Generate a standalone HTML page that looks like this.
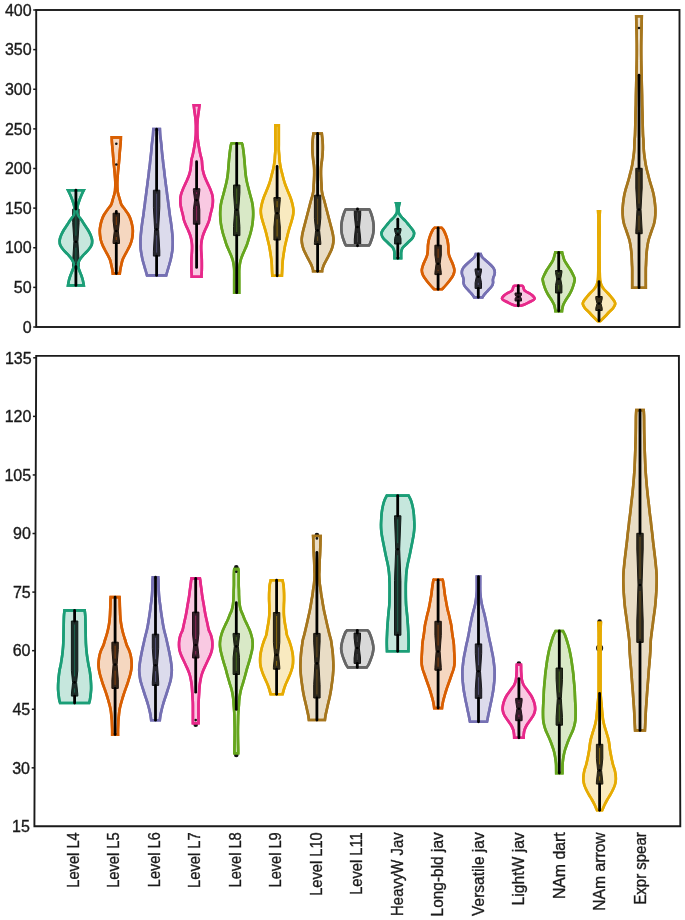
<!DOCTYPE html>
<html><head><meta charset="utf-8"><title>Violin plots</title>
<style>
html,body{margin:0;padding:0;background:#fff;}
body{width:685px;height:920px;overflow:hidden;}
svg{display:block;}
#w{width:685px;height:920px;will-change:transform;filter:blur(0.35px);}
text{font-family:"Liberation Sans",sans-serif;font-size:16px;fill:#1a1a1a;stroke:#1a1a1a;stroke-width:0.35px;}
text.xl{font-size:16.5px;}
</style></head><body><div id="w">
<svg width="685" height="920" viewBox="0 0 685 920">
<rect x="36.2" y="10" width="643.3" height="317" fill="none" stroke="#1a1a1a" stroke-width="1.9"/>
<path d="M36.2,355.9 L678.9,355.9 L680.3,826.3 L34.4,826.3 Z" fill="none" stroke="#1a1a1a" stroke-width="1.9" stroke-linejoin="miter"/>
<line x1="33.2" y1="10" x2="36.2" y2="10" stroke="#1a1a1a" stroke-width="1.5"/>
<text x="31.6" y="15.7" text-anchor="end">400</text>
<line x1="33.2" y1="49.62" x2="36.2" y2="49.62" stroke="#1a1a1a" stroke-width="1.5"/>
<text x="31.6" y="55.33" text-anchor="end">350</text>
<line x1="33.2" y1="89.25" x2="36.2" y2="89.25" stroke="#1a1a1a" stroke-width="1.5"/>
<text x="31.6" y="94.95" text-anchor="end">300</text>
<line x1="33.2" y1="128.88" x2="36.2" y2="128.88" stroke="#1a1a1a" stroke-width="1.5"/>
<text x="31.6" y="134.57" text-anchor="end">250</text>
<line x1="33.2" y1="168.5" x2="36.2" y2="168.5" stroke="#1a1a1a" stroke-width="1.5"/>
<text x="31.6" y="174.2" text-anchor="end">200</text>
<line x1="33.2" y1="208.12" x2="36.2" y2="208.12" stroke="#1a1a1a" stroke-width="1.5"/>
<text x="31.6" y="213.82" text-anchor="end">150</text>
<line x1="33.2" y1="247.75" x2="36.2" y2="247.75" stroke="#1a1a1a" stroke-width="1.5"/>
<text x="31.6" y="253.45" text-anchor="end">100</text>
<line x1="33.2" y1="287.38" x2="36.2" y2="287.38" stroke="#1a1a1a" stroke-width="1.5"/>
<text x="31.6" y="293.07" text-anchor="end">50</text>
<line x1="33.2" y1="327" x2="36.2" y2="327" stroke="#1a1a1a" stroke-width="1.5"/>
<text x="31.6" y="332.7" text-anchor="end">0</text>
<line x1="33.19" y1="357.8" x2="36.19" y2="357.8" stroke="#1a1a1a" stroke-width="1.5"/>
<text x="31.59" y="363.5" text-anchor="end">135</text>
<line x1="32.97" y1="416.38" x2="35.97" y2="416.38" stroke="#1a1a1a" stroke-width="1.5"/>
<text x="31.37" y="422.07" text-anchor="end">120</text>
<line x1="32.74" y1="474.95" x2="35.74" y2="474.95" stroke="#1a1a1a" stroke-width="1.5"/>
<text x="31.14" y="480.65" text-anchor="end">105</text>
<line x1="32.52" y1="533.52" x2="35.52" y2="533.52" stroke="#1a1a1a" stroke-width="1.5"/>
<text x="30.92" y="539.23" text-anchor="end">90</text>
<line x1="32.3" y1="592.1" x2="35.3" y2="592.1" stroke="#1a1a1a" stroke-width="1.5"/>
<text x="30.7" y="597.8" text-anchor="end">75</text>
<line x1="32.07" y1="650.67" x2="35.07" y2="650.67" stroke="#1a1a1a" stroke-width="1.5"/>
<text x="30.47" y="656.38" text-anchor="end">60</text>
<line x1="31.85" y1="709.25" x2="34.85" y2="709.25" stroke="#1a1a1a" stroke-width="1.5"/>
<text x="30.25" y="714.95" text-anchor="end">45</text>
<line x1="31.62" y1="767.83" x2="34.62" y2="767.83" stroke="#1a1a1a" stroke-width="1.5"/>
<text x="30.02" y="773.53" text-anchor="end">30</text>
<text x="29.8" y="832.1" text-anchor="end">15</text>
<path d="M68,190.2 L83.8,190.2 C83.42,191 82.22,193.37 81.5,195 C80.78,196.63 80.1,198.33 79.5,200 C78.9,201.67 78.28,203.33 77.9,205 C77.52,206.67 77.2,208.33 77.2,210 C77.2,211.67 77.18,213.33 77.9,215 C78.62,216.67 80.37,218.33 81.5,220 C82.63,221.67 83.62,223.33 84.7,225 C85.78,226.67 87.02,228.33 88,230 C88.98,231.67 89.92,233.33 90.6,235 C91.28,236.67 91.93,238.33 92.1,240 C92.27,241.67 92.23,243.33 91.6,245 C90.97,246.67 89.67,248.33 88.3,250 C86.93,251.67 84.87,253.33 83.4,255 C81.93,256.67 80.43,258.33 79.5,260 C78.57,261.67 77.85,263.33 77.8,265 C77.75,266.67 78.63,268.33 79.2,270 C79.77,271.67 80.6,273.33 81.2,275 C81.8,276.67 82.37,278.27 82.8,280 C83.23,281.73 83.63,284.5 83.8,285.4 L68,285.4 C68.17,284.5 68.57,281.73 69,280 C69.43,278.27 70,276.67 70.6,275 C71.2,273.33 72.03,271.67 72.6,270 C73.17,268.33 74.05,266.67 74,265 C73.95,263.33 73.23,261.67 72.3,260 C71.37,258.33 69.87,256.67 68.4,255 C66.93,253.33 64.87,251.67 63.5,250 C62.13,248.33 60.83,246.67 60.2,245 C59.57,243.33 59.53,241.67 59.7,240 C59.87,238.33 60.52,236.67 61.2,235 C61.88,233.33 62.82,231.67 63.8,230 C64.78,228.33 66.02,226.67 67.1,225 C68.18,223.33 69.17,221.67 70.3,220 C71.43,218.33 73.18,216.67 73.9,215 C74.62,213.33 74.6,211.67 74.6,210 C74.6,208.33 74.28,206.67 73.9,205 C73.52,203.33 72.9,201.67 72.3,200 C71.7,198.33 71.02,196.63 70.3,195 C69.58,193.37 68.38,191 68,190.2 Z" fill="#1b9e77" fill-opacity="0.25" stroke="#1b9e77" stroke-width="2.6" stroke-linejoin="miter" stroke-miterlimit="3"/>
<path d="M72.7,209.1 L79.1,209.1 L79.1,222.69 L77.9,241.7 L79.1,260.71 L79.1,266.7 L72.7,266.7 L72.7,260.71 L73.9,241.7 L72.7,222.69 Z" fill="#1d2c28" stroke="#101a17" stroke-width="1" stroke-linejoin="miter"/>
<line x1="75.9" y1="212.6" x2="75.9" y2="235.7" stroke="#1b9e77" stroke-opacity="0.85" stroke-width="0.6"/>
<line x1="75.9" y1="247.7" x2="75.9" y2="263.2" stroke="#1b9e77" stroke-opacity="0.85" stroke-width="0.6"/>
<path d="M68,190.2 L83.8,190.2 C83.42,191 82.22,193.37 81.5,195 C80.78,196.63 80.1,198.33 79.5,200 C78.9,201.67 78.28,203.33 77.9,205 C77.52,206.67 77.2,208.33 77.2,210 C77.2,211.67 77.18,213.33 77.9,215 C78.62,216.67 80.37,218.33 81.5,220 C82.63,221.67 83.62,223.33 84.7,225 C85.78,226.67 87.02,228.33 88,230 C88.98,231.67 89.92,233.33 90.6,235 C91.28,236.67 91.93,238.33 92.1,240 C92.27,241.67 92.23,243.33 91.6,245 C90.97,246.67 89.67,248.33 88.3,250 C86.93,251.67 84.87,253.33 83.4,255 C81.93,256.67 80.43,258.33 79.5,260 C78.57,261.67 77.85,263.33 77.8,265 C77.75,266.67 78.63,268.33 79.2,270 C79.77,271.67 80.6,273.33 81.2,275 C81.8,276.67 82.37,278.27 82.8,280 C83.23,281.73 83.63,284.5 83.8,285.4 L68,285.4 C68.17,284.5 68.57,281.73 69,280 C69.43,278.27 70,276.67 70.6,275 C71.2,273.33 72.03,271.67 72.6,270 C73.17,268.33 74.05,266.67 74,265 C73.95,263.33 73.23,261.67 72.3,260 C71.37,258.33 69.87,256.67 68.4,255 C66.93,253.33 64.87,251.67 63.5,250 C62.13,248.33 60.83,246.67 60.2,245 C59.57,243.33 59.53,241.67 59.7,240 C59.87,238.33 60.52,236.67 61.2,235 C61.88,233.33 62.82,231.67 63.8,230 C64.78,228.33 66.02,226.67 67.1,225 C68.18,223.33 69.17,221.67 70.3,220 C71.43,218.33 73.18,216.67 73.9,215 C74.62,213.33 74.6,211.67 74.6,210 C74.6,208.33 74.28,206.67 73.9,205 C73.52,203.33 72.9,201.67 72.3,200 C71.7,198.33 71.02,196.63 70.3,195 C69.58,193.37 68.38,191 68,190.2 Z" fill="none" stroke="#1b9e77" stroke-width="2.6" stroke-linejoin="miter" stroke-miterlimit="3"/>
<line x1="75.9" y1="190.2" x2="75.9" y2="209.1" stroke="#000" stroke-width="2.8" stroke-linecap="round"/>
<line x1="75.9" y1="266.7" x2="75.9" y2="285.4" stroke="#000" stroke-width="2.8" stroke-linecap="round"/>
<circle cx="75.9" cy="241.7" r="1.3" fill="#000"/>
<path d="M111.75,137.4 L120.85,137.4 C120.82,138.17 120.88,139.57 120.7,142 C120.53,144.43 120.08,148.67 119.8,152 C119.52,155.33 119.3,158.67 119,162 C118.7,165.33 118.28,168.67 118,172 C117.72,175.33 117.38,179 117.3,182 C117.22,185 117.35,188 117.5,190 C117.65,192 117.88,192.67 118.2,194 C118.52,195.33 119.02,196.67 119.4,198 C119.78,199.33 120.13,200.83 120.5,202 C120.87,203.17 120.8,203.67 121.6,205 C122.4,206.33 124.12,208.33 125.3,210 C126.48,211.67 127.78,213.33 128.7,215 C129.62,216.67 130.23,218.33 130.8,220 C131.37,221.67 131.77,223.33 132.1,225 C132.43,226.67 132.72,228.33 132.8,230 C132.88,231.67 132.77,233.33 132.6,235 C132.43,236.67 132.22,238.33 131.8,240 C131.38,241.67 130.8,243.33 130.1,245 C129.4,246.67 128.47,248.33 127.6,250 C126.73,251.67 125.75,253.33 124.9,255 C124.05,256.67 123.1,258.33 122.5,260 C121.9,261.67 121.65,263.5 121.3,265 C120.95,266.5 120.65,267.57 120.4,269 C120.15,270.43 119.9,272.83 119.8,273.6 L112.8,273.6 C112.7,272.83 112.45,270.43 112.2,269 C111.95,267.57 111.65,266.5 111.3,265 C110.95,263.5 110.7,261.67 110.1,260 C109.5,258.33 108.55,256.67 107.7,255 C106.85,253.33 105.87,251.67 105,250 C104.13,248.33 103.2,246.67 102.5,245 C101.8,243.33 101.22,241.67 100.8,240 C100.38,238.33 100.17,236.67 100,235 C99.83,233.33 99.72,231.67 99.8,230 C99.88,228.33 100.17,226.67 100.5,225 C100.83,223.33 101.23,221.67 101.8,220 C102.37,218.33 102.98,216.67 103.9,215 C104.82,213.33 106.12,211.67 107.3,210 C108.48,208.33 110.2,206.33 111,205 C111.8,203.67 111.73,203.17 112.1,202 C112.47,200.83 112.82,199.33 113.2,198 C113.58,196.67 114.08,195.33 114.4,194 C114.72,192.67 114.95,192 115.1,190 C115.25,188 115.38,185 115.3,182 C115.22,179 114.88,175.33 114.6,172 C114.32,168.67 113.9,165.33 113.6,162 C113.3,158.67 113.08,155.33 112.8,152 C112.52,148.67 112.07,144.43 111.9,142 C111.72,139.57 111.78,138.17 111.75,137.4 Z" fill="#d95f02" fill-opacity="0.25" stroke="#d95f02" stroke-width="2.6" stroke-linejoin="miter" stroke-miterlimit="3"/>
<path d="M113.1,213.2 L119.5,213.2 L119.5,221 L118.3,231 L119.5,241 L119.5,243.5 L113.1,243.5 L113.1,241 L114.3,231 L113.1,221 Z" fill="#34251a" stroke="#1f150e" stroke-width="1" stroke-linejoin="miter"/>
<line x1="116.3" y1="216.7" x2="116.3" y2="225" stroke="#d95f02" stroke-opacity="0.85" stroke-width="0.6"/>
<line x1="116.3" y1="237" x2="116.3" y2="240" stroke="#d95f02" stroke-opacity="0.85" stroke-width="0.6"/>
<path d="M111.75,137.4 L120.85,137.4 C120.82,138.17 120.88,139.57 120.7,142 C120.53,144.43 120.08,148.67 119.8,152 C119.52,155.33 119.3,158.67 119,162 C118.7,165.33 118.28,168.67 118,172 C117.72,175.33 117.38,179 117.3,182 C117.22,185 117.35,188 117.5,190 C117.65,192 117.88,192.67 118.2,194 C118.52,195.33 119.02,196.67 119.4,198 C119.78,199.33 120.13,200.83 120.5,202 C120.87,203.17 120.8,203.67 121.6,205 C122.4,206.33 124.12,208.33 125.3,210 C126.48,211.67 127.78,213.33 128.7,215 C129.62,216.67 130.23,218.33 130.8,220 C131.37,221.67 131.77,223.33 132.1,225 C132.43,226.67 132.72,228.33 132.8,230 C132.88,231.67 132.77,233.33 132.6,235 C132.43,236.67 132.22,238.33 131.8,240 C131.38,241.67 130.8,243.33 130.1,245 C129.4,246.67 128.47,248.33 127.6,250 C126.73,251.67 125.75,253.33 124.9,255 C124.05,256.67 123.1,258.33 122.5,260 C121.9,261.67 121.65,263.5 121.3,265 C120.95,266.5 120.65,267.57 120.4,269 C120.15,270.43 119.9,272.83 119.8,273.6 L112.8,273.6 C112.7,272.83 112.45,270.43 112.2,269 C111.95,267.57 111.65,266.5 111.3,265 C110.95,263.5 110.7,261.67 110.1,260 C109.5,258.33 108.55,256.67 107.7,255 C106.85,253.33 105.87,251.67 105,250 C104.13,248.33 103.2,246.67 102.5,245 C101.8,243.33 101.22,241.67 100.8,240 C100.38,238.33 100.17,236.67 100,235 C99.83,233.33 99.72,231.67 99.8,230 C99.88,228.33 100.17,226.67 100.5,225 C100.83,223.33 101.23,221.67 101.8,220 C102.37,218.33 102.98,216.67 103.9,215 C104.82,213.33 106.12,211.67 107.3,210 C108.48,208.33 110.2,206.33 111,205 C111.8,203.67 111.73,203.17 112.1,202 C112.47,200.83 112.82,199.33 113.2,198 C113.58,196.67 114.08,195.33 114.4,194 C114.72,192.67 114.95,192 115.1,190 C115.25,188 115.38,185 115.3,182 C115.22,179 114.88,175.33 114.6,172 C114.32,168.67 113.9,165.33 113.6,162 C113.3,158.67 113.08,155.33 112.8,152 C112.52,148.67 112.07,144.43 111.9,142 C111.72,139.57 111.78,138.17 111.75,137.4 Z" fill="none" stroke="#d95f02" stroke-width="2.6" stroke-linejoin="miter" stroke-miterlimit="3"/>
<line x1="116.3" y1="211.5" x2="116.3" y2="213.2" stroke="#000" stroke-width="2.8" stroke-linecap="round"/>
<line x1="116.3" y1="243.5" x2="116.3" y2="273.6" stroke="#000" stroke-width="2.8" stroke-linecap="round"/>
<circle cx="116.3" cy="231" r="1.3" fill="#000"/>
<circle cx="116.3" cy="143.8" r="1.3" fill="#111"/>
<circle cx="116.3" cy="164.5" r="1.3" fill="#111"/>
<path d="M153.3,129.1 L159.9,129.1 C159.95,130.08 160.05,133.18 160.2,135 C160.35,136.82 160.6,138.33 160.8,140 C161,141.67 161.23,143.33 161.4,145 C161.57,146.67 161.65,148.33 161.8,150 C161.95,151.67 162.12,153.33 162.3,155 C162.48,156.67 162.72,158.33 162.9,160 C163.08,161.67 163.2,163.33 163.4,165 C163.6,166.67 163.9,168.33 164.1,170 C164.3,171.67 164.4,173.33 164.6,175 C164.8,176.67 165.08,178.33 165.3,180 C165.52,181.67 165.68,183.33 165.9,185 C166.12,186.67 166.38,188.33 166.6,190 C166.82,191.67 166.98,193.33 167.2,195 C167.42,196.67 167.68,198.33 167.9,200 C168.12,201.67 168.28,203.33 168.5,205 C168.72,206.67 168.98,208.33 169.2,210 C169.42,211.67 169.57,213.33 169.8,215 C170.03,216.67 170.35,218.33 170.6,220 C170.85,221.67 171.08,223.33 171.3,225 C171.52,226.67 171.72,228.33 171.9,230 C172.08,231.67 172.27,233.33 172.4,235 C172.53,236.67 172.65,238.33 172.7,240 C172.75,241.67 172.75,243.33 172.7,245 C172.65,246.67 172.58,248.33 172.4,250 C172.22,251.67 171.9,253.33 171.6,255 C171.3,256.67 171,258.33 170.6,260 C170.2,261.67 169.68,263.33 169.2,265 C168.72,266.67 168.2,268.27 167.7,270 C167.2,271.73 166.45,274.5 166.2,275.4 L147,275.4 C146.75,274.5 146,271.73 145.5,270 C145,268.27 144.48,266.67 144,265 C143.52,263.33 143,261.67 142.6,260 C142.2,258.33 141.9,256.67 141.6,255 C141.3,253.33 140.98,251.67 140.8,250 C140.62,248.33 140.55,246.67 140.5,245 C140.45,243.33 140.45,241.67 140.5,240 C140.55,238.33 140.67,236.67 140.8,235 C140.93,233.33 141.12,231.67 141.3,230 C141.48,228.33 141.68,226.67 141.9,225 C142.12,223.33 142.35,221.67 142.6,220 C142.85,218.33 143.17,216.67 143.4,215 C143.63,213.33 143.78,211.67 144,210 C144.22,208.33 144.48,206.67 144.7,205 C144.92,203.33 145.08,201.67 145.3,200 C145.52,198.33 145.78,196.67 146,195 C146.22,193.33 146.38,191.67 146.6,190 C146.82,188.33 147.08,186.67 147.3,185 C147.52,183.33 147.68,181.67 147.9,180 C148.12,178.33 148.4,176.67 148.6,175 C148.8,173.33 148.9,171.67 149.1,170 C149.3,168.33 149.6,166.67 149.8,165 C150,163.33 150.12,161.67 150.3,160 C150.48,158.33 150.72,156.67 150.9,155 C151.08,153.33 151.25,151.67 151.4,150 C151.55,148.33 151.63,146.67 151.8,145 C151.97,143.33 152.2,141.67 152.4,140 C152.6,138.33 152.85,136.82 153,135 C153.15,133.18 153.25,130.08 153.3,129.1 Z" fill="#7570b3" fill-opacity="0.25" stroke="#7570b3" stroke-width="2.6" stroke-linejoin="miter" stroke-miterlimit="3"/>
<path d="M153.4,190.2 L159.8,190.2 L159.8,207.65 L158.6,229.4 L159.8,251.15 L159.8,256.1 L153.4,256.1 L153.4,251.15 L154.6,229.4 L153.4,207.65 Z" fill="#28272f" stroke="#17161c" stroke-width="1" stroke-linejoin="miter"/>
<line x1="156.6" y1="193.7" x2="156.6" y2="223.4" stroke="#7570b3" stroke-opacity="0.85" stroke-width="0.6"/>
<line x1="156.6" y1="235.4" x2="156.6" y2="252.6" stroke="#7570b3" stroke-opacity="0.85" stroke-width="0.6"/>
<path d="M153.3,129.1 L159.9,129.1 C159.95,130.08 160.05,133.18 160.2,135 C160.35,136.82 160.6,138.33 160.8,140 C161,141.67 161.23,143.33 161.4,145 C161.57,146.67 161.65,148.33 161.8,150 C161.95,151.67 162.12,153.33 162.3,155 C162.48,156.67 162.72,158.33 162.9,160 C163.08,161.67 163.2,163.33 163.4,165 C163.6,166.67 163.9,168.33 164.1,170 C164.3,171.67 164.4,173.33 164.6,175 C164.8,176.67 165.08,178.33 165.3,180 C165.52,181.67 165.68,183.33 165.9,185 C166.12,186.67 166.38,188.33 166.6,190 C166.82,191.67 166.98,193.33 167.2,195 C167.42,196.67 167.68,198.33 167.9,200 C168.12,201.67 168.28,203.33 168.5,205 C168.72,206.67 168.98,208.33 169.2,210 C169.42,211.67 169.57,213.33 169.8,215 C170.03,216.67 170.35,218.33 170.6,220 C170.85,221.67 171.08,223.33 171.3,225 C171.52,226.67 171.72,228.33 171.9,230 C172.08,231.67 172.27,233.33 172.4,235 C172.53,236.67 172.65,238.33 172.7,240 C172.75,241.67 172.75,243.33 172.7,245 C172.65,246.67 172.58,248.33 172.4,250 C172.22,251.67 171.9,253.33 171.6,255 C171.3,256.67 171,258.33 170.6,260 C170.2,261.67 169.68,263.33 169.2,265 C168.72,266.67 168.2,268.27 167.7,270 C167.2,271.73 166.45,274.5 166.2,275.4 L147,275.4 C146.75,274.5 146,271.73 145.5,270 C145,268.27 144.48,266.67 144,265 C143.52,263.33 143,261.67 142.6,260 C142.2,258.33 141.9,256.67 141.6,255 C141.3,253.33 140.98,251.67 140.8,250 C140.62,248.33 140.55,246.67 140.5,245 C140.45,243.33 140.45,241.67 140.5,240 C140.55,238.33 140.67,236.67 140.8,235 C140.93,233.33 141.12,231.67 141.3,230 C141.48,228.33 141.68,226.67 141.9,225 C142.12,223.33 142.35,221.67 142.6,220 C142.85,218.33 143.17,216.67 143.4,215 C143.63,213.33 143.78,211.67 144,210 C144.22,208.33 144.48,206.67 144.7,205 C144.92,203.33 145.08,201.67 145.3,200 C145.52,198.33 145.78,196.67 146,195 C146.22,193.33 146.38,191.67 146.6,190 C146.82,188.33 147.08,186.67 147.3,185 C147.52,183.33 147.68,181.67 147.9,180 C148.12,178.33 148.4,176.67 148.6,175 C148.8,173.33 148.9,171.67 149.1,170 C149.3,168.33 149.6,166.67 149.8,165 C150,163.33 150.12,161.67 150.3,160 C150.48,158.33 150.72,156.67 150.9,155 C151.08,153.33 151.25,151.67 151.4,150 C151.55,148.33 151.63,146.67 151.8,145 C151.97,143.33 152.2,141.67 152.4,140 C152.6,138.33 152.85,136.82 153,135 C153.15,133.18 153.25,130.08 153.3,129.1 Z" fill="none" stroke="#7570b3" stroke-width="2.6" stroke-linejoin="miter" stroke-miterlimit="3"/>
<line x1="156.6" y1="129.1" x2="156.6" y2="190.2" stroke="#000" stroke-width="2.8" stroke-linecap="round"/>
<line x1="156.6" y1="256.1" x2="156.6" y2="275.4" stroke="#000" stroke-width="2.8" stroke-linecap="round"/>
<circle cx="156.6" cy="229.4" r="1.3" fill="#000"/>
<path d="M193.7,105.2 L199.5,105.2 C199.4,106 199.12,108.37 198.9,110 C198.68,111.63 198.42,113.33 198.2,115 C197.98,116.67 197.75,118.33 197.6,120 C197.45,121.67 197.35,123.33 197.3,125 C197.25,126.67 197.28,128.33 197.3,130 C197.32,131.67 197.3,133.33 197.4,135 C197.5,136.67 197.7,138.33 197.9,140 C198.1,141.67 198.33,143.33 198.6,145 C198.87,146.67 199.18,148.33 199.5,150 C199.82,151.67 200.12,153.33 200.5,155 C200.88,156.67 201.52,158.33 201.8,160 C202.08,161.67 202.03,163.33 202.2,165 C202.37,166.67 202.48,168.33 202.8,170 C203.12,171.67 203.55,173.33 204.1,175 C204.65,176.67 205.38,178.33 206.1,180 C206.82,181.67 207.65,183.33 208.4,185 C209.15,186.67 209.95,188.33 210.6,190 C211.25,191.67 211.92,193.33 212.3,195 C212.68,196.67 212.85,198.33 212.9,200 C212.95,201.67 212.82,203.33 212.6,205 C212.38,206.67 211.98,208.33 211.6,210 C211.22,211.67 210.68,213.33 210.3,215 C209.92,216.67 209.78,218.33 209.3,220 C208.82,221.67 208.1,223.33 207.4,225 C206.7,226.67 205.82,228.33 205.1,230 C204.38,231.67 203.65,233.33 203.1,235 C202.55,236.67 202.12,238.33 201.8,240 C201.48,241.67 201.3,243.33 201.2,245 C201.1,246.67 201.15,248.33 201.2,250 C201.25,251.67 201.4,253.33 201.5,255 C201.6,256.67 201.75,257.5 201.8,260 C201.85,262.5 201.85,267.5 201.8,270 C201.75,272.5 201.55,273.87 201.5,275 C201.45,276.13 201.5,276.5 201.5,276.8 L191.7,276.8 C191.7,276.5 191.75,276.13 191.7,275 C191.65,273.87 191.45,272.5 191.4,270 C191.35,267.5 191.35,262.5 191.4,260 C191.45,257.5 191.6,256.67 191.7,255 C191.8,253.33 191.95,251.67 192,250 C192.05,248.33 192.1,246.67 192,245 C191.9,243.33 191.72,241.67 191.4,240 C191.08,238.33 190.65,236.67 190.1,235 C189.55,233.33 188.82,231.67 188.1,230 C187.38,228.33 186.5,226.67 185.8,225 C185.1,223.33 184.38,221.67 183.9,220 C183.42,218.33 183.28,216.67 182.9,215 C182.52,213.33 181.98,211.67 181.6,210 C181.22,208.33 180.82,206.67 180.6,205 C180.38,203.33 180.25,201.67 180.3,200 C180.35,198.33 180.52,196.67 180.9,195 C181.28,193.33 181.95,191.67 182.6,190 C183.25,188.33 184.05,186.67 184.8,185 C185.55,183.33 186.38,181.67 187.1,180 C187.82,178.33 188.55,176.67 189.1,175 C189.65,173.33 190.08,171.67 190.4,170 C190.72,168.33 190.83,166.67 191,165 C191.17,163.33 191.12,161.67 191.4,160 C191.68,158.33 192.32,156.67 192.7,155 C193.08,153.33 193.38,151.67 193.7,150 C194.02,148.33 194.33,146.67 194.6,145 C194.87,143.33 195.1,141.67 195.3,140 C195.5,138.33 195.7,136.67 195.8,135 C195.9,133.33 195.88,131.67 195.9,130 C195.92,128.33 195.95,126.67 195.9,125 C195.85,123.33 195.75,121.67 195.6,120 C195.45,118.33 195.22,116.67 195,115 C194.78,113.33 194.52,111.63 194.3,110 C194.08,108.37 193.8,106 193.7,105.2 Z" fill="#e7298a" fill-opacity="0.25" stroke="#e7298a" stroke-width="2.6" stroke-linejoin="miter" stroke-miterlimit="3"/>
<path d="M193.4,188.7 L199.8,188.7 L199.8,190.7 L198.6,200.1 L199.8,209.5 L199.8,224.2 L193.4,224.2 L193.4,209.5 L194.6,200.1 L193.4,190.7 Z" fill="#351e2a" stroke="#201119" stroke-width="1" stroke-linejoin="miter"/>
<line x1="196.6" y1="192.2" x2="196.6" y2="194.1" stroke="#e7298a" stroke-opacity="0.85" stroke-width="0.6"/>
<line x1="196.6" y1="206.1" x2="196.6" y2="220.7" stroke="#e7298a" stroke-opacity="0.85" stroke-width="0.6"/>
<path d="M193.7,105.2 L199.5,105.2 C199.4,106 199.12,108.37 198.9,110 C198.68,111.63 198.42,113.33 198.2,115 C197.98,116.67 197.75,118.33 197.6,120 C197.45,121.67 197.35,123.33 197.3,125 C197.25,126.67 197.28,128.33 197.3,130 C197.32,131.67 197.3,133.33 197.4,135 C197.5,136.67 197.7,138.33 197.9,140 C198.1,141.67 198.33,143.33 198.6,145 C198.87,146.67 199.18,148.33 199.5,150 C199.82,151.67 200.12,153.33 200.5,155 C200.88,156.67 201.52,158.33 201.8,160 C202.08,161.67 202.03,163.33 202.2,165 C202.37,166.67 202.48,168.33 202.8,170 C203.12,171.67 203.55,173.33 204.1,175 C204.65,176.67 205.38,178.33 206.1,180 C206.82,181.67 207.65,183.33 208.4,185 C209.15,186.67 209.95,188.33 210.6,190 C211.25,191.67 211.92,193.33 212.3,195 C212.68,196.67 212.85,198.33 212.9,200 C212.95,201.67 212.82,203.33 212.6,205 C212.38,206.67 211.98,208.33 211.6,210 C211.22,211.67 210.68,213.33 210.3,215 C209.92,216.67 209.78,218.33 209.3,220 C208.82,221.67 208.1,223.33 207.4,225 C206.7,226.67 205.82,228.33 205.1,230 C204.38,231.67 203.65,233.33 203.1,235 C202.55,236.67 202.12,238.33 201.8,240 C201.48,241.67 201.3,243.33 201.2,245 C201.1,246.67 201.15,248.33 201.2,250 C201.25,251.67 201.4,253.33 201.5,255 C201.6,256.67 201.75,257.5 201.8,260 C201.85,262.5 201.85,267.5 201.8,270 C201.75,272.5 201.55,273.87 201.5,275 C201.45,276.13 201.5,276.5 201.5,276.8 L191.7,276.8 C191.7,276.5 191.75,276.13 191.7,275 C191.65,273.87 191.45,272.5 191.4,270 C191.35,267.5 191.35,262.5 191.4,260 C191.45,257.5 191.6,256.67 191.7,255 C191.8,253.33 191.95,251.67 192,250 C192.05,248.33 192.1,246.67 192,245 C191.9,243.33 191.72,241.67 191.4,240 C191.08,238.33 190.65,236.67 190.1,235 C189.55,233.33 188.82,231.67 188.1,230 C187.38,228.33 186.5,226.67 185.8,225 C185.1,223.33 184.38,221.67 183.9,220 C183.42,218.33 183.28,216.67 182.9,215 C182.52,213.33 181.98,211.67 181.6,210 C181.22,208.33 180.82,206.67 180.6,205 C180.38,203.33 180.25,201.67 180.3,200 C180.35,198.33 180.52,196.67 180.9,195 C181.28,193.33 181.95,191.67 182.6,190 C183.25,188.33 184.05,186.67 184.8,185 C185.55,183.33 186.38,181.67 187.1,180 C187.82,178.33 188.55,176.67 189.1,175 C189.65,173.33 190.08,171.67 190.4,170 C190.72,168.33 190.83,166.67 191,165 C191.17,163.33 191.12,161.67 191.4,160 C191.68,158.33 192.32,156.67 192.7,155 C193.08,153.33 193.38,151.67 193.7,150 C194.02,148.33 194.33,146.67 194.6,145 C194.87,143.33 195.1,141.67 195.3,140 C195.5,138.33 195.7,136.67 195.8,135 C195.9,133.33 195.88,131.67 195.9,130 C195.92,128.33 195.95,126.67 195.9,125 C195.85,123.33 195.75,121.67 195.6,120 C195.45,118.33 195.22,116.67 195,115 C194.78,113.33 194.52,111.63 194.3,110 C194.08,108.37 193.8,106 193.7,105.2 Z" fill="none" stroke="#e7298a" stroke-width="2.6" stroke-linejoin="miter" stroke-miterlimit="3"/>
<line x1="196.6" y1="161.7" x2="196.6" y2="188.7" stroke="#000" stroke-width="2.8" stroke-linecap="round"/>
<line x1="196.6" y1="224.2" x2="196.6" y2="267.4" stroke="#000" stroke-width="2.8" stroke-linecap="round"/>
<circle cx="196.6" cy="200.1" r="1.3" fill="#000"/>
<path d="M231.6,143.3 L241.8,143.3 C241.92,143.58 242.25,143.88 242.5,145 C242.75,146.12 243.07,148.33 243.3,150 C243.53,151.67 243.72,153.33 243.9,155 C244.08,156.67 244.25,158.33 244.4,160 C244.55,161.67 244.67,163.33 244.8,165 C244.93,166.67 245.05,168.33 245.2,170 C245.35,171.67 245.48,173.33 245.7,175 C245.92,176.67 246.18,178.33 246.5,180 C246.82,181.67 247.2,183.33 247.6,185 C248,186.67 248.47,188.33 248.9,190 C249.33,191.67 249.75,193.33 250.2,195 C250.65,196.67 251.2,198.33 251.6,200 C252,201.67 252.35,203.33 252.6,205 C252.85,206.67 253,208.33 253.1,210 C253.2,211.67 253.23,213.33 253.2,215 C253.17,216.67 253.05,218.33 252.9,220 C252.75,221.67 252.57,223.33 252.3,225 C252.03,226.67 251.68,228.33 251.3,230 C250.92,231.67 250.48,233.33 250,235 C249.52,236.67 248.93,238.33 248.4,240 C247.87,241.67 247.42,243.33 246.8,245 C246.18,246.67 245.42,248.33 244.7,250 C243.98,251.67 243.17,253.33 242.5,255 C241.83,256.67 241.17,258.33 240.7,260 C240.23,261.67 239.95,263.33 239.7,265 C239.45,266.67 239.28,267.5 239.2,270 C239.12,272.5 239.2,276.22 239.2,280 C239.2,283.78 239.2,290.58 239.2,292.7 L234.2,292.7 C234.2,290.58 234.2,283.78 234.2,280 C234.2,276.22 234.28,272.5 234.2,270 C234.12,267.5 233.95,266.67 233.7,265 C233.45,263.33 233.17,261.67 232.7,260 C232.23,258.33 231.57,256.67 230.9,255 C230.23,253.33 229.42,251.67 228.7,250 C227.98,248.33 227.22,246.67 226.6,245 C225.98,243.33 225.53,241.67 225,240 C224.47,238.33 223.88,236.67 223.4,235 C222.92,233.33 222.48,231.67 222.1,230 C221.72,228.33 221.37,226.67 221.1,225 C220.83,223.33 220.65,221.67 220.5,220 C220.35,218.33 220.23,216.67 220.2,215 C220.17,213.33 220.2,211.67 220.3,210 C220.4,208.33 220.55,206.67 220.8,205 C221.05,203.33 221.4,201.67 221.8,200 C222.2,198.33 222.75,196.67 223.2,195 C223.65,193.33 224.07,191.67 224.5,190 C224.93,188.33 225.4,186.67 225.8,185 C226.2,183.33 226.58,181.67 226.9,180 C227.22,178.33 227.48,176.67 227.7,175 C227.92,173.33 228.05,171.67 228.2,170 C228.35,168.33 228.47,166.67 228.6,165 C228.73,163.33 228.85,161.67 229,160 C229.15,158.33 229.32,156.67 229.5,155 C229.68,153.33 229.87,151.67 230.1,150 C230.33,148.33 230.65,146.12 230.9,145 C231.15,143.88 231.48,143.58 231.6,143.3 Z" fill="#66a61e" fill-opacity="0.25" stroke="#66a61e" stroke-width="2.6" stroke-linejoin="miter" stroke-miterlimit="3"/>
<path d="M233.5,185 L239.9,185 L239.9,193.1 L238.7,209.8 L239.9,226.5 L239.9,235.6 L233.5,235.6 L233.5,226.5 L234.7,209.8 L233.5,193.1 Z" fill="#262d1d" stroke="#161b10" stroke-width="1" stroke-linejoin="miter"/>
<line x1="236.7" y1="188.5" x2="236.7" y2="203.8" stroke="#66a61e" stroke-opacity="0.85" stroke-width="0.6"/>
<line x1="236.7" y1="215.8" x2="236.7" y2="232.1" stroke="#66a61e" stroke-opacity="0.85" stroke-width="0.6"/>
<path d="M231.6,143.3 L241.8,143.3 C241.92,143.58 242.25,143.88 242.5,145 C242.75,146.12 243.07,148.33 243.3,150 C243.53,151.67 243.72,153.33 243.9,155 C244.08,156.67 244.25,158.33 244.4,160 C244.55,161.67 244.67,163.33 244.8,165 C244.93,166.67 245.05,168.33 245.2,170 C245.35,171.67 245.48,173.33 245.7,175 C245.92,176.67 246.18,178.33 246.5,180 C246.82,181.67 247.2,183.33 247.6,185 C248,186.67 248.47,188.33 248.9,190 C249.33,191.67 249.75,193.33 250.2,195 C250.65,196.67 251.2,198.33 251.6,200 C252,201.67 252.35,203.33 252.6,205 C252.85,206.67 253,208.33 253.1,210 C253.2,211.67 253.23,213.33 253.2,215 C253.17,216.67 253.05,218.33 252.9,220 C252.75,221.67 252.57,223.33 252.3,225 C252.03,226.67 251.68,228.33 251.3,230 C250.92,231.67 250.48,233.33 250,235 C249.52,236.67 248.93,238.33 248.4,240 C247.87,241.67 247.42,243.33 246.8,245 C246.18,246.67 245.42,248.33 244.7,250 C243.98,251.67 243.17,253.33 242.5,255 C241.83,256.67 241.17,258.33 240.7,260 C240.23,261.67 239.95,263.33 239.7,265 C239.45,266.67 239.28,267.5 239.2,270 C239.12,272.5 239.2,276.22 239.2,280 C239.2,283.78 239.2,290.58 239.2,292.7 L234.2,292.7 C234.2,290.58 234.2,283.78 234.2,280 C234.2,276.22 234.28,272.5 234.2,270 C234.12,267.5 233.95,266.67 233.7,265 C233.45,263.33 233.17,261.67 232.7,260 C232.23,258.33 231.57,256.67 230.9,255 C230.23,253.33 229.42,251.67 228.7,250 C227.98,248.33 227.22,246.67 226.6,245 C225.98,243.33 225.53,241.67 225,240 C224.47,238.33 223.88,236.67 223.4,235 C222.92,233.33 222.48,231.67 222.1,230 C221.72,228.33 221.37,226.67 221.1,225 C220.83,223.33 220.65,221.67 220.5,220 C220.35,218.33 220.23,216.67 220.2,215 C220.17,213.33 220.2,211.67 220.3,210 C220.4,208.33 220.55,206.67 220.8,205 C221.05,203.33 221.4,201.67 221.8,200 C222.2,198.33 222.75,196.67 223.2,195 C223.65,193.33 224.07,191.67 224.5,190 C224.93,188.33 225.4,186.67 225.8,185 C226.2,183.33 226.58,181.67 226.9,180 C227.22,178.33 227.48,176.67 227.7,175 C227.92,173.33 228.05,171.67 228.2,170 C228.35,168.33 228.47,166.67 228.6,165 C228.73,163.33 228.85,161.67 229,160 C229.15,158.33 229.32,156.67 229.5,155 C229.68,153.33 229.87,151.67 230.1,150 C230.33,148.33 230.65,146.12 230.9,145 C231.15,143.88 231.48,143.58 231.6,143.3 Z" fill="none" stroke="#66a61e" stroke-width="2.6" stroke-linejoin="miter" stroke-miterlimit="3"/>
<line x1="236.7" y1="143.3" x2="236.7" y2="185" stroke="#000" stroke-width="2.8" stroke-linecap="round"/>
<line x1="236.7" y1="235.6" x2="236.7" y2="292.7" stroke="#000" stroke-width="2.8" stroke-linecap="round"/>
<circle cx="236.7" cy="209.8" r="1.3" fill="#000"/>
<path d="M275.4,125.2 L278.8,125.2 C278.8,126.83 278.8,131.7 278.8,135 C278.8,138.3 278.8,142.5 278.8,145 C278.8,147.5 278.73,148.33 278.8,150 C278.87,151.67 279.08,153.33 279.2,155 C279.32,156.67 279.33,158.33 279.5,160 C279.67,161.67 279.92,163.33 280.2,165 C280.48,166.67 280.82,168.33 281.2,170 C281.58,171.67 282.07,173.33 282.5,175 C282.93,176.67 283.32,178.33 283.8,180 C284.28,181.67 284.8,183.33 285.4,185 C286,186.67 286.72,188.33 287.4,190 C288.08,191.67 288.85,193.33 289.5,195 C290.15,196.67 290.78,198.33 291.3,200 C291.82,201.67 292.25,203.33 292.6,205 C292.95,206.67 293.32,208.33 293.4,210 C293.48,211.67 293.35,213.33 293.1,215 C292.85,216.67 292.35,218.33 291.9,220 C291.45,221.67 290.9,223.33 290.4,225 C289.9,226.67 289.37,228.33 288.9,230 C288.43,231.67 288.02,233.33 287.6,235 C287.18,236.67 286.8,238.33 286.4,240 C286,241.67 285.55,243.33 285.2,245 C284.85,246.67 284.58,248.33 284.3,250 C284.02,251.67 283.75,253.33 283.5,255 C283.25,256.67 282.98,258.33 282.8,260 C282.62,261.67 282.5,263.33 282.4,265 C282.3,266.67 282.28,268.2 282.2,270 C282.12,271.8 281.95,274.83 281.9,275.8 L272.3,275.8 C272.25,274.83 272.08,271.8 272,270 C271.92,268.2 271.9,266.67 271.8,265 C271.7,263.33 271.58,261.67 271.4,260 C271.22,258.33 270.95,256.67 270.7,255 C270.45,253.33 270.18,251.67 269.9,250 C269.62,248.33 269.35,246.67 269,245 C268.65,243.33 268.2,241.67 267.8,240 C267.4,238.33 267.02,236.67 266.6,235 C266.18,233.33 265.77,231.67 265.3,230 C264.83,228.33 264.3,226.67 263.8,225 C263.3,223.33 262.75,221.67 262.3,220 C261.85,218.33 261.35,216.67 261.1,215 C260.85,213.33 260.72,211.67 260.8,210 C260.88,208.33 261.25,206.67 261.6,205 C261.95,203.33 262.38,201.67 262.9,200 C263.42,198.33 264.05,196.67 264.7,195 C265.35,193.33 266.12,191.67 266.8,190 C267.48,188.33 268.2,186.67 268.8,185 C269.4,183.33 269.92,181.67 270.4,180 C270.88,178.33 271.27,176.67 271.7,175 C272.13,173.33 272.62,171.67 273,170 C273.38,168.33 273.72,166.67 274,165 C274.28,163.33 274.53,161.67 274.7,160 C274.87,158.33 274.88,156.67 275,155 C275.12,153.33 275.33,151.67 275.4,150 C275.47,148.33 275.4,147.5 275.4,145 C275.4,142.5 275.4,138.3 275.4,135 C275.4,131.7 275.4,126.83 275.4,125.2 Z" fill="#e6ab02" fill-opacity="0.25" stroke="#e6ab02" stroke-width="2.6" stroke-linejoin="miter" stroke-miterlimit="3"/>
<path d="M273.9,197.6 L280.3,197.6 L280.3,199.6 L279.1,213.3 L280.3,227 L280.3,240 L273.9,240 L273.9,227 L275.1,213.3 L273.9,199.6 Z" fill="#352e1a" stroke="#201b0e" stroke-width="1" stroke-linejoin="miter"/>
<line x1="277.1" y1="201.1" x2="277.1" y2="207.3" stroke="#e6ab02" stroke-opacity="0.85" stroke-width="0.6"/>
<line x1="277.1" y1="219.3" x2="277.1" y2="236.5" stroke="#e6ab02" stroke-opacity="0.85" stroke-width="0.6"/>
<path d="M275.4,125.2 L278.8,125.2 C278.8,126.83 278.8,131.7 278.8,135 C278.8,138.3 278.8,142.5 278.8,145 C278.8,147.5 278.73,148.33 278.8,150 C278.87,151.67 279.08,153.33 279.2,155 C279.32,156.67 279.33,158.33 279.5,160 C279.67,161.67 279.92,163.33 280.2,165 C280.48,166.67 280.82,168.33 281.2,170 C281.58,171.67 282.07,173.33 282.5,175 C282.93,176.67 283.32,178.33 283.8,180 C284.28,181.67 284.8,183.33 285.4,185 C286,186.67 286.72,188.33 287.4,190 C288.08,191.67 288.85,193.33 289.5,195 C290.15,196.67 290.78,198.33 291.3,200 C291.82,201.67 292.25,203.33 292.6,205 C292.95,206.67 293.32,208.33 293.4,210 C293.48,211.67 293.35,213.33 293.1,215 C292.85,216.67 292.35,218.33 291.9,220 C291.45,221.67 290.9,223.33 290.4,225 C289.9,226.67 289.37,228.33 288.9,230 C288.43,231.67 288.02,233.33 287.6,235 C287.18,236.67 286.8,238.33 286.4,240 C286,241.67 285.55,243.33 285.2,245 C284.85,246.67 284.58,248.33 284.3,250 C284.02,251.67 283.75,253.33 283.5,255 C283.25,256.67 282.98,258.33 282.8,260 C282.62,261.67 282.5,263.33 282.4,265 C282.3,266.67 282.28,268.2 282.2,270 C282.12,271.8 281.95,274.83 281.9,275.8 L272.3,275.8 C272.25,274.83 272.08,271.8 272,270 C271.92,268.2 271.9,266.67 271.8,265 C271.7,263.33 271.58,261.67 271.4,260 C271.22,258.33 270.95,256.67 270.7,255 C270.45,253.33 270.18,251.67 269.9,250 C269.62,248.33 269.35,246.67 269,245 C268.65,243.33 268.2,241.67 267.8,240 C267.4,238.33 267.02,236.67 266.6,235 C266.18,233.33 265.77,231.67 265.3,230 C264.83,228.33 264.3,226.67 263.8,225 C263.3,223.33 262.75,221.67 262.3,220 C261.85,218.33 261.35,216.67 261.1,215 C260.85,213.33 260.72,211.67 260.8,210 C260.88,208.33 261.25,206.67 261.6,205 C261.95,203.33 262.38,201.67 262.9,200 C263.42,198.33 264.05,196.67 264.7,195 C265.35,193.33 266.12,191.67 266.8,190 C267.48,188.33 268.2,186.67 268.8,185 C269.4,183.33 269.92,181.67 270.4,180 C270.88,178.33 271.27,176.67 271.7,175 C272.13,173.33 272.62,171.67 273,170 C273.38,168.33 273.72,166.67 274,165 C274.28,163.33 274.53,161.67 274.7,160 C274.87,158.33 274.88,156.67 275,155 C275.12,153.33 275.33,151.67 275.4,150 C275.47,148.33 275.4,147.5 275.4,145 C275.4,142.5 275.4,138.3 275.4,135 C275.4,131.7 275.4,126.83 275.4,125.2 Z" fill="none" stroke="#e6ab02" stroke-width="2.6" stroke-linejoin="miter" stroke-miterlimit="3"/>
<line x1="277.1" y1="166.5" x2="277.1" y2="197.6" stroke="#000" stroke-width="2.8" stroke-linecap="round"/>
<line x1="277.1" y1="240" x2="277.1" y2="275.8" stroke="#000" stroke-width="2.8" stroke-linecap="round"/>
<circle cx="277.1" cy="213.3" r="1.3" fill="#000"/>
<path d="M313.4,133.5 L321.8,133.5 C321.92,134.58 322.33,138.08 322.5,140 C322.67,141.92 322.75,143.33 322.8,145 C322.85,146.67 322.85,148.33 322.8,150 C322.75,151.67 322.63,153.33 322.5,155 C322.37,156.67 322.2,158.33 322,160 C321.8,161.67 321.47,163.33 321.3,165 C321.13,166.67 321.05,168.33 321,170 C320.95,171.67 320.97,173.33 321,175 C321.03,176.67 321.12,178.33 321.2,180 C321.28,181.67 321.42,183.33 321.5,185 C321.58,186.67 321.52,188.33 321.7,190 C321.88,191.67 322.2,193.33 322.6,195 C323,196.67 323.63,198.33 324.1,200 C324.57,201.67 324.97,203.33 325.4,205 C325.83,206.67 326.27,208.33 326.7,210 C327.13,211.67 327.57,213.33 328,215 C328.43,216.67 328.87,218.33 329.3,220 C329.73,221.67 330.17,223.33 330.6,225 C331.03,226.67 331.5,228.33 331.9,230 C332.3,231.67 332.73,233.33 333,235 C333.27,236.67 333.52,238.33 333.5,240 C333.48,241.67 333.25,243.33 332.9,245 C332.55,246.67 332.05,248.33 331.4,250 C330.75,251.67 329.83,253.33 329,255 C328.17,256.67 327.27,258.33 326.4,260 C325.53,261.67 324.5,263.33 323.8,265 C323.1,266.67 322.48,268.95 322.2,270 C321.92,271.05 322.12,271.08 322.1,271.3 L313.1,271.3 C313.08,271.08 313.28,271.05 313,270 C312.72,268.95 312.1,266.67 311.4,265 C310.7,263.33 309.67,261.67 308.8,260 C307.93,258.33 307.03,256.67 306.2,255 C305.37,253.33 304.45,251.67 303.8,250 C303.15,248.33 302.65,246.67 302.3,245 C301.95,243.33 301.72,241.67 301.7,240 C301.68,238.33 301.93,236.67 302.2,235 C302.47,233.33 302.9,231.67 303.3,230 C303.7,228.33 304.17,226.67 304.6,225 C305.03,223.33 305.47,221.67 305.9,220 C306.33,218.33 306.77,216.67 307.2,215 C307.63,213.33 308.07,211.67 308.5,210 C308.93,208.33 309.37,206.67 309.8,205 C310.23,203.33 310.63,201.67 311.1,200 C311.57,198.33 312.2,196.67 312.6,195 C313,193.33 313.32,191.67 313.5,190 C313.68,188.33 313.62,186.67 313.7,185 C313.78,183.33 313.92,181.67 314,180 C314.08,178.33 314.17,176.67 314.2,175 C314.23,173.33 314.25,171.67 314.2,170 C314.15,168.33 314.07,166.67 313.9,165 C313.73,163.33 313.4,161.67 313.2,160 C313,158.33 312.83,156.67 312.7,155 C312.57,153.33 312.45,151.67 312.4,150 C312.35,148.33 312.35,146.67 312.4,145 C312.45,143.33 312.53,141.92 312.7,140 C312.87,138.08 313.28,134.58 313.4,133.5 Z" fill="#a6761d" fill-opacity="0.25" stroke="#a6761d" stroke-width="2.6" stroke-linejoin="miter" stroke-miterlimit="3"/>
<path d="M314.4,195.2 L320.8,195.2 L320.8,218.3 L319.6,230.4 L320.8,242.5 L320.8,244.5 L314.4,244.5 L314.4,242.5 L315.6,230.4 L314.4,218.3 Z" fill="#2d281d" stroke="#1b1710" stroke-width="1" stroke-linejoin="miter"/>
<line x1="317.6" y1="198.7" x2="317.6" y2="224.4" stroke="#a6761d" stroke-opacity="0.85" stroke-width="0.6"/>
<line x1="317.6" y1="236.4" x2="317.6" y2="241" stroke="#a6761d" stroke-opacity="0.85" stroke-width="0.6"/>
<path d="M313.4,133.5 L321.8,133.5 C321.92,134.58 322.33,138.08 322.5,140 C322.67,141.92 322.75,143.33 322.8,145 C322.85,146.67 322.85,148.33 322.8,150 C322.75,151.67 322.63,153.33 322.5,155 C322.37,156.67 322.2,158.33 322,160 C321.8,161.67 321.47,163.33 321.3,165 C321.13,166.67 321.05,168.33 321,170 C320.95,171.67 320.97,173.33 321,175 C321.03,176.67 321.12,178.33 321.2,180 C321.28,181.67 321.42,183.33 321.5,185 C321.58,186.67 321.52,188.33 321.7,190 C321.88,191.67 322.2,193.33 322.6,195 C323,196.67 323.63,198.33 324.1,200 C324.57,201.67 324.97,203.33 325.4,205 C325.83,206.67 326.27,208.33 326.7,210 C327.13,211.67 327.57,213.33 328,215 C328.43,216.67 328.87,218.33 329.3,220 C329.73,221.67 330.17,223.33 330.6,225 C331.03,226.67 331.5,228.33 331.9,230 C332.3,231.67 332.73,233.33 333,235 C333.27,236.67 333.52,238.33 333.5,240 C333.48,241.67 333.25,243.33 332.9,245 C332.55,246.67 332.05,248.33 331.4,250 C330.75,251.67 329.83,253.33 329,255 C328.17,256.67 327.27,258.33 326.4,260 C325.53,261.67 324.5,263.33 323.8,265 C323.1,266.67 322.48,268.95 322.2,270 C321.92,271.05 322.12,271.08 322.1,271.3 L313.1,271.3 C313.08,271.08 313.28,271.05 313,270 C312.72,268.95 312.1,266.67 311.4,265 C310.7,263.33 309.67,261.67 308.8,260 C307.93,258.33 307.03,256.67 306.2,255 C305.37,253.33 304.45,251.67 303.8,250 C303.15,248.33 302.65,246.67 302.3,245 C301.95,243.33 301.72,241.67 301.7,240 C301.68,238.33 301.93,236.67 302.2,235 C302.47,233.33 302.9,231.67 303.3,230 C303.7,228.33 304.17,226.67 304.6,225 C305.03,223.33 305.47,221.67 305.9,220 C306.33,218.33 306.77,216.67 307.2,215 C307.63,213.33 308.07,211.67 308.5,210 C308.93,208.33 309.37,206.67 309.8,205 C310.23,203.33 310.63,201.67 311.1,200 C311.57,198.33 312.2,196.67 312.6,195 C313,193.33 313.32,191.67 313.5,190 C313.68,188.33 313.62,186.67 313.7,185 C313.78,183.33 313.92,181.67 314,180 C314.08,178.33 314.17,176.67 314.2,175 C314.23,173.33 314.25,171.67 314.2,170 C314.15,168.33 314.07,166.67 313.9,165 C313.73,163.33 313.4,161.67 313.2,160 C313,158.33 312.83,156.67 312.7,155 C312.57,153.33 312.45,151.67 312.4,150 C312.35,148.33 312.35,146.67 312.4,145 C312.45,143.33 312.53,141.92 312.7,140 C312.87,138.08 313.28,134.58 313.4,133.5 Z" fill="none" stroke="#a6761d" stroke-width="2.6" stroke-linejoin="miter" stroke-miterlimit="3"/>
<line x1="317.6" y1="133.5" x2="317.6" y2="195.2" stroke="#000" stroke-width="2.8" stroke-linecap="round"/>
<line x1="317.6" y1="244.5" x2="317.6" y2="271.3" stroke="#000" stroke-width="2.8" stroke-linecap="round"/>
<circle cx="317.6" cy="230.4" r="1.3" fill="#000"/>
<path d="M346.3,209.4 L368.7,209.4 C368.87,209.5 369.22,209.07 369.7,210 C370.18,210.93 371.07,213.33 371.6,215 C372.13,216.67 372.57,218.33 372.9,220 C373.23,221.67 373.48,223.33 373.6,225 C373.72,226.67 373.72,228.33 373.6,230 C373.48,231.67 373.27,233.33 372.9,235 C372.53,236.67 371.98,238.33 371.4,240 C370.82,241.67 369.87,244.1 369.4,245 C368.93,245.9 368.73,245.33 368.6,245.4 L346.4,245.4 C346.27,245.33 346.07,245.9 345.6,245 C345.13,244.1 344.18,241.67 343.6,240 C343.02,238.33 342.47,236.67 342.1,235 C341.73,233.33 341.52,231.67 341.4,230 C341.28,228.33 341.28,226.67 341.4,225 C341.52,223.33 341.77,221.67 342.1,220 C342.43,218.33 342.87,216.67 343.4,215 C343.93,213.33 344.82,210.93 345.3,210 C345.78,209.07 346.13,209.5 346.3,209.4 Z" fill="#666666" fill-opacity="0.25" stroke="#666666" stroke-width="2.6" stroke-linejoin="miter" stroke-miterlimit="3"/>
<path d="M354.3,209 L360.7,209 L360.7,214.86 L359.5,227 L360.7,239.14 L360.7,245.8 L354.3,245.8 L354.3,239.14 L355.5,227 L354.3,214.86 Z" fill="#262626" stroke="#161616" stroke-width="1" stroke-linejoin="miter"/>
<line x1="357.5" y1="212.5" x2="357.5" y2="221" stroke="#666666" stroke-opacity="0.85" stroke-width="0.6"/>
<line x1="357.5" y1="233" x2="357.5" y2="242.3" stroke="#666666" stroke-opacity="0.85" stroke-width="0.6"/>
<path d="M346.3,209.4 L368.7,209.4 C368.87,209.5 369.22,209.07 369.7,210 C370.18,210.93 371.07,213.33 371.6,215 C372.13,216.67 372.57,218.33 372.9,220 C373.23,221.67 373.48,223.33 373.6,225 C373.72,226.67 373.72,228.33 373.6,230 C373.48,231.67 373.27,233.33 372.9,235 C372.53,236.67 371.98,238.33 371.4,240 C370.82,241.67 369.87,244.1 369.4,245 C368.93,245.9 368.73,245.33 368.6,245.4 L346.4,245.4 C346.27,245.33 346.07,245.9 345.6,245 C345.13,244.1 344.18,241.67 343.6,240 C343.02,238.33 342.47,236.67 342.1,235 C341.73,233.33 341.52,231.67 341.4,230 C341.28,228.33 341.28,226.67 341.4,225 C341.52,223.33 341.77,221.67 342.1,220 C342.43,218.33 342.87,216.67 343.4,215 C343.93,213.33 344.82,210.93 345.3,210 C345.78,209.07 346.13,209.5 346.3,209.4 Z" fill="none" stroke="#666666" stroke-width="2.6" stroke-linejoin="miter" stroke-miterlimit="3"/>
<line x1="357.5" y1="209.4" x2="357.5" y2="209" stroke="#000" stroke-width="2.8" stroke-linecap="round"/>
<line x1="357.5" y1="245.8" x2="357.5" y2="245.4" stroke="#000" stroke-width="2.8" stroke-linecap="round"/>
<circle cx="357.5" cy="227" r="1.3" fill="#000"/>
<path d="M396.1,203.4 L399.5,203.4 C399.43,203.67 399.25,204.23 399.1,205 C398.95,205.77 398.64,206.67 398.6,208 C398.56,209.33 398.37,211.5 398.85,213 C399.33,214.5 400.39,215.67 401.5,217 C402.61,218.33 404.29,219.67 405.5,221 C406.71,222.33 407.54,223.5 408.75,225 C409.96,226.5 411.85,228.58 412.75,230 C413.65,231.42 414.19,232.17 414.15,233.5 C414.11,234.83 413.61,236.42 412.5,238 C411.39,239.58 409.17,241.33 407.5,243 C405.83,244.67 403.54,246.5 402.5,248 C401.46,249.5 401.48,250.67 401.25,252 C401.02,253.33 401.17,254.95 401.15,256 C401.13,257.05 401.15,257.92 401.15,258.3 L394.45,258.3 C394.45,257.92 394.47,257.05 394.45,256 C394.43,254.95 394.58,253.33 394.35,252 C394.12,250.67 394.14,249.5 393.1,248 C392.06,246.5 389.77,244.67 388.1,243 C386.43,241.33 384.21,239.58 383.1,238 C381.99,236.42 381.49,234.83 381.45,233.5 C381.41,232.17 381.95,231.42 382.85,230 C383.75,228.58 385.64,226.5 386.85,225 C388.06,223.5 388.89,222.33 390.1,221 C391.31,219.67 392.99,218.33 394.1,217 C395.21,215.67 396.27,214.5 396.75,213 C397.23,211.5 397.04,209.33 397,208 C396.96,206.67 396.65,205.77 396.5,205 C396.35,204.23 396.17,203.67 396.1,203.4 Z" fill="#1b9e77" fill-opacity="0.25" stroke="#1b9e77" stroke-width="2.6" stroke-linejoin="miter" stroke-miterlimit="3"/>
<path d="M394.6,228.5 L401,228.5 L401,230.5 L399.8,234.5 L401,238.5 L401,244 L394.6,244 L394.6,238.5 L395.8,234.5 L394.6,230.5 Z" fill="#1d2c28" stroke="#101a17" stroke-width="1" stroke-linejoin="miter"/>
<line x1="397.8" y1="232" x2="397.8" y2="228.5" stroke="#1b9e77" stroke-opacity="0.85" stroke-width="0.6"/>
<line x1="397.8" y1="240.5" x2="397.8" y2="240.5" stroke="#1b9e77" stroke-opacity="0.85" stroke-width="0.6"/>
<path d="M396.1,203.4 L399.5,203.4 C399.43,203.67 399.25,204.23 399.1,205 C398.95,205.77 398.64,206.67 398.6,208 C398.56,209.33 398.37,211.5 398.85,213 C399.33,214.5 400.39,215.67 401.5,217 C402.61,218.33 404.29,219.67 405.5,221 C406.71,222.33 407.54,223.5 408.75,225 C409.96,226.5 411.85,228.58 412.75,230 C413.65,231.42 414.19,232.17 414.15,233.5 C414.11,234.83 413.61,236.42 412.5,238 C411.39,239.58 409.17,241.33 407.5,243 C405.83,244.67 403.54,246.5 402.5,248 C401.46,249.5 401.48,250.67 401.25,252 C401.02,253.33 401.17,254.95 401.15,256 C401.13,257.05 401.15,257.92 401.15,258.3 L394.45,258.3 C394.45,257.92 394.47,257.05 394.45,256 C394.43,254.95 394.58,253.33 394.35,252 C394.12,250.67 394.14,249.5 393.1,248 C392.06,246.5 389.77,244.67 388.1,243 C386.43,241.33 384.21,239.58 383.1,238 C381.99,236.42 381.49,234.83 381.45,233.5 C381.41,232.17 381.95,231.42 382.85,230 C383.75,228.58 385.64,226.5 386.85,225 C388.06,223.5 388.89,222.33 390.1,221 C391.31,219.67 392.99,218.33 394.1,217 C395.21,215.67 396.27,214.5 396.75,213 C397.23,211.5 397.04,209.33 397,208 C396.96,206.67 396.65,205.77 396.5,205 C396.35,204.23 396.17,203.67 396.1,203.4 Z" fill="none" stroke="#1b9e77" stroke-width="2.6" stroke-linejoin="miter" stroke-miterlimit="3"/>
<line x1="397.8" y1="219.2" x2="397.8" y2="228.5" stroke="#000" stroke-width="2.8" stroke-linecap="round"/>
<line x1="397.8" y1="244" x2="397.8" y2="258.3" stroke="#000" stroke-width="2.8" stroke-linecap="round"/>
<circle cx="397.8" cy="234.5" r="1.3" fill="#000"/>
<path d="M434.6,227.8 L441.6,227.8 C441.92,228.17 442.8,228.8 443.5,230 C444.2,231.2 445.15,233.33 445.8,235 C446.45,236.67 447,238.33 447.4,240 C447.8,241.67 448.03,243.33 448.2,245 C448.37,246.67 448.27,248.33 448.4,250 C448.53,251.67 448.57,253.33 449,255 C449.43,256.67 450.32,258.33 451,260 C451.68,261.67 452.53,263.33 453.1,265 C453.67,266.67 454.37,268.33 454.4,270 C454.43,271.67 454.02,273.33 453.3,275 C452.58,276.67 451.32,278.33 450.1,280 C448.88,281.67 447.35,283.45 446,285 C444.65,286.55 442.67,288.58 442,289.3 L434.2,289.3 C433.53,288.58 431.55,286.55 430.2,285 C428.85,283.45 427.32,281.67 426.1,280 C424.88,278.33 423.62,276.67 422.9,275 C422.18,273.33 421.77,271.67 421.8,270 C421.83,268.33 422.53,266.67 423.1,265 C423.67,263.33 424.52,261.67 425.2,260 C425.88,258.33 426.77,256.67 427.2,255 C427.63,253.33 427.67,251.67 427.8,250 C427.93,248.33 427.83,246.67 428,245 C428.17,243.33 428.4,241.67 428.8,240 C429.2,238.33 429.75,236.67 430.4,235 C431.05,233.33 432,231.2 432.7,230 C433.4,228.8 434.28,228.17 434.6,227.8 Z" fill="#d95f02" fill-opacity="0.25" stroke="#d95f02" stroke-width="2.6" stroke-linejoin="miter" stroke-miterlimit="3"/>
<path d="M434.9,245.2 L441.3,245.2 L441.3,255 L440.1,263.8 L441.3,272.6 L441.3,274.6 L434.9,274.6 L434.9,272.6 L436.1,263.8 L434.9,255 Z" fill="#34251a" stroke="#1f150e" stroke-width="1" stroke-linejoin="miter"/>
<line x1="438.1" y1="248.7" x2="438.1" y2="257.8" stroke="#d95f02" stroke-opacity="0.85" stroke-width="0.6"/>
<line x1="438.1" y1="269.8" x2="438.1" y2="271.1" stroke="#d95f02" stroke-opacity="0.85" stroke-width="0.6"/>
<path d="M434.6,227.8 L441.6,227.8 C441.92,228.17 442.8,228.8 443.5,230 C444.2,231.2 445.15,233.33 445.8,235 C446.45,236.67 447,238.33 447.4,240 C447.8,241.67 448.03,243.33 448.2,245 C448.37,246.67 448.27,248.33 448.4,250 C448.53,251.67 448.57,253.33 449,255 C449.43,256.67 450.32,258.33 451,260 C451.68,261.67 452.53,263.33 453.1,265 C453.67,266.67 454.37,268.33 454.4,270 C454.43,271.67 454.02,273.33 453.3,275 C452.58,276.67 451.32,278.33 450.1,280 C448.88,281.67 447.35,283.45 446,285 C444.65,286.55 442.67,288.58 442,289.3 L434.2,289.3 C433.53,288.58 431.55,286.55 430.2,285 C428.85,283.45 427.32,281.67 426.1,280 C424.88,278.33 423.62,276.67 422.9,275 C422.18,273.33 421.77,271.67 421.8,270 C421.83,268.33 422.53,266.67 423.1,265 C423.67,263.33 424.52,261.67 425.2,260 C425.88,258.33 426.77,256.67 427.2,255 C427.63,253.33 427.67,251.67 427.8,250 C427.93,248.33 427.83,246.67 428,245 C428.17,243.33 428.4,241.67 428.8,240 C429.2,238.33 429.75,236.67 430.4,235 C431.05,233.33 432,231.2 432.7,230 C433.4,228.8 434.28,228.17 434.6,227.8 Z" fill="none" stroke="#d95f02" stroke-width="2.6" stroke-linejoin="miter" stroke-miterlimit="3"/>
<line x1="438.1" y1="227.8" x2="438.1" y2="245.2" stroke="#000" stroke-width="2.8" stroke-linecap="round"/>
<line x1="438.1" y1="274.6" x2="438.1" y2="289.3" stroke="#000" stroke-width="2.8" stroke-linecap="round"/>
<circle cx="438.1" cy="263.8" r="1.3" fill="#000"/>
<path d="M475.8,254 L480.8,254 C480.85,254.17 480.82,254.42 481.1,255 C481.38,255.58 481.82,256.67 482.5,257.5 C483.18,258.33 484.27,259.17 485.2,260 C486.13,260.83 487.17,261.67 488.1,262.5 C489.03,263.33 489.97,264.17 490.8,265 C491.63,265.83 492.5,266.67 493.1,267.5 C493.7,268.33 494.12,269.17 494.4,270 C494.68,270.83 494.8,271.67 494.8,272.5 C494.8,273.33 494.63,274.17 494.4,275 C494.17,275.83 493.65,276.67 493.4,277.5 C493.15,278.33 492.95,279.17 492.9,280 C492.85,280.83 493.17,281.67 493.1,282.5 C493.03,283.33 492.88,284.17 492.5,285 C492.12,285.83 491.48,286.67 490.8,287.5 C490.12,288.33 489.18,289.17 488.4,290 C487.62,290.83 486.83,291.67 486.1,292.5 C485.37,293.33 484.6,294.18 484,295 C483.4,295.82 482.75,297 482.5,297.4 L474.1,297.4 C473.85,297 473.2,295.82 472.6,295 C472,294.18 471.23,293.33 470.5,292.5 C469.77,291.67 468.98,290.83 468.2,290 C467.42,289.17 466.48,288.33 465.8,287.5 C465.12,286.67 464.48,285.83 464.1,285 C463.72,284.17 463.57,283.33 463.5,282.5 C463.43,281.67 463.75,280.83 463.7,280 C463.65,279.17 463.45,278.33 463.2,277.5 C462.95,276.67 462.43,275.83 462.2,275 C461.97,274.17 461.8,273.33 461.8,272.5 C461.8,271.67 461.92,270.83 462.2,270 C462.48,269.17 462.9,268.33 463.5,267.5 C464.1,266.67 464.97,265.83 465.8,265 C466.63,264.17 467.57,263.33 468.5,262.5 C469.43,261.67 470.47,260.83 471.4,260 C472.33,259.17 473.42,258.33 474.1,257.5 C474.78,256.67 475.22,255.58 475.5,255 C475.78,254.42 475.75,254.17 475.8,254 Z" fill="#7570b3" fill-opacity="0.25" stroke="#7570b3" stroke-width="2.6" stroke-linejoin="miter" stroke-miterlimit="3"/>
<path d="M475.1,268.9 L481.5,268.9 L481.5,270.9 L480.3,276.8 L481.5,282.7 L481.5,288.4 L475.1,288.4 L475.1,282.7 L476.3,276.8 L475.1,270.9 Z" fill="#28272f" stroke="#17161c" stroke-width="1" stroke-linejoin="miter"/>
<line x1="478.3" y1="272.4" x2="478.3" y2="270.8" stroke="#7570b3" stroke-opacity="0.85" stroke-width="0.6"/>
<line x1="478.3" y1="282.8" x2="478.3" y2="284.9" stroke="#7570b3" stroke-opacity="0.85" stroke-width="0.6"/>
<path d="M475.8,254 L480.8,254 C480.85,254.17 480.82,254.42 481.1,255 C481.38,255.58 481.82,256.67 482.5,257.5 C483.18,258.33 484.27,259.17 485.2,260 C486.13,260.83 487.17,261.67 488.1,262.5 C489.03,263.33 489.97,264.17 490.8,265 C491.63,265.83 492.5,266.67 493.1,267.5 C493.7,268.33 494.12,269.17 494.4,270 C494.68,270.83 494.8,271.67 494.8,272.5 C494.8,273.33 494.63,274.17 494.4,275 C494.17,275.83 493.65,276.67 493.4,277.5 C493.15,278.33 492.95,279.17 492.9,280 C492.85,280.83 493.17,281.67 493.1,282.5 C493.03,283.33 492.88,284.17 492.5,285 C492.12,285.83 491.48,286.67 490.8,287.5 C490.12,288.33 489.18,289.17 488.4,290 C487.62,290.83 486.83,291.67 486.1,292.5 C485.37,293.33 484.6,294.18 484,295 C483.4,295.82 482.75,297 482.5,297.4 L474.1,297.4 C473.85,297 473.2,295.82 472.6,295 C472,294.18 471.23,293.33 470.5,292.5 C469.77,291.67 468.98,290.83 468.2,290 C467.42,289.17 466.48,288.33 465.8,287.5 C465.12,286.67 464.48,285.83 464.1,285 C463.72,284.17 463.57,283.33 463.5,282.5 C463.43,281.67 463.75,280.83 463.7,280 C463.65,279.17 463.45,278.33 463.2,277.5 C462.95,276.67 462.43,275.83 462.2,275 C461.97,274.17 461.8,273.33 461.8,272.5 C461.8,271.67 461.92,270.83 462.2,270 C462.48,269.17 462.9,268.33 463.5,267.5 C464.1,266.67 464.97,265.83 465.8,265 C466.63,264.17 467.57,263.33 468.5,262.5 C469.43,261.67 470.47,260.83 471.4,260 C472.33,259.17 473.42,258.33 474.1,257.5 C474.78,256.67 475.22,255.58 475.5,255 C475.78,254.42 475.75,254.17 475.8,254 Z" fill="none" stroke="#7570b3" stroke-width="2.6" stroke-linejoin="miter" stroke-miterlimit="3"/>
<line x1="478.3" y1="254" x2="478.3" y2="268.9" stroke="#000" stroke-width="2.8" stroke-linecap="round"/>
<line x1="478.3" y1="288.4" x2="478.3" y2="297.4" stroke="#000" stroke-width="2.8" stroke-linecap="round"/>
<circle cx="478.3" cy="276.8" r="1.3" fill="#000"/>
<path d="M515,285.8 L521.6,285.8 C521.8,285.83 522.47,285.63 522.8,286 C523.13,286.37 523.37,287.33 523.6,288 C523.83,288.67 523.8,289.42 524.2,290 C524.6,290.58 524.95,290.83 526,291.5 C527.05,292.17 529.33,293.25 530.5,294 C531.67,294.75 532.32,295.27 533,296 C533.68,296.73 534.52,297.73 534.6,298.4 C534.68,299.07 534.35,299.4 533.5,300 C532.65,300.6 531,301.25 529.5,302 C528,302.75 525.98,303.87 524.5,304.5 C523.02,305.13 521.25,305.58 520.6,305.8 L516,305.8 C515.35,305.58 513.58,305.13 512.1,304.5 C510.62,303.87 508.6,302.75 507.1,302 C505.6,301.25 503.95,300.6 503.1,300 C502.25,299.4 501.92,299.07 502,298.4 C502.08,297.73 502.92,296.73 503.6,296 C504.28,295.27 504.93,294.75 506.1,294 C507.27,293.25 509.55,292.17 510.6,291.5 C511.65,290.83 512,290.58 512.4,290 C512.8,289.42 512.77,288.67 513,288 C513.23,287.33 513.47,286.37 513.8,286 C514.13,285.63 514.8,285.83 515,285.8 Z" fill="#e7298a" fill-opacity="0.25" stroke="#e7298a" stroke-width="2.6" stroke-linejoin="miter" stroke-miterlimit="3"/>
<path d="M515.1,293 L521.5,293 L521.5,295 L520.3,296.8 L521.5,298.6 L521.5,301 L515.1,301 L515.1,298.6 L516.3,296.8 L515.1,295 Z" fill="#351e2a" stroke="#201119" stroke-width="1" stroke-linejoin="miter"/>
<path d="M515,285.8 L521.6,285.8 C521.8,285.83 522.47,285.63 522.8,286 C523.13,286.37 523.37,287.33 523.6,288 C523.83,288.67 523.8,289.42 524.2,290 C524.6,290.58 524.95,290.83 526,291.5 C527.05,292.17 529.33,293.25 530.5,294 C531.67,294.75 532.32,295.27 533,296 C533.68,296.73 534.52,297.73 534.6,298.4 C534.68,299.07 534.35,299.4 533.5,300 C532.65,300.6 531,301.25 529.5,302 C528,302.75 525.98,303.87 524.5,304.5 C523.02,305.13 521.25,305.58 520.6,305.8 L516,305.8 C515.35,305.58 513.58,305.13 512.1,304.5 C510.62,303.87 508.6,302.75 507.1,302 C505.6,301.25 503.95,300.6 503.1,300 C502.25,299.4 501.92,299.07 502,298.4 C502.08,297.73 502.92,296.73 503.6,296 C504.28,295.27 504.93,294.75 506.1,294 C507.27,293.25 509.55,292.17 510.6,291.5 C511.65,290.83 512,290.58 512.4,290 C512.8,289.42 512.77,288.67 513,288 C513.23,287.33 513.47,286.37 513.8,286 C514.13,285.63 514.8,285.83 515,285.8 Z" fill="none" stroke="#e7298a" stroke-width="2.6" stroke-linejoin="miter" stroke-miterlimit="3"/>
<line x1="518.3" y1="285.7" x2="518.3" y2="293" stroke="#000" stroke-width="2.8" stroke-linecap="round"/>
<line x1="518.3" y1="301" x2="518.3" y2="305.8" stroke="#000" stroke-width="2.8" stroke-linecap="round"/>
<circle cx="518.3" cy="296.8" r="1.3" fill="#000"/>
<path d="M555.3,252.4 L562.1,252.4 C562.22,252.83 562.43,253.73 562.8,255 C563.17,256.27 563.55,258.33 564.3,260 C565.05,261.67 566.25,263.33 567.3,265 C568.35,266.67 569.62,268.33 570.6,270 C571.58,271.67 572.55,273.67 573.2,275 C573.85,276.33 574.25,277.17 574.5,278 C574.75,278.83 574.87,278.83 574.7,280 C574.53,281.17 574,283.33 573.5,285 C573,286.67 572.43,288.33 571.7,290 C570.97,291.67 570.08,293.33 569.1,295 C568.12,296.67 566.78,298.33 565.8,300 C564.82,301.67 563.82,303.33 563.2,305 C562.58,306.67 562.3,308.98 562.1,310 C561.9,311.02 562.02,310.92 562,311.1 L555.4,311.1 C555.38,310.92 555.5,311.02 555.3,310 C555.1,308.98 554.82,306.67 554.2,305 C553.58,303.33 552.58,301.67 551.6,300 C550.62,298.33 549.28,296.67 548.3,295 C547.32,293.33 546.43,291.67 545.7,290 C544.97,288.33 544.4,286.67 543.9,285 C543.4,283.33 542.87,281.17 542.7,280 C542.53,278.83 542.65,278.83 542.9,278 C543.15,277.17 543.55,276.33 544.2,275 C544.85,273.67 545.82,271.67 546.8,270 C547.78,268.33 549.05,266.67 550.1,265 C551.15,263.33 552.35,261.67 553.1,260 C553.85,258.33 554.23,256.27 554.6,255 C554.97,253.73 555.18,252.83 555.3,252.4 Z" fill="#66a61e" fill-opacity="0.25" stroke="#66a61e" stroke-width="2.6" stroke-linejoin="miter" stroke-miterlimit="3"/>
<path d="M555.5,270.5 L561.9,270.5 L561.9,272.5 L560.7,279 L561.9,285.5 L561.9,293 L555.5,293 L555.5,285.5 L556.7,279 L555.5,272.5 Z" fill="#262d1d" stroke="#161b10" stroke-width="1" stroke-linejoin="miter"/>
<line x1="558.7" y1="274" x2="558.7" y2="273" stroke="#66a61e" stroke-opacity="0.85" stroke-width="0.6"/>
<line x1="558.7" y1="285" x2="558.7" y2="289.5" stroke="#66a61e" stroke-opacity="0.85" stroke-width="0.6"/>
<path d="M555.3,252.4 L562.1,252.4 C562.22,252.83 562.43,253.73 562.8,255 C563.17,256.27 563.55,258.33 564.3,260 C565.05,261.67 566.25,263.33 567.3,265 C568.35,266.67 569.62,268.33 570.6,270 C571.58,271.67 572.55,273.67 573.2,275 C573.85,276.33 574.25,277.17 574.5,278 C574.75,278.83 574.87,278.83 574.7,280 C574.53,281.17 574,283.33 573.5,285 C573,286.67 572.43,288.33 571.7,290 C570.97,291.67 570.08,293.33 569.1,295 C568.12,296.67 566.78,298.33 565.8,300 C564.82,301.67 563.82,303.33 563.2,305 C562.58,306.67 562.3,308.98 562.1,310 C561.9,311.02 562.02,310.92 562,311.1 L555.4,311.1 C555.38,310.92 555.5,311.02 555.3,310 C555.1,308.98 554.82,306.67 554.2,305 C553.58,303.33 552.58,301.67 551.6,300 C550.62,298.33 549.28,296.67 548.3,295 C547.32,293.33 546.43,291.67 545.7,290 C544.97,288.33 544.4,286.67 543.9,285 C543.4,283.33 542.87,281.17 542.7,280 C542.53,278.83 542.65,278.83 542.9,278 C543.15,277.17 543.55,276.33 544.2,275 C544.85,273.67 545.82,271.67 546.8,270 C547.78,268.33 549.05,266.67 550.1,265 C551.15,263.33 552.35,261.67 553.1,260 C553.85,258.33 554.23,256.27 554.6,255 C554.97,253.73 555.18,252.83 555.3,252.4 Z" fill="none" stroke="#66a61e" stroke-width="2.6" stroke-linejoin="miter" stroke-miterlimit="3"/>
<line x1="558.7" y1="252.4" x2="558.7" y2="270.5" stroke="#000" stroke-width="2.8" stroke-linecap="round"/>
<line x1="558.7" y1="293" x2="558.7" y2="311.1" stroke="#000" stroke-width="2.8" stroke-linecap="round"/>
<circle cx="558.7" cy="279" r="1.3" fill="#000"/>
<path d="M598.1,211.2 L599.9,211.2 C599.83,212.67 599.53,216.87 599.5,220 C599.47,223.13 599.7,226.67 599.7,230 C599.7,233.33 599.53,235.83 599.5,240 C599.47,244.17 599.47,250 599.5,255 C599.53,260 599.61,265.83 599.7,270 C599.79,274.17 599.77,277.5 600.05,280 C600.32,282.5 600.73,283.5 601.35,285 C601.98,286.5 602.74,287.67 603.8,289 C604.86,290.33 606.47,291.67 607.7,293 C608.93,294.33 610.12,295.67 611.2,297 C612.28,298.33 613.53,299.83 614.2,301 C614.87,302.17 615.37,302.83 615.2,304 C615.03,305.17 614.2,306.67 613.2,308 C612.2,309.33 610.49,310.67 609.2,312 C607.91,313.33 606.74,314.67 605.45,316 C604.16,317.33 602.37,319.12 601.45,320 C600.53,320.88 600.2,321.08 599.95,321.3 L598.05,321.3 C597.8,321.08 597.47,320.88 596.55,320 C595.63,319.12 593.84,317.33 592.55,316 C591.26,314.67 590.09,313.33 588.8,312 C587.51,310.67 585.8,309.33 584.8,308 C583.8,306.67 582.97,305.17 582.8,304 C582.63,302.83 583.13,302.17 583.8,301 C584.47,299.83 585.72,298.33 586.8,297 C587.88,295.67 589.07,294.33 590.3,293 C591.53,291.67 593.14,290.33 594.2,289 C595.26,287.67 596.02,286.5 596.65,285 C597.27,283.5 597.68,282.5 597.95,280 C598.23,277.5 598.21,274.17 598.3,270 C598.39,265.83 598.47,260 598.5,255 C598.53,250 598.53,244.17 598.5,240 C598.47,235.83 598.3,233.33 598.3,230 C598.3,226.67 598.53,223.13 598.5,220 C598.47,216.87 598.17,212.67 598.1,211.2 Z" fill="#e6ab02" fill-opacity="0.25" stroke="#e6ab02" stroke-width="2.6" stroke-linejoin="miter" stroke-miterlimit="3"/>
<path d="M595.8,296.5 L602.2,296.5 L602.2,298.88 L601,303.5 L602.2,308.12 L602.2,310.5 L595.8,310.5 L595.8,308.12 L597,303.5 L595.8,298.88 Z" fill="#352e1a" stroke="#201b0e" stroke-width="1" stroke-linejoin="miter"/>
<path d="M598.1,211.2 L599.9,211.2 C599.83,212.67 599.53,216.87 599.5,220 C599.47,223.13 599.7,226.67 599.7,230 C599.7,233.33 599.53,235.83 599.5,240 C599.47,244.17 599.47,250 599.5,255 C599.53,260 599.61,265.83 599.7,270 C599.79,274.17 599.77,277.5 600.05,280 C600.32,282.5 600.73,283.5 601.35,285 C601.98,286.5 602.74,287.67 603.8,289 C604.86,290.33 606.47,291.67 607.7,293 C608.93,294.33 610.12,295.67 611.2,297 C612.28,298.33 613.53,299.83 614.2,301 C614.87,302.17 615.37,302.83 615.2,304 C615.03,305.17 614.2,306.67 613.2,308 C612.2,309.33 610.49,310.67 609.2,312 C607.91,313.33 606.74,314.67 605.45,316 C604.16,317.33 602.37,319.12 601.45,320 C600.53,320.88 600.2,321.08 599.95,321.3 L598.05,321.3 C597.8,321.08 597.47,320.88 596.55,320 C595.63,319.12 593.84,317.33 592.55,316 C591.26,314.67 590.09,313.33 588.8,312 C587.51,310.67 585.8,309.33 584.8,308 C583.8,306.67 582.97,305.17 582.8,304 C582.63,302.83 583.13,302.17 583.8,301 C584.47,299.83 585.72,298.33 586.8,297 C587.88,295.67 589.07,294.33 590.3,293 C591.53,291.67 593.14,290.33 594.2,289 C595.26,287.67 596.02,286.5 596.65,285 C597.27,283.5 597.68,282.5 597.95,280 C598.23,277.5 598.21,274.17 598.3,270 C598.39,265.83 598.47,260 598.5,255 C598.53,250 598.53,244.17 598.5,240 C598.47,235.83 598.3,233.33 598.3,230 C598.3,226.67 598.53,223.13 598.5,220 C598.47,216.87 598.17,212.67 598.1,211.2 Z" fill="none" stroke="#e6ab02" stroke-width="2.6" stroke-linejoin="miter" stroke-miterlimit="3"/>
<line x1="599" y1="281.7" x2="599" y2="296.5" stroke="#000" stroke-width="2.8" stroke-linecap="round"/>
<line x1="599" y1="310.5" x2="599" y2="320.8" stroke="#000" stroke-width="2.8" stroke-linecap="round"/>
<circle cx="599" cy="303.5" r="1.3" fill="#000"/>
<path d="M636.2,16.2 L641.8,16.2 C641.77,17.67 641.67,21.87 641.6,25 C641.53,28.13 641.42,31.67 641.35,35 C641.28,38.33 641.23,41.67 641.2,45 C641.18,48.33 641.18,51.67 641.2,55 C641.23,58.33 641.28,61.67 641.35,65 C641.42,68.33 641.53,71.67 641.6,75 C641.67,78.33 641.72,81.67 641.8,85 C641.88,88.33 641.98,91.67 642.05,95 C642.12,98.33 642.12,101.67 642.2,105 C642.28,108.33 642.42,111.67 642.5,115 C642.58,118.33 642.62,121.67 642.7,125 C642.78,128.33 642.88,132.5 643,135 C643.12,137.5 643.3,138.33 643.4,140 C643.5,141.67 643.53,143.33 643.6,145 C643.67,146.67 643.68,148.33 643.8,150 C643.92,151.67 644.1,153.33 644.3,155 C644.5,156.67 644.75,158.33 645,160 C645.25,161.67 645.48,163.33 645.8,165 C646.12,166.67 646.5,168.33 646.9,170 C647.3,171.67 647.77,173.33 648.2,175 C648.63,176.67 649.03,178.33 649.5,180 C649.97,181.67 650.5,183.33 651,185 C651.5,186.67 652.05,188.33 652.5,190 C652.95,191.67 653.37,193.33 653.7,195 C654.03,196.67 654.27,198.33 654.5,200 C654.73,201.67 654.95,203.33 655.1,205 C655.25,206.67 655.37,208.33 655.4,210 C655.43,211.67 655.4,213.33 655.3,215 C655.2,216.67 655.07,218.33 654.8,220 C654.53,221.67 654.18,223.33 653.7,225 C653.22,226.67 652.48,228.33 651.9,230 C651.32,231.67 650.75,233.33 650.2,235 C649.65,236.67 649.03,238.33 648.6,240 C648.17,241.67 647.88,243.33 647.6,245 C647.32,246.67 647.1,248.33 646.9,250 C646.7,251.67 646.52,253.33 646.4,255 C646.28,256.67 646.27,258.33 646.2,260 C646.13,261.67 646.07,263.33 646,265 C645.93,266.67 645.83,266.22 645.8,270 C645.77,273.78 645.8,284.75 645.8,287.7 L632.2,287.7 C632.2,284.75 632.23,273.78 632.2,270 C632.17,266.22 632.07,266.67 632,265 C631.93,263.33 631.87,261.67 631.8,260 C631.73,258.33 631.72,256.67 631.6,255 C631.48,253.33 631.3,251.67 631.1,250 C630.9,248.33 630.68,246.67 630.4,245 C630.12,243.33 629.83,241.67 629.4,240 C628.97,238.33 628.35,236.67 627.8,235 C627.25,233.33 626.68,231.67 626.1,230 C625.52,228.33 624.78,226.67 624.3,225 C623.82,223.33 623.47,221.67 623.2,220 C622.93,218.33 622.8,216.67 622.7,215 C622.6,213.33 622.57,211.67 622.6,210 C622.63,208.33 622.75,206.67 622.9,205 C623.05,203.33 623.27,201.67 623.5,200 C623.73,198.33 623.97,196.67 624.3,195 C624.63,193.33 625.05,191.67 625.5,190 C625.95,188.33 626.5,186.67 627,185 C627.5,183.33 628.03,181.67 628.5,180 C628.97,178.33 629.37,176.67 629.8,175 C630.23,173.33 630.7,171.67 631.1,170 C631.5,168.33 631.88,166.67 632.2,165 C632.52,163.33 632.75,161.67 633,160 C633.25,158.33 633.5,156.67 633.7,155 C633.9,153.33 634.08,151.67 634.2,150 C634.32,148.33 634.33,146.67 634.4,145 C634.47,143.33 634.5,141.67 634.6,140 C634.7,138.33 634.88,137.5 635,135 C635.12,132.5 635.22,128.33 635.3,125 C635.38,121.67 635.42,118.33 635.5,115 C635.58,111.67 635.72,108.33 635.8,105 C635.88,101.67 635.88,98.33 635.95,95 C636.02,91.67 636.12,88.33 636.2,85 C636.28,81.67 636.33,78.33 636.4,75 C636.47,71.67 636.58,68.33 636.65,65 C636.72,61.67 636.77,58.33 636.8,55 C636.82,51.67 636.82,48.33 636.8,45 C636.77,41.67 636.72,38.33 636.65,35 C636.58,31.67 636.47,28.13 636.4,25 C636.33,21.87 636.23,17.67 636.2,16.2 Z" fill="#a6761d" fill-opacity="0.25" stroke="#a6761d" stroke-width="2.6" stroke-linejoin="miter" stroke-miterlimit="3"/>
<path d="M635.8,168.3 L642.2,168.3 L642.2,188.02 L641,209.6 L642.2,231.18 L642.2,233.7 L635.8,233.7 L635.8,231.18 L637,209.6 L635.8,188.02 Z" fill="#2d281d" stroke="#1b1710" stroke-width="1" stroke-linejoin="miter"/>
<line x1="639" y1="171.8" x2="639" y2="203.6" stroke="#a6761d" stroke-opacity="0.85" stroke-width="0.6"/>
<line x1="639" y1="215.6" x2="639" y2="230.2" stroke="#a6761d" stroke-opacity="0.85" stroke-width="0.6"/>
<path d="M636.2,16.2 L641.8,16.2 C641.77,17.67 641.67,21.87 641.6,25 C641.53,28.13 641.42,31.67 641.35,35 C641.28,38.33 641.23,41.67 641.2,45 C641.18,48.33 641.18,51.67 641.2,55 C641.23,58.33 641.28,61.67 641.35,65 C641.42,68.33 641.53,71.67 641.6,75 C641.67,78.33 641.72,81.67 641.8,85 C641.88,88.33 641.98,91.67 642.05,95 C642.12,98.33 642.12,101.67 642.2,105 C642.28,108.33 642.42,111.67 642.5,115 C642.58,118.33 642.62,121.67 642.7,125 C642.78,128.33 642.88,132.5 643,135 C643.12,137.5 643.3,138.33 643.4,140 C643.5,141.67 643.53,143.33 643.6,145 C643.67,146.67 643.68,148.33 643.8,150 C643.92,151.67 644.1,153.33 644.3,155 C644.5,156.67 644.75,158.33 645,160 C645.25,161.67 645.48,163.33 645.8,165 C646.12,166.67 646.5,168.33 646.9,170 C647.3,171.67 647.77,173.33 648.2,175 C648.63,176.67 649.03,178.33 649.5,180 C649.97,181.67 650.5,183.33 651,185 C651.5,186.67 652.05,188.33 652.5,190 C652.95,191.67 653.37,193.33 653.7,195 C654.03,196.67 654.27,198.33 654.5,200 C654.73,201.67 654.95,203.33 655.1,205 C655.25,206.67 655.37,208.33 655.4,210 C655.43,211.67 655.4,213.33 655.3,215 C655.2,216.67 655.07,218.33 654.8,220 C654.53,221.67 654.18,223.33 653.7,225 C653.22,226.67 652.48,228.33 651.9,230 C651.32,231.67 650.75,233.33 650.2,235 C649.65,236.67 649.03,238.33 648.6,240 C648.17,241.67 647.88,243.33 647.6,245 C647.32,246.67 647.1,248.33 646.9,250 C646.7,251.67 646.52,253.33 646.4,255 C646.28,256.67 646.27,258.33 646.2,260 C646.13,261.67 646.07,263.33 646,265 C645.93,266.67 645.83,266.22 645.8,270 C645.77,273.78 645.8,284.75 645.8,287.7 L632.2,287.7 C632.2,284.75 632.23,273.78 632.2,270 C632.17,266.22 632.07,266.67 632,265 C631.93,263.33 631.87,261.67 631.8,260 C631.73,258.33 631.72,256.67 631.6,255 C631.48,253.33 631.3,251.67 631.1,250 C630.9,248.33 630.68,246.67 630.4,245 C630.12,243.33 629.83,241.67 629.4,240 C628.97,238.33 628.35,236.67 627.8,235 C627.25,233.33 626.68,231.67 626.1,230 C625.52,228.33 624.78,226.67 624.3,225 C623.82,223.33 623.47,221.67 623.2,220 C622.93,218.33 622.8,216.67 622.7,215 C622.6,213.33 622.57,211.67 622.6,210 C622.63,208.33 622.75,206.67 622.9,205 C623.05,203.33 623.27,201.67 623.5,200 C623.73,198.33 623.97,196.67 624.3,195 C624.63,193.33 625.05,191.67 625.5,190 C625.95,188.33 626.5,186.67 627,185 C627.5,183.33 628.03,181.67 628.5,180 C628.97,178.33 629.37,176.67 629.8,175 C630.23,173.33 630.7,171.67 631.1,170 C631.5,168.33 631.88,166.67 632.2,165 C632.52,163.33 632.75,161.67 633,160 C633.25,158.33 633.5,156.67 633.7,155 C633.9,153.33 634.08,151.67 634.2,150 C634.32,148.33 634.33,146.67 634.4,145 C634.47,143.33 634.5,141.67 634.6,140 C634.7,138.33 634.88,137.5 635,135 C635.12,132.5 635.22,128.33 635.3,125 C635.38,121.67 635.42,118.33 635.5,115 C635.58,111.67 635.72,108.33 635.8,105 C635.88,101.67 635.88,98.33 635.95,95 C636.02,91.67 636.12,88.33 636.2,85 C636.28,81.67 636.33,78.33 636.4,75 C636.47,71.67 636.58,68.33 636.65,65 C636.72,61.67 636.77,58.33 636.8,55 C636.82,51.67 636.82,48.33 636.8,45 C636.77,41.67 636.72,38.33 636.65,35 C636.58,31.67 636.47,28.13 636.4,25 C636.33,21.87 636.23,17.67 636.2,16.2 Z" fill="none" stroke="#a6761d" stroke-width="2.6" stroke-linejoin="miter" stroke-miterlimit="3"/>
<line x1="639" y1="75.2" x2="639" y2="168.3" stroke="#000" stroke-width="2.8" stroke-linecap="round"/>
<line x1="639" y1="233.7" x2="639" y2="287.7" stroke="#000" stroke-width="2.8" stroke-linecap="round"/>
<circle cx="639" cy="209.6" r="1.3" fill="#000"/>
<circle cx="639" cy="28" r="1.3" fill="#111"/>
<path d="M64.5,610.4 L84.7,610.4 C84.78,611.17 85.08,613.4 85.2,615 C85.32,616.6 85.33,617.5 85.4,620 C85.47,622.5 85.53,626.67 85.6,630 C85.67,633.33 85.73,637.5 85.8,640 C85.87,642.5 85.9,643.33 86,645 C86.1,646.67 86.24,648.33 86.4,650 C86.56,651.67 86.73,653.33 86.95,655 C87.17,656.67 87.44,658.33 87.7,660 C87.96,661.67 88.18,663.33 88.5,665 C88.82,666.67 89.3,668.33 89.6,670 C89.9,671.67 90.1,673.33 90.3,675 C90.5,676.67 90.67,678.33 90.8,680 C90.93,681.67 91.05,683.33 91.1,685 C91.15,686.67 91.18,688.33 91.1,690 C91.02,691.67 90.8,693.33 90.6,695 C90.4,696.67 90.15,698.67 89.9,700 C89.65,701.33 89.23,702.5 89.1,703 L60.1,703 C59.97,702.5 59.55,701.33 59.3,700 C59.05,698.67 58.8,696.67 58.6,695 C58.4,693.33 58.18,691.67 58.1,690 C58.02,688.33 58.05,686.67 58.1,685 C58.15,683.33 58.27,681.67 58.4,680 C58.53,678.33 58.7,676.67 58.9,675 C59.1,673.33 59.3,671.67 59.6,670 C59.9,668.33 60.38,666.67 60.7,665 C61.02,663.33 61.24,661.67 61.5,660 C61.76,658.33 62.03,656.67 62.25,655 C62.47,653.33 62.64,651.67 62.8,650 C62.96,648.33 63.1,646.67 63.2,645 C63.3,643.33 63.33,642.5 63.4,640 C63.47,637.5 63.53,633.33 63.6,630 C63.67,626.67 63.73,622.5 63.8,620 C63.87,617.5 63.88,616.6 64,615 C64.12,613.4 64.42,611.17 64.5,610.4 Z" fill="#1b9e77" fill-opacity="0.25" stroke="#1b9e77" stroke-width="2.6" stroke-linejoin="miter" stroke-miterlimit="3"/>
<path d="M71.4,621 L77.8,621 L77.8,670.7 L76.6,682.4 L77.8,694.1 L77.8,696.1 L71.4,696.1 L71.4,694.1 L72.6,682.4 L71.4,670.7 Z" fill="#1d2c28" stroke="#101a17" stroke-width="1" stroke-linejoin="miter"/>
<line x1="74.6" y1="624.5" x2="74.6" y2="676.4" stroke="#1b9e77" stroke-opacity="0.85" stroke-width="0.6"/>
<line x1="74.6" y1="688.4" x2="74.6" y2="692.6" stroke="#1b9e77" stroke-opacity="0.85" stroke-width="0.6"/>
<path d="M64.5,610.4 L84.7,610.4 C84.78,611.17 85.08,613.4 85.2,615 C85.32,616.6 85.33,617.5 85.4,620 C85.47,622.5 85.53,626.67 85.6,630 C85.67,633.33 85.73,637.5 85.8,640 C85.87,642.5 85.9,643.33 86,645 C86.1,646.67 86.24,648.33 86.4,650 C86.56,651.67 86.73,653.33 86.95,655 C87.17,656.67 87.44,658.33 87.7,660 C87.96,661.67 88.18,663.33 88.5,665 C88.82,666.67 89.3,668.33 89.6,670 C89.9,671.67 90.1,673.33 90.3,675 C90.5,676.67 90.67,678.33 90.8,680 C90.93,681.67 91.05,683.33 91.1,685 C91.15,686.67 91.18,688.33 91.1,690 C91.02,691.67 90.8,693.33 90.6,695 C90.4,696.67 90.15,698.67 89.9,700 C89.65,701.33 89.23,702.5 89.1,703 L60.1,703 C59.97,702.5 59.55,701.33 59.3,700 C59.05,698.67 58.8,696.67 58.6,695 C58.4,693.33 58.18,691.67 58.1,690 C58.02,688.33 58.05,686.67 58.1,685 C58.15,683.33 58.27,681.67 58.4,680 C58.53,678.33 58.7,676.67 58.9,675 C59.1,673.33 59.3,671.67 59.6,670 C59.9,668.33 60.38,666.67 60.7,665 C61.02,663.33 61.24,661.67 61.5,660 C61.76,658.33 62.03,656.67 62.25,655 C62.47,653.33 62.64,651.67 62.8,650 C62.96,648.33 63.1,646.67 63.2,645 C63.3,643.33 63.33,642.5 63.4,640 C63.47,637.5 63.53,633.33 63.6,630 C63.67,626.67 63.73,622.5 63.8,620 C63.87,617.5 63.88,616.6 64,615 C64.12,613.4 64.42,611.17 64.5,610.4 Z" fill="none" stroke="#1b9e77" stroke-width="2.6" stroke-linejoin="miter" stroke-miterlimit="3"/>
<line x1="74.6" y1="610.4" x2="74.6" y2="621" stroke="#000" stroke-width="2.8" stroke-linecap="round"/>
<line x1="74.6" y1="696.1" x2="74.6" y2="703" stroke="#000" stroke-width="2.8" stroke-linecap="round"/>
<circle cx="74.6" cy="682.4" r="1.3" fill="#000"/>
<path d="M110.7,597.1 L119.5,597.1 C119.53,597.58 119.65,598.68 119.7,600 C119.75,601.32 119.75,603.33 119.8,605 C119.85,606.67 119.93,608.33 120,610 C120.07,611.67 120.1,613.33 120.2,615 C120.3,616.67 120.42,618.33 120.6,620 C120.78,621.67 121.02,623.33 121.3,625 C121.58,626.67 121.92,628.33 122.3,630 C122.68,631.67 123.12,633.33 123.6,635 C124.08,636.67 124.68,638.33 125.2,640 C125.72,641.67 126.07,643.33 126.7,645 C127.33,646.67 128.35,648.33 129,650 C129.65,651.67 130.2,653.33 130.6,655 C131,656.67 131.22,658.33 131.4,660 C131.58,661.67 131.73,663.33 131.7,665 C131.67,666.67 131.47,668.33 131.2,670 C130.93,671.67 130.53,673.33 130.1,675 C129.67,676.67 129.12,678.33 128.6,680 C128.08,681.67 127.57,683.33 127,685 C126.43,686.67 125.78,688.33 125.2,690 C124.62,691.67 124.03,693.33 123.5,695 C122.97,696.67 122.48,698.33 122,700 C121.52,701.67 121.02,703.33 120.6,705 C120.18,706.67 119.78,708.33 119.5,710 C119.22,711.67 119.08,713.33 118.9,715 C118.72,716.67 118.52,718.33 118.4,720 C118.28,721.67 118.27,723.33 118.2,725 C118.13,726.67 118.03,728.4 118,730 C117.97,731.6 118,733.83 118,734.6 L112.2,734.6 C112.2,733.83 112.23,731.6 112.2,730 C112.17,728.4 112.07,726.67 112,725 C111.93,723.33 111.92,721.67 111.8,720 C111.68,718.33 111.48,716.67 111.3,715 C111.12,713.33 110.98,711.67 110.7,710 C110.42,708.33 110.02,706.67 109.6,705 C109.18,703.33 108.68,701.67 108.2,700 C107.72,698.33 107.23,696.67 106.7,695 C106.17,693.33 105.58,691.67 105,690 C104.42,688.33 103.77,686.67 103.2,685 C102.63,683.33 102.12,681.67 101.6,680 C101.08,678.33 100.53,676.67 100.1,675 C99.67,673.33 99.27,671.67 99,670 C98.73,668.33 98.53,666.67 98.5,665 C98.47,663.33 98.62,661.67 98.8,660 C98.98,658.33 99.2,656.67 99.6,655 C100,653.33 100.55,651.67 101.2,650 C101.85,648.33 102.87,646.67 103.5,645 C104.13,643.33 104.48,641.67 105,640 C105.52,638.33 106.12,636.67 106.6,635 C107.08,633.33 107.52,631.67 107.9,630 C108.28,628.33 108.62,626.67 108.9,625 C109.18,623.33 109.42,621.67 109.6,620 C109.78,618.33 109.9,616.67 110,615 C110.1,613.33 110.13,611.67 110.2,610 C110.27,608.33 110.35,606.67 110.4,605 C110.45,603.33 110.45,601.32 110.5,600 C110.55,598.68 110.67,597.58 110.7,597.1 Z" fill="#d95f02" fill-opacity="0.25" stroke="#d95f02" stroke-width="2.6" stroke-linejoin="miter" stroke-miterlimit="3"/>
<path d="M111.9,642.2 L118.3,642.2 L118.3,649.35 L117.1,664.6 L118.3,679.85 L118.3,688.4 L111.9,688.4 L111.9,679.85 L113.1,664.6 L111.9,649.35 Z" fill="#34251a" stroke="#1f150e" stroke-width="1" stroke-linejoin="miter"/>
<line x1="115.1" y1="645.7" x2="115.1" y2="658.6" stroke="#d95f02" stroke-opacity="0.85" stroke-width="0.6"/>
<line x1="115.1" y1="670.6" x2="115.1" y2="684.9" stroke="#d95f02" stroke-opacity="0.85" stroke-width="0.6"/>
<path d="M110.7,597.1 L119.5,597.1 C119.53,597.58 119.65,598.68 119.7,600 C119.75,601.32 119.75,603.33 119.8,605 C119.85,606.67 119.93,608.33 120,610 C120.07,611.67 120.1,613.33 120.2,615 C120.3,616.67 120.42,618.33 120.6,620 C120.78,621.67 121.02,623.33 121.3,625 C121.58,626.67 121.92,628.33 122.3,630 C122.68,631.67 123.12,633.33 123.6,635 C124.08,636.67 124.68,638.33 125.2,640 C125.72,641.67 126.07,643.33 126.7,645 C127.33,646.67 128.35,648.33 129,650 C129.65,651.67 130.2,653.33 130.6,655 C131,656.67 131.22,658.33 131.4,660 C131.58,661.67 131.73,663.33 131.7,665 C131.67,666.67 131.47,668.33 131.2,670 C130.93,671.67 130.53,673.33 130.1,675 C129.67,676.67 129.12,678.33 128.6,680 C128.08,681.67 127.57,683.33 127,685 C126.43,686.67 125.78,688.33 125.2,690 C124.62,691.67 124.03,693.33 123.5,695 C122.97,696.67 122.48,698.33 122,700 C121.52,701.67 121.02,703.33 120.6,705 C120.18,706.67 119.78,708.33 119.5,710 C119.22,711.67 119.08,713.33 118.9,715 C118.72,716.67 118.52,718.33 118.4,720 C118.28,721.67 118.27,723.33 118.2,725 C118.13,726.67 118.03,728.4 118,730 C117.97,731.6 118,733.83 118,734.6 L112.2,734.6 C112.2,733.83 112.23,731.6 112.2,730 C112.17,728.4 112.07,726.67 112,725 C111.93,723.33 111.92,721.67 111.8,720 C111.68,718.33 111.48,716.67 111.3,715 C111.12,713.33 110.98,711.67 110.7,710 C110.42,708.33 110.02,706.67 109.6,705 C109.18,703.33 108.68,701.67 108.2,700 C107.72,698.33 107.23,696.67 106.7,695 C106.17,693.33 105.58,691.67 105,690 C104.42,688.33 103.77,686.67 103.2,685 C102.63,683.33 102.12,681.67 101.6,680 C101.08,678.33 100.53,676.67 100.1,675 C99.67,673.33 99.27,671.67 99,670 C98.73,668.33 98.53,666.67 98.5,665 C98.47,663.33 98.62,661.67 98.8,660 C98.98,658.33 99.2,656.67 99.6,655 C100,653.33 100.55,651.67 101.2,650 C101.85,648.33 102.87,646.67 103.5,645 C104.13,643.33 104.48,641.67 105,640 C105.52,638.33 106.12,636.67 106.6,635 C107.08,633.33 107.52,631.67 107.9,630 C108.28,628.33 108.62,626.67 108.9,625 C109.18,623.33 109.42,621.67 109.6,620 C109.78,618.33 109.9,616.67 110,615 C110.1,613.33 110.13,611.67 110.2,610 C110.27,608.33 110.35,606.67 110.4,605 C110.45,603.33 110.45,601.32 110.5,600 C110.55,598.68 110.67,597.58 110.7,597.1 Z" fill="none" stroke="#d95f02" stroke-width="2.6" stroke-linejoin="miter" stroke-miterlimit="3"/>
<line x1="115.1" y1="597.1" x2="115.1" y2="642.2" stroke="#000" stroke-width="2.8" stroke-linecap="round"/>
<line x1="115.1" y1="688.4" x2="115.1" y2="734.6" stroke="#000" stroke-width="2.8" stroke-linecap="round"/>
<circle cx="115.1" cy="664.6" r="1.3" fill="#000"/>
<path d="M152.8,577.2 L158.2,577.2 C158.23,577.67 158.35,578.7 158.4,580 C158.45,581.3 158.45,583.33 158.5,585 C158.55,586.67 158.62,588.33 158.7,590 C158.78,591.67 158.87,593.33 159,595 C159.13,596.67 159.3,598.33 159.5,600 C159.7,601.67 159.98,603.33 160.2,605 C160.42,606.67 160.58,608.33 160.8,610 C161.02,611.67 161.25,613.33 161.5,615 C161.75,616.67 162.03,618.33 162.3,620 C162.57,621.67 162.8,623.33 163.1,625 C163.4,626.67 163.72,628.33 164.1,630 C164.48,631.67 164.98,633.33 165.4,635 C165.82,636.67 166.22,638.33 166.6,640 C166.98,641.67 167.33,643.33 167.7,645 C168.07,646.67 168.45,648.33 168.8,650 C169.15,651.67 169.48,653.33 169.8,655 C170.12,656.67 170.43,658.33 170.7,660 C170.97,661.67 171.22,663.33 171.4,665 C171.58,666.67 171.8,668.33 171.8,670 C171.8,671.67 171.58,673.33 171.4,675 C171.22,676.67 171.05,678.33 170.7,680 C170.35,681.67 169.8,683.33 169.3,685 C168.8,686.67 168.23,688.33 167.7,690 C167.17,691.67 166.65,693.33 166.1,695 C165.55,696.67 164.93,698.33 164.4,700 C163.87,701.67 163.37,703.33 162.9,705 C162.43,706.67 162,708.33 161.6,710 C161.2,711.67 160.8,713.3 160.5,715 C160.2,716.7 159.92,719.33 159.8,720.2 L151.2,720.2 C151.08,719.33 150.8,716.7 150.5,715 C150.2,713.3 149.8,711.67 149.4,710 C149,708.33 148.57,706.67 148.1,705 C147.63,703.33 147.13,701.67 146.6,700 C146.07,698.33 145.45,696.67 144.9,695 C144.35,693.33 143.83,691.67 143.3,690 C142.77,688.33 142.2,686.67 141.7,685 C141.2,683.33 140.65,681.67 140.3,680 C139.95,678.33 139.78,676.67 139.6,675 C139.42,673.33 139.2,671.67 139.2,670 C139.2,668.33 139.42,666.67 139.6,665 C139.78,663.33 140.03,661.67 140.3,660 C140.57,658.33 140.88,656.67 141.2,655 C141.52,653.33 141.85,651.67 142.2,650 C142.55,648.33 142.93,646.67 143.3,645 C143.67,643.33 144.02,641.67 144.4,640 C144.78,638.33 145.18,636.67 145.6,635 C146.02,633.33 146.52,631.67 146.9,630 C147.28,628.33 147.6,626.67 147.9,625 C148.2,623.33 148.43,621.67 148.7,620 C148.97,618.33 149.25,616.67 149.5,615 C149.75,613.33 149.98,611.67 150.2,610 C150.42,608.33 150.58,606.67 150.8,605 C151.02,603.33 151.3,601.67 151.5,600 C151.7,598.33 151.87,596.67 152,595 C152.13,593.33 152.22,591.67 152.3,590 C152.38,588.33 152.45,586.67 152.5,585 C152.55,583.33 152.55,581.3 152.6,580 C152.65,578.7 152.77,577.67 152.8,577.2 Z" fill="#7570b3" fill-opacity="0.25" stroke="#7570b3" stroke-width="2.6" stroke-linejoin="miter" stroke-miterlimit="3"/>
<path d="M152.3,634.2 L158.7,634.2 L158.7,648.3 L157.5,665.2 L158.7,682.1 L158.7,685.4 L152.3,685.4 L152.3,682.1 L153.5,665.2 L152.3,648.3 Z" fill="#28272f" stroke="#17161c" stroke-width="1" stroke-linejoin="miter"/>
<line x1="155.5" y1="637.7" x2="155.5" y2="659.2" stroke="#7570b3" stroke-opacity="0.85" stroke-width="0.6"/>
<line x1="155.5" y1="671.2" x2="155.5" y2="681.9" stroke="#7570b3" stroke-opacity="0.85" stroke-width="0.6"/>
<path d="M152.8,577.2 L158.2,577.2 C158.23,577.67 158.35,578.7 158.4,580 C158.45,581.3 158.45,583.33 158.5,585 C158.55,586.67 158.62,588.33 158.7,590 C158.78,591.67 158.87,593.33 159,595 C159.13,596.67 159.3,598.33 159.5,600 C159.7,601.67 159.98,603.33 160.2,605 C160.42,606.67 160.58,608.33 160.8,610 C161.02,611.67 161.25,613.33 161.5,615 C161.75,616.67 162.03,618.33 162.3,620 C162.57,621.67 162.8,623.33 163.1,625 C163.4,626.67 163.72,628.33 164.1,630 C164.48,631.67 164.98,633.33 165.4,635 C165.82,636.67 166.22,638.33 166.6,640 C166.98,641.67 167.33,643.33 167.7,645 C168.07,646.67 168.45,648.33 168.8,650 C169.15,651.67 169.48,653.33 169.8,655 C170.12,656.67 170.43,658.33 170.7,660 C170.97,661.67 171.22,663.33 171.4,665 C171.58,666.67 171.8,668.33 171.8,670 C171.8,671.67 171.58,673.33 171.4,675 C171.22,676.67 171.05,678.33 170.7,680 C170.35,681.67 169.8,683.33 169.3,685 C168.8,686.67 168.23,688.33 167.7,690 C167.17,691.67 166.65,693.33 166.1,695 C165.55,696.67 164.93,698.33 164.4,700 C163.87,701.67 163.37,703.33 162.9,705 C162.43,706.67 162,708.33 161.6,710 C161.2,711.67 160.8,713.3 160.5,715 C160.2,716.7 159.92,719.33 159.8,720.2 L151.2,720.2 C151.08,719.33 150.8,716.7 150.5,715 C150.2,713.3 149.8,711.67 149.4,710 C149,708.33 148.57,706.67 148.1,705 C147.63,703.33 147.13,701.67 146.6,700 C146.07,698.33 145.45,696.67 144.9,695 C144.35,693.33 143.83,691.67 143.3,690 C142.77,688.33 142.2,686.67 141.7,685 C141.2,683.33 140.65,681.67 140.3,680 C139.95,678.33 139.78,676.67 139.6,675 C139.42,673.33 139.2,671.67 139.2,670 C139.2,668.33 139.42,666.67 139.6,665 C139.78,663.33 140.03,661.67 140.3,660 C140.57,658.33 140.88,656.67 141.2,655 C141.52,653.33 141.85,651.67 142.2,650 C142.55,648.33 142.93,646.67 143.3,645 C143.67,643.33 144.02,641.67 144.4,640 C144.78,638.33 145.18,636.67 145.6,635 C146.02,633.33 146.52,631.67 146.9,630 C147.28,628.33 147.6,626.67 147.9,625 C148.2,623.33 148.43,621.67 148.7,620 C148.97,618.33 149.25,616.67 149.5,615 C149.75,613.33 149.98,611.67 150.2,610 C150.42,608.33 150.58,606.67 150.8,605 C151.02,603.33 151.3,601.67 151.5,600 C151.7,598.33 151.87,596.67 152,595 C152.13,593.33 152.22,591.67 152.3,590 C152.38,588.33 152.45,586.67 152.5,585 C152.55,583.33 152.55,581.3 152.6,580 C152.65,578.7 152.77,577.67 152.8,577.2 Z" fill="none" stroke="#7570b3" stroke-width="2.6" stroke-linejoin="miter" stroke-miterlimit="3"/>
<line x1="155.5" y1="577.2" x2="155.5" y2="634.2" stroke="#000" stroke-width="2.8" stroke-linecap="round"/>
<line x1="155.5" y1="685.4" x2="155.5" y2="720.2" stroke="#000" stroke-width="2.8" stroke-linecap="round"/>
<circle cx="155.5" cy="665.2" r="1.3" fill="#000"/>
<circle cx="195.7" cy="724.8" r="2.3" fill="#111"/>
<path d="M191.5,578.4 L199.9,578.4 C199.95,578.67 200.05,578.9 200.2,580 C200.35,581.1 200.58,583.33 200.8,585 C201.02,586.67 201.28,588.33 201.5,590 C201.72,591.67 201.87,593.33 202.1,595 C202.33,596.67 202.62,598.33 202.9,600 C203.18,601.67 203.52,603.33 203.8,605 C204.08,606.67 204.32,608.33 204.6,610 C204.88,611.67 205.17,613.33 205.5,615 C205.83,616.67 206.23,618.33 206.6,620 C206.97,621.67 207.33,623.33 207.7,625 C208.07,626.67 208.27,628.33 208.8,630 C209.33,631.67 210.35,633.33 210.9,635 C211.45,636.67 211.85,638.33 212.1,640 C212.35,641.67 212.43,643.33 212.4,645 C212.37,646.67 212.25,648.33 211.9,650 C211.55,651.67 210.95,653.33 210.3,655 C209.65,656.67 208.77,658.33 208,660 C207.23,661.67 206.47,663.33 205.7,665 C204.93,666.67 204.08,668.33 203.4,670 C202.72,671.67 202.08,673.33 201.6,675 C201.12,676.67 200.82,678.33 200.5,680 C200.18,681.67 199.9,683.33 199.7,685 C199.5,686.67 199.42,688.33 199.3,690 C199.18,691.67 199.1,693.33 199,695 C198.9,696.67 198.78,698.33 198.7,700 C198.62,701.67 198.53,701.67 198.5,705 C198.47,708.33 198.5,716.97 198.5,720 C198.5,723.03 198.5,722.67 198.5,723.2 L192.9,723.2 C192.9,722.67 192.9,723.03 192.9,720 C192.9,716.97 192.93,708.33 192.9,705 C192.87,701.67 192.78,701.67 192.7,700 C192.62,698.33 192.5,696.67 192.4,695 C192.3,693.33 192.22,691.67 192.1,690 C191.98,688.33 191.9,686.67 191.7,685 C191.5,683.33 191.22,681.67 190.9,680 C190.58,678.33 190.28,676.67 189.8,675 C189.32,673.33 188.68,671.67 188,670 C187.32,668.33 186.47,666.67 185.7,665 C184.93,663.33 184.17,661.67 183.4,660 C182.63,658.33 181.75,656.67 181.1,655 C180.45,653.33 179.85,651.67 179.5,650 C179.15,648.33 179.03,646.67 179,645 C178.97,643.33 179.05,641.67 179.3,640 C179.55,638.33 179.95,636.67 180.5,635 C181.05,633.33 182.07,631.67 182.6,630 C183.13,628.33 183.33,626.67 183.7,625 C184.07,623.33 184.43,621.67 184.8,620 C185.17,618.33 185.57,616.67 185.9,615 C186.23,613.33 186.52,611.67 186.8,610 C187.08,608.33 187.32,606.67 187.6,605 C187.88,603.33 188.22,601.67 188.5,600 C188.78,598.33 189.07,596.67 189.3,595 C189.53,593.33 189.68,591.67 189.9,590 C190.12,588.33 190.38,586.67 190.6,585 C190.82,583.33 191.05,581.1 191.2,580 C191.35,578.9 191.45,578.67 191.5,578.4 Z" fill="#e7298a" fill-opacity="0.25" stroke="#e7298a" stroke-width="2.6" stroke-linejoin="miter" stroke-miterlimit="3"/>
<path d="M192.5,612.1 L198.9,612.1 L198.9,634 L197.7,645 L198.9,656 L198.9,658 L192.5,658 L192.5,656 L193.7,645 L192.5,634 Z" fill="#351e2a" stroke="#201119" stroke-width="1" stroke-linejoin="miter"/>
<line x1="195.7" y1="615.6" x2="195.7" y2="639" stroke="#e7298a" stroke-opacity="0.85" stroke-width="0.6"/>
<line x1="195.7" y1="651" x2="195.7" y2="654.5" stroke="#e7298a" stroke-opacity="0.85" stroke-width="0.6"/>
<path d="M191.5,578.4 L199.9,578.4 C199.95,578.67 200.05,578.9 200.2,580 C200.35,581.1 200.58,583.33 200.8,585 C201.02,586.67 201.28,588.33 201.5,590 C201.72,591.67 201.87,593.33 202.1,595 C202.33,596.67 202.62,598.33 202.9,600 C203.18,601.67 203.52,603.33 203.8,605 C204.08,606.67 204.32,608.33 204.6,610 C204.88,611.67 205.17,613.33 205.5,615 C205.83,616.67 206.23,618.33 206.6,620 C206.97,621.67 207.33,623.33 207.7,625 C208.07,626.67 208.27,628.33 208.8,630 C209.33,631.67 210.35,633.33 210.9,635 C211.45,636.67 211.85,638.33 212.1,640 C212.35,641.67 212.43,643.33 212.4,645 C212.37,646.67 212.25,648.33 211.9,650 C211.55,651.67 210.95,653.33 210.3,655 C209.65,656.67 208.77,658.33 208,660 C207.23,661.67 206.47,663.33 205.7,665 C204.93,666.67 204.08,668.33 203.4,670 C202.72,671.67 202.08,673.33 201.6,675 C201.12,676.67 200.82,678.33 200.5,680 C200.18,681.67 199.9,683.33 199.7,685 C199.5,686.67 199.42,688.33 199.3,690 C199.18,691.67 199.1,693.33 199,695 C198.9,696.67 198.78,698.33 198.7,700 C198.62,701.67 198.53,701.67 198.5,705 C198.47,708.33 198.5,716.97 198.5,720 C198.5,723.03 198.5,722.67 198.5,723.2 L192.9,723.2 C192.9,722.67 192.9,723.03 192.9,720 C192.9,716.97 192.93,708.33 192.9,705 C192.87,701.67 192.78,701.67 192.7,700 C192.62,698.33 192.5,696.67 192.4,695 C192.3,693.33 192.22,691.67 192.1,690 C191.98,688.33 191.9,686.67 191.7,685 C191.5,683.33 191.22,681.67 190.9,680 C190.58,678.33 190.28,676.67 189.8,675 C189.32,673.33 188.68,671.67 188,670 C187.32,668.33 186.47,666.67 185.7,665 C184.93,663.33 184.17,661.67 183.4,660 C182.63,658.33 181.75,656.67 181.1,655 C180.45,653.33 179.85,651.67 179.5,650 C179.15,648.33 179.03,646.67 179,645 C178.97,643.33 179.05,641.67 179.3,640 C179.55,638.33 179.95,636.67 180.5,635 C181.05,633.33 182.07,631.67 182.6,630 C183.13,628.33 183.33,626.67 183.7,625 C184.07,623.33 184.43,621.67 184.8,620 C185.17,618.33 185.57,616.67 185.9,615 C186.23,613.33 186.52,611.67 186.8,610 C187.08,608.33 187.32,606.67 187.6,605 C187.88,603.33 188.22,601.67 188.5,600 C188.78,598.33 189.07,596.67 189.3,595 C189.53,593.33 189.68,591.67 189.9,590 C190.12,588.33 190.38,586.67 190.6,585 C190.82,583.33 191.05,581.1 191.2,580 C191.35,578.9 191.45,578.67 191.5,578.4 Z" fill="none" stroke="#e7298a" stroke-width="2.6" stroke-linejoin="miter" stroke-miterlimit="3"/>
<line x1="195.7" y1="578.4" x2="195.7" y2="612.1" stroke="#000" stroke-width="2.8" stroke-linecap="round"/>
<line x1="195.7" y1="658" x2="195.7" y2="692.2" stroke="#000" stroke-width="2.8" stroke-linecap="round"/>
<circle cx="195.7" cy="645" r="1.3" fill="#000"/>
<circle cx="195.7" cy="720.1" r="1.3" fill="#111"/>
<circle cx="236.3" cy="567.3" r="2.3" fill="#111"/>
<circle cx="236.3" cy="755" r="2.3" fill="#111"/>
<path d="M234.3,569.1 L238.3,569.1 C238.33,569.25 238.43,569.02 238.5,570 C238.57,570.98 238.67,572.5 238.7,575 C238.73,577.5 238.67,582.5 238.7,585 C238.73,587.5 238.85,588.33 238.9,590 C238.95,591.67 238.95,593.33 239,595 C239.05,596.67 239.08,598.33 239.2,600 C239.32,601.67 239.43,603.33 239.7,605 C239.97,606.67 240.27,608.33 240.8,610 C241.33,611.67 242.22,613.33 242.9,615 C243.58,616.67 244.17,618.33 244.9,620 C245.63,621.67 246.52,623.33 247.3,625 C248.08,626.67 248.93,628.33 249.6,630 C250.27,631.67 250.83,633.33 251.3,635 C251.77,636.67 252.17,638.33 252.4,640 C252.63,641.67 252.75,643.33 252.7,645 C252.65,646.67 252.4,648.33 252.1,650 C251.8,651.67 251.32,653.33 250.9,655 C250.48,656.67 250.07,658.33 249.6,660 C249.13,661.67 248.6,663.33 248.1,665 C247.6,666.67 247.07,668.33 246.6,670 C246.13,671.67 245.75,673.33 245.3,675 C244.85,676.67 244.38,678.33 243.9,680 C243.42,681.67 242.9,683.33 242.4,685 C241.9,686.67 241.32,688.33 240.9,690 C240.48,691.67 240.18,693.33 239.9,695 C239.62,696.67 239.37,698.33 239.2,700 C239.03,701.67 239.02,703.33 238.9,705 C238.78,706.67 238.62,708.33 238.5,710 C238.38,711.67 238.27,713.33 238.2,715 C238.13,716.67 238.15,717.5 238.1,720 C238.05,722.5 237.92,726.67 237.9,730 C237.88,733.33 237.95,736.67 238,740 C238.05,743.33 238.17,747.78 238.2,750 C238.23,752.22 238.2,752.75 238.2,753.3 L234.4,753.3 C234.4,752.75 234.37,752.22 234.4,750 C234.43,747.78 234.55,743.33 234.6,740 C234.65,736.67 234.72,733.33 234.7,730 C234.68,726.67 234.55,722.5 234.5,720 C234.45,717.5 234.47,716.67 234.4,715 C234.33,713.33 234.22,711.67 234.1,710 C233.98,708.33 233.82,706.67 233.7,705 C233.58,703.33 233.57,701.67 233.4,700 C233.23,698.33 232.98,696.67 232.7,695 C232.42,693.33 232.12,691.67 231.7,690 C231.28,688.33 230.7,686.67 230.2,685 C229.7,683.33 229.18,681.67 228.7,680 C228.22,678.33 227.75,676.67 227.3,675 C226.85,673.33 226.47,671.67 226,670 C225.53,668.33 225,666.67 224.5,665 C224,663.33 223.47,661.67 223,660 C222.53,658.33 222.12,656.67 221.7,655 C221.28,653.33 220.8,651.67 220.5,650 C220.2,648.33 219.95,646.67 219.9,645 C219.85,643.33 219.97,641.67 220.2,640 C220.43,638.33 220.83,636.67 221.3,635 C221.77,633.33 222.33,631.67 223,630 C223.67,628.33 224.52,626.67 225.3,625 C226.08,623.33 226.97,621.67 227.7,620 C228.43,618.33 229.02,616.67 229.7,615 C230.38,613.33 231.27,611.67 231.8,610 C232.33,608.33 232.63,606.67 232.9,605 C233.17,603.33 233.28,601.67 233.4,600 C233.52,598.33 233.55,596.67 233.6,595 C233.65,593.33 233.65,591.67 233.7,590 C233.75,588.33 233.87,587.5 233.9,585 C233.93,582.5 233.87,577.5 233.9,575 C233.93,572.5 234.03,570.98 234.1,570 C234.17,569.02 234.27,569.25 234.3,569.1 Z" fill="#66a61e" fill-opacity="0.25" stroke="#66a61e" stroke-width="2.6" stroke-linejoin="miter" stroke-miterlimit="3"/>
<path d="M233.1,633.4 L239.5,633.4 L239.5,635.4 L238.3,646.4 L239.5,657.4 L239.5,674.5 L233.1,674.5 L233.1,657.4 L234.3,646.4 L233.1,635.4 Z" fill="#262d1d" stroke="#161b10" stroke-width="1" stroke-linejoin="miter"/>
<line x1="236.3" y1="636.9" x2="236.3" y2="640.4" stroke="#66a61e" stroke-opacity="0.85" stroke-width="0.6"/>
<line x1="236.3" y1="652.4" x2="236.3" y2="671" stroke="#66a61e" stroke-opacity="0.85" stroke-width="0.6"/>
<path d="M234.3,569.1 L238.3,569.1 C238.33,569.25 238.43,569.02 238.5,570 C238.57,570.98 238.67,572.5 238.7,575 C238.73,577.5 238.67,582.5 238.7,585 C238.73,587.5 238.85,588.33 238.9,590 C238.95,591.67 238.95,593.33 239,595 C239.05,596.67 239.08,598.33 239.2,600 C239.32,601.67 239.43,603.33 239.7,605 C239.97,606.67 240.27,608.33 240.8,610 C241.33,611.67 242.22,613.33 242.9,615 C243.58,616.67 244.17,618.33 244.9,620 C245.63,621.67 246.52,623.33 247.3,625 C248.08,626.67 248.93,628.33 249.6,630 C250.27,631.67 250.83,633.33 251.3,635 C251.77,636.67 252.17,638.33 252.4,640 C252.63,641.67 252.75,643.33 252.7,645 C252.65,646.67 252.4,648.33 252.1,650 C251.8,651.67 251.32,653.33 250.9,655 C250.48,656.67 250.07,658.33 249.6,660 C249.13,661.67 248.6,663.33 248.1,665 C247.6,666.67 247.07,668.33 246.6,670 C246.13,671.67 245.75,673.33 245.3,675 C244.85,676.67 244.38,678.33 243.9,680 C243.42,681.67 242.9,683.33 242.4,685 C241.9,686.67 241.32,688.33 240.9,690 C240.48,691.67 240.18,693.33 239.9,695 C239.62,696.67 239.37,698.33 239.2,700 C239.03,701.67 239.02,703.33 238.9,705 C238.78,706.67 238.62,708.33 238.5,710 C238.38,711.67 238.27,713.33 238.2,715 C238.13,716.67 238.15,717.5 238.1,720 C238.05,722.5 237.92,726.67 237.9,730 C237.88,733.33 237.95,736.67 238,740 C238.05,743.33 238.17,747.78 238.2,750 C238.23,752.22 238.2,752.75 238.2,753.3 L234.4,753.3 C234.4,752.75 234.37,752.22 234.4,750 C234.43,747.78 234.55,743.33 234.6,740 C234.65,736.67 234.72,733.33 234.7,730 C234.68,726.67 234.55,722.5 234.5,720 C234.45,717.5 234.47,716.67 234.4,715 C234.33,713.33 234.22,711.67 234.1,710 C233.98,708.33 233.82,706.67 233.7,705 C233.58,703.33 233.57,701.67 233.4,700 C233.23,698.33 232.98,696.67 232.7,695 C232.42,693.33 232.12,691.67 231.7,690 C231.28,688.33 230.7,686.67 230.2,685 C229.7,683.33 229.18,681.67 228.7,680 C228.22,678.33 227.75,676.67 227.3,675 C226.85,673.33 226.47,671.67 226,670 C225.53,668.33 225,666.67 224.5,665 C224,663.33 223.47,661.67 223,660 C222.53,658.33 222.12,656.67 221.7,655 C221.28,653.33 220.8,651.67 220.5,650 C220.2,648.33 219.95,646.67 219.9,645 C219.85,643.33 219.97,641.67 220.2,640 C220.43,638.33 220.83,636.67 221.3,635 C221.77,633.33 222.33,631.67 223,630 C223.67,628.33 224.52,626.67 225.3,625 C226.08,623.33 226.97,621.67 227.7,620 C228.43,618.33 229.02,616.67 229.7,615 C230.38,613.33 231.27,611.67 231.8,610 C232.33,608.33 232.63,606.67 232.9,605 C233.17,603.33 233.28,601.67 233.4,600 C233.52,598.33 233.55,596.67 233.6,595 C233.65,593.33 233.65,591.67 233.7,590 C233.75,588.33 233.87,587.5 233.9,585 C233.93,582.5 233.87,577.5 233.9,575 C233.93,572.5 234.03,570.98 234.1,570 C234.17,569.02 234.27,569.25 234.3,569.1 Z" fill="none" stroke="#66a61e" stroke-width="2.6" stroke-linejoin="miter" stroke-miterlimit="3"/>
<line x1="236.3" y1="602.7" x2="236.3" y2="633.4" stroke="#000" stroke-width="2.8" stroke-linecap="round"/>
<line x1="236.3" y1="674.5" x2="236.3" y2="709.4" stroke="#000" stroke-width="2.8" stroke-linecap="round"/>
<circle cx="236.3" cy="646.4" r="1.3" fill="#000"/>
<circle cx="236.3" cy="571.8" r="1.3" fill="#111"/>
<path d="M270.7,580.2 L282.5,580.2 C282.67,581 283.27,583.37 283.5,585 C283.73,586.63 283.8,588.33 283.9,590 C284,591.67 284.07,593.33 284.1,595 C284.13,596.67 284.13,598.33 284.1,600 C284.07,601.67 283.95,603.33 283.9,605 C283.85,606.67 283.8,608.33 283.8,610 C283.8,611.67 283.8,613.33 283.9,615 C284,616.67 284.18,618.33 284.4,620 C284.62,621.67 284.92,623.33 285.2,625 C285.48,626.67 285.82,628.33 286.1,630 C286.38,631.67 286.43,633.33 286.9,635 C287.37,636.67 288.28,638.33 288.9,640 C289.52,641.67 290.1,643.33 290.6,645 C291.1,646.67 291.53,648.33 291.9,650 C292.27,651.67 292.6,653.33 292.8,655 C293,656.67 293.1,658.33 293.1,660 C293.1,661.67 293.05,663.33 292.8,665 C292.55,666.67 292.1,668.33 291.6,670 C291.1,671.67 290.47,673.33 289.8,675 C289.13,676.67 288.33,678.33 287.6,680 C286.87,681.67 286.05,683.33 285.4,685 C284.75,686.67 284.17,688.45 283.7,690 C283.23,691.55 282.78,693.58 282.6,694.3 L270.6,694.3 C270.42,693.58 269.97,691.55 269.5,690 C269.03,688.45 268.45,686.67 267.8,685 C267.15,683.33 266.33,681.67 265.6,680 C264.87,678.33 264.07,676.67 263.4,675 C262.73,673.33 262.1,671.67 261.6,670 C261.1,668.33 260.65,666.67 260.4,665 C260.15,663.33 260.1,661.67 260.1,660 C260.1,658.33 260.2,656.67 260.4,655 C260.6,653.33 260.93,651.67 261.3,650 C261.67,648.33 262.1,646.67 262.6,645 C263.1,643.33 263.68,641.67 264.3,640 C264.92,638.33 265.83,636.67 266.3,635 C266.77,633.33 266.82,631.67 267.1,630 C267.38,628.33 267.72,626.67 268,625 C268.28,623.33 268.58,621.67 268.8,620 C269.02,618.33 269.2,616.67 269.3,615 C269.4,613.33 269.4,611.67 269.4,610 C269.4,608.33 269.35,606.67 269.3,605 C269.25,603.33 269.13,601.67 269.1,600 C269.07,598.33 269.07,596.67 269.1,595 C269.13,593.33 269.2,591.67 269.3,590 C269.4,588.33 269.47,586.63 269.7,585 C269.93,583.37 270.53,581 270.7,580.2 Z" fill="#e6ab02" fill-opacity="0.25" stroke="#e6ab02" stroke-width="2.6" stroke-linejoin="miter" stroke-miterlimit="3"/>
<path d="M273.4,612.5 L279.8,612.5 L279.8,642.6 L278.6,654.9 L279.8,667.2 L279.8,669.2 L273.4,669.2 L273.4,667.2 L274.6,654.9 L273.4,642.6 Z" fill="#352e1a" stroke="#201b0e" stroke-width="1" stroke-linejoin="miter"/>
<line x1="276.6" y1="616" x2="276.6" y2="648.9" stroke="#e6ab02" stroke-opacity="0.85" stroke-width="0.6"/>
<line x1="276.6" y1="660.9" x2="276.6" y2="665.7" stroke="#e6ab02" stroke-opacity="0.85" stroke-width="0.6"/>
<path d="M270.7,580.2 L282.5,580.2 C282.67,581 283.27,583.37 283.5,585 C283.73,586.63 283.8,588.33 283.9,590 C284,591.67 284.07,593.33 284.1,595 C284.13,596.67 284.13,598.33 284.1,600 C284.07,601.67 283.95,603.33 283.9,605 C283.85,606.67 283.8,608.33 283.8,610 C283.8,611.67 283.8,613.33 283.9,615 C284,616.67 284.18,618.33 284.4,620 C284.62,621.67 284.92,623.33 285.2,625 C285.48,626.67 285.82,628.33 286.1,630 C286.38,631.67 286.43,633.33 286.9,635 C287.37,636.67 288.28,638.33 288.9,640 C289.52,641.67 290.1,643.33 290.6,645 C291.1,646.67 291.53,648.33 291.9,650 C292.27,651.67 292.6,653.33 292.8,655 C293,656.67 293.1,658.33 293.1,660 C293.1,661.67 293.05,663.33 292.8,665 C292.55,666.67 292.1,668.33 291.6,670 C291.1,671.67 290.47,673.33 289.8,675 C289.13,676.67 288.33,678.33 287.6,680 C286.87,681.67 286.05,683.33 285.4,685 C284.75,686.67 284.17,688.45 283.7,690 C283.23,691.55 282.78,693.58 282.6,694.3 L270.6,694.3 C270.42,693.58 269.97,691.55 269.5,690 C269.03,688.45 268.45,686.67 267.8,685 C267.15,683.33 266.33,681.67 265.6,680 C264.87,678.33 264.07,676.67 263.4,675 C262.73,673.33 262.1,671.67 261.6,670 C261.1,668.33 260.65,666.67 260.4,665 C260.15,663.33 260.1,661.67 260.1,660 C260.1,658.33 260.2,656.67 260.4,655 C260.6,653.33 260.93,651.67 261.3,650 C261.67,648.33 262.1,646.67 262.6,645 C263.1,643.33 263.68,641.67 264.3,640 C264.92,638.33 265.83,636.67 266.3,635 C266.77,633.33 266.82,631.67 267.1,630 C267.38,628.33 267.72,626.67 268,625 C268.28,623.33 268.58,621.67 268.8,620 C269.02,618.33 269.2,616.67 269.3,615 C269.4,613.33 269.4,611.67 269.4,610 C269.4,608.33 269.35,606.67 269.3,605 C269.25,603.33 269.13,601.67 269.1,600 C269.07,598.33 269.07,596.67 269.1,595 C269.13,593.33 269.2,591.67 269.3,590 C269.4,588.33 269.47,586.63 269.7,585 C269.93,583.37 270.53,581 270.7,580.2 Z" fill="none" stroke="#e6ab02" stroke-width="2.6" stroke-linejoin="miter" stroke-miterlimit="3"/>
<line x1="276.6" y1="580.2" x2="276.6" y2="612.5" stroke="#000" stroke-width="2.8" stroke-linecap="round"/>
<line x1="276.6" y1="669.2" x2="276.6" y2="694.3" stroke="#000" stroke-width="2.8" stroke-linecap="round"/>
<circle cx="276.6" cy="654.9" r="1.3" fill="#000"/>
<circle cx="316.9" cy="535" r="2.3" fill="#111"/>
<path d="M313.1,536 L320.7,536 C320.67,536.67 320.55,538.5 320.5,540 C320.45,541.5 320.45,543.33 320.4,545 C320.35,546.67 320.27,548.33 320.2,550 C320.13,551.67 320.08,553.33 320,555 C319.92,556.67 319.78,558.33 319.7,560 C319.62,561.67 319.55,563.33 319.5,565 C319.45,566.67 319.45,568.33 319.4,570 C319.35,571.67 319.19,573.33 319.2,575 C319.21,576.67 319.33,578.33 319.45,580 C319.57,581.67 319.69,583.33 319.9,585 C320.11,586.67 320.47,588.33 320.7,590 C320.93,591.67 321.05,593.33 321.3,595 C321.55,596.67 321.92,598.33 322.2,600 C322.48,601.67 322.72,603.33 323,605 C323.28,606.67 323.57,608.33 323.9,610 C324.23,611.67 324.63,613.33 325,615 C325.37,616.67 325.73,618.33 326.1,620 C326.47,621.67 326.82,623.33 327.2,625 C327.58,626.67 328,628.33 328.4,630 C328.8,631.67 329.17,633.33 329.6,635 C330.03,636.67 330.65,638.33 331,640 C331.35,641.67 331.47,643.33 331.7,645 C331.93,646.67 332.2,648.33 332.4,650 C332.6,651.67 332.77,653.33 332.9,655 C333.03,656.67 333.12,658.33 333.2,660 C333.28,661.67 333.38,663.33 333.4,665 C333.42,666.67 333.37,668.33 333.3,670 C333.22,671.67 333.1,673.33 332.95,675 C332.8,676.67 332.61,678.33 332.4,680 C332.19,681.67 331.93,683.33 331.7,685 C331.47,686.67 331.27,688.33 331,690 C330.73,691.67 330.43,693.33 330.1,695 C329.77,696.67 329.38,698.33 329,700 C328.62,701.67 328.18,703.33 327.8,705 C327.42,706.67 327.07,708.33 326.7,710 C326.33,711.67 325.9,713.33 325.6,715 C325.3,716.67 325.02,719.17 324.9,720 L308.9,720 C308.78,719.17 308.5,716.67 308.2,715 C307.9,713.33 307.47,711.67 307.1,710 C306.73,708.33 306.38,706.67 306,705 C305.62,703.33 305.18,701.67 304.8,700 C304.42,698.33 304.03,696.67 303.7,695 C303.37,693.33 303.07,691.67 302.8,690 C302.53,688.33 302.33,686.67 302.1,685 C301.87,683.33 301.61,681.67 301.4,680 C301.19,678.33 301,676.67 300.85,675 C300.7,673.33 300.57,671.67 300.5,670 C300.43,668.33 300.38,666.67 300.4,665 C300.42,663.33 300.52,661.67 300.6,660 C300.68,658.33 300.77,656.67 300.9,655 C301.03,653.33 301.2,651.67 301.4,650 C301.6,648.33 301.87,646.67 302.1,645 C302.33,643.33 302.45,641.67 302.8,640 C303.15,638.33 303.77,636.67 304.2,635 C304.63,633.33 305,631.67 305.4,630 C305.8,628.33 306.22,626.67 306.6,625 C306.98,623.33 307.33,621.67 307.7,620 C308.07,618.33 308.43,616.67 308.8,615 C309.17,613.33 309.57,611.67 309.9,610 C310.23,608.33 310.52,606.67 310.8,605 C311.08,603.33 311.32,601.67 311.6,600 C311.88,598.33 312.25,596.67 312.5,595 C312.75,593.33 312.87,591.67 313.1,590 C313.33,588.33 313.69,586.67 313.9,585 C314.11,583.33 314.23,581.67 314.35,580 C314.47,578.33 314.59,576.67 314.6,575 C314.61,573.33 314.45,571.67 314.4,570 C314.35,568.33 314.35,566.67 314.3,565 C314.25,563.33 314.18,561.67 314.1,560 C314.02,558.33 313.88,556.67 313.8,555 C313.72,553.33 313.67,551.67 313.6,550 C313.53,548.33 313.45,546.67 313.4,545 C313.35,543.33 313.35,541.5 313.3,540 C313.25,538.5 313.13,536.67 313.1,536 Z" fill="#a6761d" fill-opacity="0.25" stroke="#a6761d" stroke-width="2.6" stroke-linejoin="miter" stroke-miterlimit="3"/>
<path d="M313.7,633.4 L320.1,633.4 L320.1,642.08 L318.9,663.4 L320.1,684.72 L320.1,698 L313.7,698 L313.7,684.72 L314.9,663.4 L313.7,642.08 Z" fill="#2d281d" stroke="#1b1710" stroke-width="1" stroke-linejoin="miter"/>
<line x1="316.9" y1="636.9" x2="316.9" y2="657.4" stroke="#a6761d" stroke-opacity="0.85" stroke-width="0.6"/>
<line x1="316.9" y1="669.4" x2="316.9" y2="694.5" stroke="#a6761d" stroke-opacity="0.85" stroke-width="0.6"/>
<path d="M313.1,536 L320.7,536 C320.67,536.67 320.55,538.5 320.5,540 C320.45,541.5 320.45,543.33 320.4,545 C320.35,546.67 320.27,548.33 320.2,550 C320.13,551.67 320.08,553.33 320,555 C319.92,556.67 319.78,558.33 319.7,560 C319.62,561.67 319.55,563.33 319.5,565 C319.45,566.67 319.45,568.33 319.4,570 C319.35,571.67 319.19,573.33 319.2,575 C319.21,576.67 319.33,578.33 319.45,580 C319.57,581.67 319.69,583.33 319.9,585 C320.11,586.67 320.47,588.33 320.7,590 C320.93,591.67 321.05,593.33 321.3,595 C321.55,596.67 321.92,598.33 322.2,600 C322.48,601.67 322.72,603.33 323,605 C323.28,606.67 323.57,608.33 323.9,610 C324.23,611.67 324.63,613.33 325,615 C325.37,616.67 325.73,618.33 326.1,620 C326.47,621.67 326.82,623.33 327.2,625 C327.58,626.67 328,628.33 328.4,630 C328.8,631.67 329.17,633.33 329.6,635 C330.03,636.67 330.65,638.33 331,640 C331.35,641.67 331.47,643.33 331.7,645 C331.93,646.67 332.2,648.33 332.4,650 C332.6,651.67 332.77,653.33 332.9,655 C333.03,656.67 333.12,658.33 333.2,660 C333.28,661.67 333.38,663.33 333.4,665 C333.42,666.67 333.37,668.33 333.3,670 C333.22,671.67 333.1,673.33 332.95,675 C332.8,676.67 332.61,678.33 332.4,680 C332.19,681.67 331.93,683.33 331.7,685 C331.47,686.67 331.27,688.33 331,690 C330.73,691.67 330.43,693.33 330.1,695 C329.77,696.67 329.38,698.33 329,700 C328.62,701.67 328.18,703.33 327.8,705 C327.42,706.67 327.07,708.33 326.7,710 C326.33,711.67 325.9,713.33 325.6,715 C325.3,716.67 325.02,719.17 324.9,720 L308.9,720 C308.78,719.17 308.5,716.67 308.2,715 C307.9,713.33 307.47,711.67 307.1,710 C306.73,708.33 306.38,706.67 306,705 C305.62,703.33 305.18,701.67 304.8,700 C304.42,698.33 304.03,696.67 303.7,695 C303.37,693.33 303.07,691.67 302.8,690 C302.53,688.33 302.33,686.67 302.1,685 C301.87,683.33 301.61,681.67 301.4,680 C301.19,678.33 301,676.67 300.85,675 C300.7,673.33 300.57,671.67 300.5,670 C300.43,668.33 300.38,666.67 300.4,665 C300.42,663.33 300.52,661.67 300.6,660 C300.68,658.33 300.77,656.67 300.9,655 C301.03,653.33 301.2,651.67 301.4,650 C301.6,648.33 301.87,646.67 302.1,645 C302.33,643.33 302.45,641.67 302.8,640 C303.15,638.33 303.77,636.67 304.2,635 C304.63,633.33 305,631.67 305.4,630 C305.8,628.33 306.22,626.67 306.6,625 C306.98,623.33 307.33,621.67 307.7,620 C308.07,618.33 308.43,616.67 308.8,615 C309.17,613.33 309.57,611.67 309.9,610 C310.23,608.33 310.52,606.67 310.8,605 C311.08,603.33 311.32,601.67 311.6,600 C311.88,598.33 312.25,596.67 312.5,595 C312.75,593.33 312.87,591.67 313.1,590 C313.33,588.33 313.69,586.67 313.9,585 C314.11,583.33 314.23,581.67 314.35,580 C314.47,578.33 314.59,576.67 314.6,575 C314.61,573.33 314.45,571.67 314.4,570 C314.35,568.33 314.35,566.67 314.3,565 C314.25,563.33 314.18,561.67 314.1,560 C314.02,558.33 313.88,556.67 313.8,555 C313.72,553.33 313.67,551.67 313.6,550 C313.53,548.33 313.45,546.67 313.4,545 C313.35,543.33 313.35,541.5 313.3,540 C313.25,538.5 313.13,536.67 313.1,536 Z" fill="none" stroke="#a6761d" stroke-width="2.6" stroke-linejoin="miter" stroke-miterlimit="3"/>
<line x1="316.9" y1="552.4" x2="316.9" y2="633.4" stroke="#000" stroke-width="2.8" stroke-linecap="round"/>
<line x1="316.9" y1="698" x2="316.9" y2="720" stroke="#000" stroke-width="2.8" stroke-linecap="round"/>
<circle cx="316.9" cy="663.4" r="1.3" fill="#000"/>
<circle cx="316.9" cy="538.4" r="1.3" fill="#111"/>
<path d="M347.2,630.3 L367.4,630.3 C367.67,630.58 368.52,631.22 369,632 C369.48,632.78 369.8,633.67 370.3,635 C370.8,636.33 371.53,638.33 372,640 C372.47,641.67 372.87,643.67 373.1,645 C373.33,646.33 373.37,647.17 373.4,648 C373.43,648.83 373.48,648.83 373.3,650 C373.12,651.17 372.77,653.33 372.3,655 C371.83,656.67 371.15,658.33 370.5,660 C369.85,661.67 369.03,663.77 368.4,665 C367.77,666.23 366.98,667 366.7,667.4 L347.9,667.4 C347.62,667 346.83,666.23 346.2,665 C345.57,663.77 344.75,661.67 344.1,660 C343.45,658.33 342.77,656.67 342.3,655 C341.83,653.33 341.48,651.17 341.3,650 C341.12,648.83 341.17,648.83 341.2,648 C341.23,647.17 341.27,646.33 341.5,645 C341.73,643.67 342.13,641.67 342.6,640 C343.07,638.33 343.8,636.33 344.3,635 C344.8,633.67 345.12,632.78 345.6,632 C346.08,631.22 346.93,630.58 347.2,630.3 Z" fill="#666666" fill-opacity="0.25" stroke="#666666" stroke-width="2.6" stroke-linejoin="miter" stroke-miterlimit="3"/>
<path d="M354.1,633 L360.5,633 L360.5,637.97 L359.3,648 L360.5,658.03 L360.5,663.4 L354.1,663.4 L354.1,658.03 L355.3,648 L354.1,637.97 Z" fill="#262626" stroke="#161616" stroke-width="1" stroke-linejoin="miter"/>
<line x1="357.3" y1="636.5" x2="357.3" y2="642" stroke="#666666" stroke-opacity="0.85" stroke-width="0.6"/>
<line x1="357.3" y1="654" x2="357.3" y2="659.9" stroke="#666666" stroke-opacity="0.85" stroke-width="0.6"/>
<path d="M347.2,630.3 L367.4,630.3 C367.67,630.58 368.52,631.22 369,632 C369.48,632.78 369.8,633.67 370.3,635 C370.8,636.33 371.53,638.33 372,640 C372.47,641.67 372.87,643.67 373.1,645 C373.33,646.33 373.37,647.17 373.4,648 C373.43,648.83 373.48,648.83 373.3,650 C373.12,651.17 372.77,653.33 372.3,655 C371.83,656.67 371.15,658.33 370.5,660 C369.85,661.67 369.03,663.77 368.4,665 C367.77,666.23 366.98,667 366.7,667.4 L347.9,667.4 C347.62,667 346.83,666.23 346.2,665 C345.57,663.77 344.75,661.67 344.1,660 C343.45,658.33 342.77,656.67 342.3,655 C341.83,653.33 341.48,651.17 341.3,650 C341.12,648.83 341.17,648.83 341.2,648 C341.23,647.17 341.27,646.33 341.5,645 C341.73,643.67 342.13,641.67 342.6,640 C343.07,638.33 343.8,636.33 344.3,635 C344.8,633.67 345.12,632.78 345.6,632 C346.08,631.22 346.93,630.58 347.2,630.3 Z" fill="none" stroke="#666666" stroke-width="2.6" stroke-linejoin="miter" stroke-miterlimit="3"/>
<line x1="357.3" y1="630.3" x2="357.3" y2="633" stroke="#000" stroke-width="2.8" stroke-linecap="round"/>
<line x1="357.3" y1="663.4" x2="357.3" y2="667.4" stroke="#000" stroke-width="2.8" stroke-linecap="round"/>
<circle cx="357.3" cy="648" r="1.3" fill="#000"/>
<path d="M386.8,495.6 L408.6,495.6 C408.97,496.33 410.18,498.43 410.8,500 C411.42,501.57 411.88,503.33 412.3,505 C412.72,506.67 413.03,508.33 413.3,510 C413.57,511.67 413.75,513.33 413.9,515 C414.05,516.67 414.12,518.33 414.2,520 C414.28,521.67 414.4,523.33 414.4,525 C414.4,526.67 414.33,528.33 414.2,530 C414.07,531.67 413.85,533.33 413.6,535 C413.35,536.67 413.02,538.33 412.7,540 C412.38,541.67 412.03,543.33 411.7,545 C411.37,546.67 411.03,548.33 410.7,550 C410.37,551.67 410.05,553.33 409.7,555 C409.35,556.67 408.97,558.33 408.6,560 C408.23,561.67 407.82,563.33 407.5,565 C407.18,566.67 406.92,568.33 406.7,570 C406.48,571.67 406.32,573.33 406.2,575 C406.08,576.67 406.07,578.33 406,580 C405.93,581.67 405.83,582.5 405.8,585 C405.77,587.5 405.78,592.5 405.8,595 C405.82,597.5 405.85,598.33 405.9,600 C405.95,601.67 405.98,603.33 406.1,605 C406.22,606.67 406.43,608.33 406.6,610 C406.77,611.67 406.95,613.33 407.1,615 C407.25,616.67 407.37,618.33 407.5,620 C407.63,621.67 407.78,623.33 407.9,625 C408.02,626.67 408.12,628.33 408.2,630 C408.28,631.67 408.33,633.33 408.4,635 C408.47,636.67 408.57,638.33 408.6,640 C408.63,641.67 408.63,643.12 408.6,645 C408.57,646.88 408.43,650.25 408.4,651.3 L387,651.3 C386.97,650.25 386.83,646.88 386.8,645 C386.77,643.12 386.77,641.67 386.8,640 C386.83,638.33 386.93,636.67 387,635 C387.07,633.33 387.12,631.67 387.2,630 C387.28,628.33 387.38,626.67 387.5,625 C387.62,623.33 387.77,621.67 387.9,620 C388.03,618.33 388.15,616.67 388.3,615 C388.45,613.33 388.63,611.67 388.8,610 C388.97,608.33 389.18,606.67 389.3,605 C389.42,603.33 389.45,601.67 389.5,600 C389.55,598.33 389.58,597.5 389.6,595 C389.62,592.5 389.63,587.5 389.6,585 C389.57,582.5 389.47,581.67 389.4,580 C389.33,578.33 389.32,576.67 389.2,575 C389.08,573.33 388.92,571.67 388.7,570 C388.48,568.33 388.22,566.67 387.9,565 C387.58,563.33 387.17,561.67 386.8,560 C386.43,558.33 386.05,556.67 385.7,555 C385.35,553.33 385.03,551.67 384.7,550 C384.37,548.33 384.03,546.67 383.7,545 C383.37,543.33 383.02,541.67 382.7,540 C382.38,538.33 382.05,536.67 381.8,535 C381.55,533.33 381.33,531.67 381.2,530 C381.07,528.33 381,526.67 381,525 C381,523.33 381.12,521.67 381.2,520 C381.28,518.33 381.35,516.67 381.5,515 C381.65,513.33 381.83,511.67 382.1,510 C382.37,508.33 382.68,506.67 383.1,505 C383.52,503.33 383.98,501.57 384.6,500 C385.22,498.43 386.43,496.33 386.8,495.6 Z" fill="#1b9e77" fill-opacity="0.25" stroke="#1b9e77" stroke-width="2.6" stroke-linejoin="miter" stroke-miterlimit="3"/>
<path d="M394.5,515.8 L400.9,515.8 L400.9,517.8 L399.7,549.2 L400.9,580.6 L400.9,635.2 L394.5,635.2 L394.5,580.6 L395.7,549.2 L394.5,517.8 Z" fill="#1d2c28" stroke="#101a17" stroke-width="1" stroke-linejoin="miter"/>
<line x1="397.7" y1="519.3" x2="397.7" y2="543.2" stroke="#1b9e77" stroke-opacity="0.85" stroke-width="0.6"/>
<line x1="397.7" y1="555.2" x2="397.7" y2="631.7" stroke="#1b9e77" stroke-opacity="0.85" stroke-width="0.6"/>
<path d="M386.8,495.6 L408.6,495.6 C408.97,496.33 410.18,498.43 410.8,500 C411.42,501.57 411.88,503.33 412.3,505 C412.72,506.67 413.03,508.33 413.3,510 C413.57,511.67 413.75,513.33 413.9,515 C414.05,516.67 414.12,518.33 414.2,520 C414.28,521.67 414.4,523.33 414.4,525 C414.4,526.67 414.33,528.33 414.2,530 C414.07,531.67 413.85,533.33 413.6,535 C413.35,536.67 413.02,538.33 412.7,540 C412.38,541.67 412.03,543.33 411.7,545 C411.37,546.67 411.03,548.33 410.7,550 C410.37,551.67 410.05,553.33 409.7,555 C409.35,556.67 408.97,558.33 408.6,560 C408.23,561.67 407.82,563.33 407.5,565 C407.18,566.67 406.92,568.33 406.7,570 C406.48,571.67 406.32,573.33 406.2,575 C406.08,576.67 406.07,578.33 406,580 C405.93,581.67 405.83,582.5 405.8,585 C405.77,587.5 405.78,592.5 405.8,595 C405.82,597.5 405.85,598.33 405.9,600 C405.95,601.67 405.98,603.33 406.1,605 C406.22,606.67 406.43,608.33 406.6,610 C406.77,611.67 406.95,613.33 407.1,615 C407.25,616.67 407.37,618.33 407.5,620 C407.63,621.67 407.78,623.33 407.9,625 C408.02,626.67 408.12,628.33 408.2,630 C408.28,631.67 408.33,633.33 408.4,635 C408.47,636.67 408.57,638.33 408.6,640 C408.63,641.67 408.63,643.12 408.6,645 C408.57,646.88 408.43,650.25 408.4,651.3 L387,651.3 C386.97,650.25 386.83,646.88 386.8,645 C386.77,643.12 386.77,641.67 386.8,640 C386.83,638.33 386.93,636.67 387,635 C387.07,633.33 387.12,631.67 387.2,630 C387.28,628.33 387.38,626.67 387.5,625 C387.62,623.33 387.77,621.67 387.9,620 C388.03,618.33 388.15,616.67 388.3,615 C388.45,613.33 388.63,611.67 388.8,610 C388.97,608.33 389.18,606.67 389.3,605 C389.42,603.33 389.45,601.67 389.5,600 C389.55,598.33 389.58,597.5 389.6,595 C389.62,592.5 389.63,587.5 389.6,585 C389.57,582.5 389.47,581.67 389.4,580 C389.33,578.33 389.32,576.67 389.2,575 C389.08,573.33 388.92,571.67 388.7,570 C388.48,568.33 388.22,566.67 387.9,565 C387.58,563.33 387.17,561.67 386.8,560 C386.43,558.33 386.05,556.67 385.7,555 C385.35,553.33 385.03,551.67 384.7,550 C384.37,548.33 384.03,546.67 383.7,545 C383.37,543.33 383.02,541.67 382.7,540 C382.38,538.33 382.05,536.67 381.8,535 C381.55,533.33 381.33,531.67 381.2,530 C381.07,528.33 381,526.67 381,525 C381,523.33 381.12,521.67 381.2,520 C381.28,518.33 381.35,516.67 381.5,515 C381.65,513.33 381.83,511.67 382.1,510 C382.37,508.33 382.68,506.67 383.1,505 C383.52,503.33 383.98,501.57 384.6,500 C385.22,498.43 386.43,496.33 386.8,495.6 Z" fill="none" stroke="#1b9e77" stroke-width="2.6" stroke-linejoin="miter" stroke-miterlimit="3"/>
<line x1="397.7" y1="495.6" x2="397.7" y2="515.8" stroke="#000" stroke-width="2.8" stroke-linecap="round"/>
<line x1="397.7" y1="635.2" x2="397.7" y2="651.3" stroke="#000" stroke-width="2.8" stroke-linecap="round"/>
<circle cx="397.7" cy="549.2" r="1.3" fill="#000"/>
<path d="M433.7,579.8 L442.5,579.8 C442.55,579.83 442.62,579.13 442.8,580 C442.98,580.87 443.35,583.33 443.6,585 C443.85,586.67 444.08,588.33 444.3,590 C444.52,591.67 444.65,593.33 444.9,595 C445.15,596.67 445.5,598.33 445.8,600 C446.1,601.67 446.38,603.33 446.7,605 C447.02,606.67 447.32,608.33 447.7,610 C448.08,611.67 448.6,613.33 449,615 C449.4,616.67 449.73,618.33 450.1,620 C450.47,621.67 450.92,623.33 451.2,625 C451.48,626.67 451.59,628.33 451.8,630 C452.01,631.67 452.2,633.33 452.45,635 C452.7,636.67 453.06,638.33 453.3,640 C453.54,641.67 453.77,643.33 453.9,645 C454.03,646.67 454.02,648.33 454.1,650 C454.18,651.67 454.32,653.33 454.4,655 C454.48,656.67 454.6,658.33 454.6,660 C454.6,661.67 454.62,663.33 454.4,665 C454.18,666.67 453.78,668.33 453.3,670 C452.82,671.67 452.08,673.33 451.5,675 C450.92,676.67 450.38,678.33 449.8,680 C449.22,681.67 448.58,683.33 448,685 C447.42,686.67 446.83,688.33 446.3,690 C445.77,691.67 445.28,693.33 444.8,695 C444.32,696.67 443.8,698.33 443.4,700 C443,701.67 442.63,703.65 442.4,705 C442.17,706.35 442.07,707.58 442,708.1 L434.2,708.1 C434.13,707.58 434.03,706.35 433.8,705 C433.57,703.65 433.2,701.67 432.8,700 C432.4,698.33 431.88,696.67 431.4,695 C430.92,693.33 430.43,691.67 429.9,690 C429.37,688.33 428.78,686.67 428.2,685 C427.62,683.33 426.98,681.67 426.4,680 C425.82,678.33 425.28,676.67 424.7,675 C424.12,673.33 423.38,671.67 422.9,670 C422.42,668.33 422.02,666.67 421.8,665 C421.58,663.33 421.6,661.67 421.6,660 C421.6,658.33 421.72,656.67 421.8,655 C421.88,653.33 422.02,651.67 422.1,650 C422.18,648.33 422.17,646.67 422.3,645 C422.43,643.33 422.66,641.67 422.9,640 C423.14,638.33 423.5,636.67 423.75,635 C424,633.33 424.19,631.67 424.4,630 C424.61,628.33 424.72,626.67 425,625 C425.28,623.33 425.73,621.67 426.1,620 C426.47,618.33 426.8,616.67 427.2,615 C427.6,613.33 428.12,611.67 428.5,610 C428.88,608.33 429.18,606.67 429.5,605 C429.82,603.33 430.1,601.67 430.4,600 C430.7,598.33 431.05,596.67 431.3,595 C431.55,593.33 431.68,591.67 431.9,590 C432.12,588.33 432.35,586.67 432.6,585 C432.85,583.33 433.22,580.87 433.4,580 C433.58,579.13 433.65,579.83 433.7,579.8 Z" fill="#d95f02" fill-opacity="0.25" stroke="#d95f02" stroke-width="2.6" stroke-linejoin="miter" stroke-miterlimit="3"/>
<path d="M434.9,621.3 L441.3,621.3 L441.3,635.36 L440.1,651.5 L441.3,667.64 L441.3,670.2 L434.9,670.2 L434.9,667.64 L436.1,651.5 L434.9,635.36 Z" fill="#34251a" stroke="#1f150e" stroke-width="1" stroke-linejoin="miter"/>
<line x1="438.1" y1="624.8" x2="438.1" y2="645.5" stroke="#d95f02" stroke-opacity="0.85" stroke-width="0.6"/>
<line x1="438.1" y1="657.5" x2="438.1" y2="666.7" stroke="#d95f02" stroke-opacity="0.85" stroke-width="0.6"/>
<path d="M433.7,579.8 L442.5,579.8 C442.55,579.83 442.62,579.13 442.8,580 C442.98,580.87 443.35,583.33 443.6,585 C443.85,586.67 444.08,588.33 444.3,590 C444.52,591.67 444.65,593.33 444.9,595 C445.15,596.67 445.5,598.33 445.8,600 C446.1,601.67 446.38,603.33 446.7,605 C447.02,606.67 447.32,608.33 447.7,610 C448.08,611.67 448.6,613.33 449,615 C449.4,616.67 449.73,618.33 450.1,620 C450.47,621.67 450.92,623.33 451.2,625 C451.48,626.67 451.59,628.33 451.8,630 C452.01,631.67 452.2,633.33 452.45,635 C452.7,636.67 453.06,638.33 453.3,640 C453.54,641.67 453.77,643.33 453.9,645 C454.03,646.67 454.02,648.33 454.1,650 C454.18,651.67 454.32,653.33 454.4,655 C454.48,656.67 454.6,658.33 454.6,660 C454.6,661.67 454.62,663.33 454.4,665 C454.18,666.67 453.78,668.33 453.3,670 C452.82,671.67 452.08,673.33 451.5,675 C450.92,676.67 450.38,678.33 449.8,680 C449.22,681.67 448.58,683.33 448,685 C447.42,686.67 446.83,688.33 446.3,690 C445.77,691.67 445.28,693.33 444.8,695 C444.32,696.67 443.8,698.33 443.4,700 C443,701.67 442.63,703.65 442.4,705 C442.17,706.35 442.07,707.58 442,708.1 L434.2,708.1 C434.13,707.58 434.03,706.35 433.8,705 C433.57,703.65 433.2,701.67 432.8,700 C432.4,698.33 431.88,696.67 431.4,695 C430.92,693.33 430.43,691.67 429.9,690 C429.37,688.33 428.78,686.67 428.2,685 C427.62,683.33 426.98,681.67 426.4,680 C425.82,678.33 425.28,676.67 424.7,675 C424.12,673.33 423.38,671.67 422.9,670 C422.42,668.33 422.02,666.67 421.8,665 C421.58,663.33 421.6,661.67 421.6,660 C421.6,658.33 421.72,656.67 421.8,655 C421.88,653.33 422.02,651.67 422.1,650 C422.18,648.33 422.17,646.67 422.3,645 C422.43,643.33 422.66,641.67 422.9,640 C423.14,638.33 423.5,636.67 423.75,635 C424,633.33 424.19,631.67 424.4,630 C424.61,628.33 424.72,626.67 425,625 C425.28,623.33 425.73,621.67 426.1,620 C426.47,618.33 426.8,616.67 427.2,615 C427.6,613.33 428.12,611.67 428.5,610 C428.88,608.33 429.18,606.67 429.5,605 C429.82,603.33 430.1,601.67 430.4,600 C430.7,598.33 431.05,596.67 431.3,595 C431.55,593.33 431.68,591.67 431.9,590 C432.12,588.33 432.35,586.67 432.6,585 C432.85,583.33 433.22,580.87 433.4,580 C433.58,579.13 433.65,579.83 433.7,579.8 Z" fill="none" stroke="#d95f02" stroke-width="2.6" stroke-linejoin="miter" stroke-miterlimit="3"/>
<line x1="438.1" y1="579.8" x2="438.1" y2="621.3" stroke="#000" stroke-width="2.8" stroke-linecap="round"/>
<line x1="438.1" y1="670.2" x2="438.1" y2="708.1" stroke="#000" stroke-width="2.8" stroke-linecap="round"/>
<circle cx="438.1" cy="651.5" r="1.3" fill="#000"/>
<path d="M476.8,576.6 L480.2,576.6 C480.2,578.83 480.15,586.93 480.2,590 C480.25,593.07 480.35,593.33 480.5,595 C480.65,596.67 480.85,598.33 481.1,600 C481.35,601.67 481.63,603.33 482,605 C482.37,606.67 482.87,608.33 483.3,610 C483.73,611.67 484.2,613.33 484.6,615 C485,616.67 485.35,618.33 485.7,620 C486.05,621.67 486.38,623.33 486.7,625 C487.02,626.67 487.3,628.33 487.6,630 C487.9,631.67 488.18,633.33 488.5,635 C488.82,636.67 489.13,638.33 489.5,640 C489.87,641.67 490.34,643.33 490.7,645 C491.06,646.67 491.32,648.33 491.65,650 C491.98,651.67 492.39,653.33 492.7,655 C493.01,656.67 493.27,658.33 493.5,660 C493.73,661.67 493.92,663.33 494.1,665 C494.28,666.67 494.52,668.33 494.6,670 C494.68,671.67 494.63,673.33 494.6,675 C494.57,676.67 494.52,678.33 494.4,680 C494.28,681.67 494.08,683.33 493.9,685 C493.72,686.67 493.55,688.33 493.3,690 C493.05,691.67 492.7,693.33 492.4,695 C492.1,696.67 491.83,698.33 491.5,700 C491.17,701.67 490.75,703.33 490.4,705 C490.05,706.67 489.75,708.33 489.4,710 C489.05,711.67 488.63,713.33 488.3,715 C487.97,716.67 487.62,718.87 487.4,720 C487.18,721.13 487.07,721.5 487,721.8 L470,721.8 C469.93,721.5 469.82,721.13 469.6,720 C469.38,718.87 469.03,716.67 468.7,715 C468.37,713.33 467.95,711.67 467.6,710 C467.25,708.33 466.95,706.67 466.6,705 C466.25,703.33 465.83,701.67 465.5,700 C465.17,698.33 464.9,696.67 464.6,695 C464.3,693.33 463.95,691.67 463.7,690 C463.45,688.33 463.28,686.67 463.1,685 C462.92,683.33 462.72,681.67 462.6,680 C462.48,678.33 462.43,676.67 462.4,675 C462.37,673.33 462.32,671.67 462.4,670 C462.48,668.33 462.72,666.67 462.9,665 C463.08,663.33 463.27,661.67 463.5,660 C463.73,658.33 463.99,656.67 464.3,655 C464.61,653.33 465.02,651.67 465.35,650 C465.68,648.33 465.94,646.67 466.3,645 C466.66,643.33 467.13,641.67 467.5,640 C467.87,638.33 468.18,636.67 468.5,635 C468.82,633.33 469.1,631.67 469.4,630 C469.7,628.33 469.98,626.67 470.3,625 C470.62,623.33 470.95,621.67 471.3,620 C471.65,618.33 472,616.67 472.4,615 C472.8,613.33 473.27,611.67 473.7,610 C474.13,608.33 474.63,606.67 475,605 C475.37,603.33 475.65,601.67 475.9,600 C476.15,598.33 476.35,596.67 476.5,595 C476.65,593.33 476.75,593.07 476.8,590 C476.85,586.93 476.8,578.83 476.8,576.6 Z" fill="#7570b3" fill-opacity="0.25" stroke="#7570b3" stroke-width="2.6" stroke-linejoin="miter" stroke-miterlimit="3"/>
<path d="M475.3,643.9 L481.7,643.9 L481.7,653.35 L480.5,671.3 L481.7,689.25 L481.7,698.3 L475.3,698.3 L475.3,689.25 L476.5,671.3 L475.3,653.35 Z" fill="#28272f" stroke="#17161c" stroke-width="1" stroke-linejoin="miter"/>
<line x1="478.5" y1="647.4" x2="478.5" y2="665.3" stroke="#7570b3" stroke-opacity="0.85" stroke-width="0.6"/>
<line x1="478.5" y1="677.3" x2="478.5" y2="694.8" stroke="#7570b3" stroke-opacity="0.85" stroke-width="0.6"/>
<path d="M476.8,576.6 L480.2,576.6 C480.2,578.83 480.15,586.93 480.2,590 C480.25,593.07 480.35,593.33 480.5,595 C480.65,596.67 480.85,598.33 481.1,600 C481.35,601.67 481.63,603.33 482,605 C482.37,606.67 482.87,608.33 483.3,610 C483.73,611.67 484.2,613.33 484.6,615 C485,616.67 485.35,618.33 485.7,620 C486.05,621.67 486.38,623.33 486.7,625 C487.02,626.67 487.3,628.33 487.6,630 C487.9,631.67 488.18,633.33 488.5,635 C488.82,636.67 489.13,638.33 489.5,640 C489.87,641.67 490.34,643.33 490.7,645 C491.06,646.67 491.32,648.33 491.65,650 C491.98,651.67 492.39,653.33 492.7,655 C493.01,656.67 493.27,658.33 493.5,660 C493.73,661.67 493.92,663.33 494.1,665 C494.28,666.67 494.52,668.33 494.6,670 C494.68,671.67 494.63,673.33 494.6,675 C494.57,676.67 494.52,678.33 494.4,680 C494.28,681.67 494.08,683.33 493.9,685 C493.72,686.67 493.55,688.33 493.3,690 C493.05,691.67 492.7,693.33 492.4,695 C492.1,696.67 491.83,698.33 491.5,700 C491.17,701.67 490.75,703.33 490.4,705 C490.05,706.67 489.75,708.33 489.4,710 C489.05,711.67 488.63,713.33 488.3,715 C487.97,716.67 487.62,718.87 487.4,720 C487.18,721.13 487.07,721.5 487,721.8 L470,721.8 C469.93,721.5 469.82,721.13 469.6,720 C469.38,718.87 469.03,716.67 468.7,715 C468.37,713.33 467.95,711.67 467.6,710 C467.25,708.33 466.95,706.67 466.6,705 C466.25,703.33 465.83,701.67 465.5,700 C465.17,698.33 464.9,696.67 464.6,695 C464.3,693.33 463.95,691.67 463.7,690 C463.45,688.33 463.28,686.67 463.1,685 C462.92,683.33 462.72,681.67 462.6,680 C462.48,678.33 462.43,676.67 462.4,675 C462.37,673.33 462.32,671.67 462.4,670 C462.48,668.33 462.72,666.67 462.9,665 C463.08,663.33 463.27,661.67 463.5,660 C463.73,658.33 463.99,656.67 464.3,655 C464.61,653.33 465.02,651.67 465.35,650 C465.68,648.33 465.94,646.67 466.3,645 C466.66,643.33 467.13,641.67 467.5,640 C467.87,638.33 468.18,636.67 468.5,635 C468.82,633.33 469.1,631.67 469.4,630 C469.7,628.33 469.98,626.67 470.3,625 C470.62,623.33 470.95,621.67 471.3,620 C471.65,618.33 472,616.67 472.4,615 C472.8,613.33 473.27,611.67 473.7,610 C474.13,608.33 474.63,606.67 475,605 C475.37,603.33 475.65,601.67 475.9,600 C476.15,598.33 476.35,596.67 476.5,595 C476.65,593.33 476.75,593.07 476.8,590 C476.85,586.93 476.8,578.83 476.8,576.6 Z" fill="none" stroke="#7570b3" stroke-width="2.6" stroke-linejoin="miter" stroke-miterlimit="3"/>
<line x1="478.5" y1="576.6" x2="478.5" y2="643.9" stroke="#000" stroke-width="2.8" stroke-linecap="round"/>
<line x1="478.5" y1="698.3" x2="478.5" y2="721.8" stroke="#000" stroke-width="2.8" stroke-linecap="round"/>
<circle cx="478.5" cy="671.3" r="1.3" fill="#000"/>
<circle cx="518.9" cy="663.5" r="2.3" fill="#111"/>
<path d="M516.8,664.8 L521,664.8 C521.02,665.17 521.08,666.13 521.1,667 C521.12,667.87 521.05,668.67 521.1,670 C521.15,671.33 521.27,673.33 521.4,675 C521.53,676.67 521.53,678.33 521.9,680 C522.27,681.67 522.72,683.33 523.6,685 C524.48,686.67 526,688.33 527.2,690 C528.4,691.67 529.78,693.33 530.8,695 C531.82,696.67 532.63,698.33 533.3,700 C533.97,701.67 534.5,703.33 534.8,705 C535.1,706.67 535.3,708.33 535.1,710 C534.9,711.67 534.4,713.33 533.6,715 C532.8,716.67 531.43,718.33 530.3,720 C529.17,721.67 527.77,723.33 526.8,725 C525.83,726.67 525.02,728.33 524.5,730 C523.98,731.67 523.85,733.7 523.7,735 C523.55,736.3 523.62,737.33 523.6,737.8 L514.2,737.8 C514.18,737.33 514.25,736.3 514.1,735 C513.95,733.7 513.82,731.67 513.3,730 C512.78,728.33 511.97,726.67 511,725 C510.03,723.33 508.63,721.67 507.5,720 C506.37,718.33 505,716.67 504.2,715 C503.4,713.33 502.9,711.67 502.7,710 C502.5,708.33 502.7,706.67 503,705 C503.3,703.33 503.83,701.67 504.5,700 C505.17,698.33 505.98,696.67 507,695 C508.02,693.33 509.4,691.67 510.6,690 C511.8,688.33 513.32,686.67 514.2,685 C515.08,683.33 515.53,681.67 515.9,680 C516.27,678.33 516.27,676.67 516.4,675 C516.53,673.33 516.65,671.33 516.7,670 C516.75,668.67 516.68,667.87 516.7,667 C516.72,666.13 516.78,665.17 516.8,664.8 Z" fill="#e7298a" fill-opacity="0.25" stroke="#e7298a" stroke-width="2.6" stroke-linejoin="miter" stroke-miterlimit="3"/>
<path d="M515.7,698.4 L522.1,698.4 L522.1,701.34 L520.9,708.7 L522.1,716.06 L522.1,720.7 L515.7,720.7 L515.7,716.06 L516.9,708.7 L515.7,701.34 Z" fill="#351e2a" stroke="#201119" stroke-width="1" stroke-linejoin="miter"/>
<line x1="518.9" y1="701.9" x2="518.9" y2="702.7" stroke="#e7298a" stroke-opacity="0.85" stroke-width="0.6"/>
<line x1="518.9" y1="714.7" x2="518.9" y2="717.2" stroke="#e7298a" stroke-opacity="0.85" stroke-width="0.6"/>
<path d="M516.8,664.8 L521,664.8 C521.02,665.17 521.08,666.13 521.1,667 C521.12,667.87 521.05,668.67 521.1,670 C521.15,671.33 521.27,673.33 521.4,675 C521.53,676.67 521.53,678.33 521.9,680 C522.27,681.67 522.72,683.33 523.6,685 C524.48,686.67 526,688.33 527.2,690 C528.4,691.67 529.78,693.33 530.8,695 C531.82,696.67 532.63,698.33 533.3,700 C533.97,701.67 534.5,703.33 534.8,705 C535.1,706.67 535.3,708.33 535.1,710 C534.9,711.67 534.4,713.33 533.6,715 C532.8,716.67 531.43,718.33 530.3,720 C529.17,721.67 527.77,723.33 526.8,725 C525.83,726.67 525.02,728.33 524.5,730 C523.98,731.67 523.85,733.7 523.7,735 C523.55,736.3 523.62,737.33 523.6,737.8 L514.2,737.8 C514.18,737.33 514.25,736.3 514.1,735 C513.95,733.7 513.82,731.67 513.3,730 C512.78,728.33 511.97,726.67 511,725 C510.03,723.33 508.63,721.67 507.5,720 C506.37,718.33 505,716.67 504.2,715 C503.4,713.33 502.9,711.67 502.7,710 C502.5,708.33 502.7,706.67 503,705 C503.3,703.33 503.83,701.67 504.5,700 C505.17,698.33 505.98,696.67 507,695 C508.02,693.33 509.4,691.67 510.6,690 C511.8,688.33 513.32,686.67 514.2,685 C515.08,683.33 515.53,681.67 515.9,680 C516.27,678.33 516.27,676.67 516.4,675 C516.53,673.33 516.65,671.33 516.7,670 C516.75,668.67 516.68,667.87 516.7,667 C516.72,666.13 516.78,665.17 516.8,664.8 Z" fill="none" stroke="#e7298a" stroke-width="2.6" stroke-linejoin="miter" stroke-miterlimit="3"/>
<line x1="518.9" y1="678.6" x2="518.9" y2="698.4" stroke="#000" stroke-width="2.8" stroke-linecap="round"/>
<line x1="518.9" y1="720.7" x2="518.9" y2="737.8" stroke="#000" stroke-width="2.8" stroke-linecap="round"/>
<circle cx="518.9" cy="708.7" r="1.3" fill="#000"/>
<path d="M555.6,631 L563,631 C563.33,631.67 564.38,633.5 565,635 C565.62,636.5 566.17,638.33 566.7,640 C567.23,641.67 567.73,643.33 568.2,645 C568.67,646.67 569.12,648.33 569.5,650 C569.88,651.67 570.18,653.33 570.5,655 C570.82,656.67 571.13,658.33 571.4,660 C571.67,661.67 571.87,663.33 572.1,665 C572.33,666.67 572.58,668.33 572.8,670 C573.02,671.67 573.23,673.33 573.4,675 C573.57,676.67 573.65,678.33 573.8,680 C573.95,681.67 574.15,683.33 574.3,685 C574.45,686.67 574.6,688.33 574.7,690 C574.8,691.67 574.83,693.33 574.9,695 C574.97,696.67 575.02,698.33 575.1,700 C575.18,701.67 575.32,703.33 575.4,705 C575.48,706.67 575.57,708.33 575.6,710 C575.63,711.67 575.63,713.33 575.6,715 C575.57,716.67 575.58,718.33 575.4,720 C575.22,721.67 574.9,723.33 574.5,725 C574.1,726.67 573.62,728.33 573,730 C572.38,731.67 571.53,733.33 570.8,735 C570.07,736.67 569.28,738.33 568.6,740 C567.92,741.67 567.3,743.33 566.7,745 C566.1,746.67 565.48,748.33 565,750 C564.52,751.67 564.13,753.33 563.8,755 C563.47,756.67 563.22,758.33 563,760 C562.78,761.67 562.6,762.82 562.5,765 C562.4,767.18 562.42,771.75 562.4,773.1 L556.2,773.1 C556.18,771.75 556.2,767.18 556.1,765 C556,762.82 555.82,761.67 555.6,760 C555.38,758.33 555.13,756.67 554.8,755 C554.47,753.33 554.08,751.67 553.6,750 C553.12,748.33 552.5,746.67 551.9,745 C551.3,743.33 550.68,741.67 550,740 C549.32,738.33 548.53,736.67 547.8,735 C547.07,733.33 546.22,731.67 545.6,730 C544.98,728.33 544.5,726.67 544.1,725 C543.7,723.33 543.38,721.67 543.2,720 C543.02,718.33 543.03,716.67 543,715 C542.97,713.33 542.97,711.67 543,710 C543.03,708.33 543.12,706.67 543.2,705 C543.28,703.33 543.42,701.67 543.5,700 C543.58,698.33 543.63,696.67 543.7,695 C543.77,693.33 543.8,691.67 543.9,690 C544,688.33 544.15,686.67 544.3,685 C544.45,683.33 544.65,681.67 544.8,680 C544.95,678.33 545.03,676.67 545.2,675 C545.37,673.33 545.58,671.67 545.8,670 C546.02,668.33 546.27,666.67 546.5,665 C546.73,663.33 546.93,661.67 547.2,660 C547.47,658.33 547.78,656.67 548.1,655 C548.42,653.33 548.72,651.67 549.1,650 C549.48,648.33 549.93,646.67 550.4,645 C550.87,643.33 551.37,641.67 551.9,640 C552.43,638.33 552.98,636.5 553.6,635 C554.22,633.5 555.27,631.67 555.6,631 Z" fill="#66a61e" fill-opacity="0.25" stroke="#66a61e" stroke-width="2.6" stroke-linejoin="miter" stroke-miterlimit="3"/>
<path d="M556.1,668 L562.5,668 L562.5,679.62 L561.3,698.5 L562.5,717.38 L562.5,725.2 L556.1,725.2 L556.1,717.38 L557.3,698.5 L556.1,679.62 Z" fill="#262d1d" stroke="#161b10" stroke-width="1" stroke-linejoin="miter"/>
<line x1="559.3" y1="671.5" x2="559.3" y2="692.5" stroke="#66a61e" stroke-opacity="0.85" stroke-width="0.6"/>
<line x1="559.3" y1="704.5" x2="559.3" y2="721.7" stroke="#66a61e" stroke-opacity="0.85" stroke-width="0.6"/>
<path d="M555.6,631 L563,631 C563.33,631.67 564.38,633.5 565,635 C565.62,636.5 566.17,638.33 566.7,640 C567.23,641.67 567.73,643.33 568.2,645 C568.67,646.67 569.12,648.33 569.5,650 C569.88,651.67 570.18,653.33 570.5,655 C570.82,656.67 571.13,658.33 571.4,660 C571.67,661.67 571.87,663.33 572.1,665 C572.33,666.67 572.58,668.33 572.8,670 C573.02,671.67 573.23,673.33 573.4,675 C573.57,676.67 573.65,678.33 573.8,680 C573.95,681.67 574.15,683.33 574.3,685 C574.45,686.67 574.6,688.33 574.7,690 C574.8,691.67 574.83,693.33 574.9,695 C574.97,696.67 575.02,698.33 575.1,700 C575.18,701.67 575.32,703.33 575.4,705 C575.48,706.67 575.57,708.33 575.6,710 C575.63,711.67 575.63,713.33 575.6,715 C575.57,716.67 575.58,718.33 575.4,720 C575.22,721.67 574.9,723.33 574.5,725 C574.1,726.67 573.62,728.33 573,730 C572.38,731.67 571.53,733.33 570.8,735 C570.07,736.67 569.28,738.33 568.6,740 C567.92,741.67 567.3,743.33 566.7,745 C566.1,746.67 565.48,748.33 565,750 C564.52,751.67 564.13,753.33 563.8,755 C563.47,756.67 563.22,758.33 563,760 C562.78,761.67 562.6,762.82 562.5,765 C562.4,767.18 562.42,771.75 562.4,773.1 L556.2,773.1 C556.18,771.75 556.2,767.18 556.1,765 C556,762.82 555.82,761.67 555.6,760 C555.38,758.33 555.13,756.67 554.8,755 C554.47,753.33 554.08,751.67 553.6,750 C553.12,748.33 552.5,746.67 551.9,745 C551.3,743.33 550.68,741.67 550,740 C549.32,738.33 548.53,736.67 547.8,735 C547.07,733.33 546.22,731.67 545.6,730 C544.98,728.33 544.5,726.67 544.1,725 C543.7,723.33 543.38,721.67 543.2,720 C543.02,718.33 543.03,716.67 543,715 C542.97,713.33 542.97,711.67 543,710 C543.03,708.33 543.12,706.67 543.2,705 C543.28,703.33 543.42,701.67 543.5,700 C543.58,698.33 543.63,696.67 543.7,695 C543.77,693.33 543.8,691.67 543.9,690 C544,688.33 544.15,686.67 544.3,685 C544.45,683.33 544.65,681.67 544.8,680 C544.95,678.33 545.03,676.67 545.2,675 C545.37,673.33 545.58,671.67 545.8,670 C546.02,668.33 546.27,666.67 546.5,665 C546.73,663.33 546.93,661.67 547.2,660 C547.47,658.33 547.78,656.67 548.1,655 C548.42,653.33 548.72,651.67 549.1,650 C549.48,648.33 549.93,646.67 550.4,645 C550.87,643.33 551.37,641.67 551.9,640 C552.43,638.33 552.98,636.5 553.6,635 C554.22,633.5 555.27,631.67 555.6,631 Z" fill="none" stroke="#66a61e" stroke-width="2.6" stroke-linejoin="miter" stroke-miterlimit="3"/>
<line x1="559.3" y1="631" x2="559.3" y2="668" stroke="#000" stroke-width="2.8" stroke-linecap="round"/>
<line x1="559.3" y1="725.2" x2="559.3" y2="773.1" stroke="#000" stroke-width="2.8" stroke-linecap="round"/>
<circle cx="559.3" cy="698.5" r="1.3" fill="#000"/>
<circle cx="599.6" cy="648" r="2.9" fill="none" stroke="#222" stroke-width="1.4"/>
<circle cx="599.6" cy="621.5" r="2.3" fill="#111"/>
<path d="M598.3,622.7 L600.9,622.7 C600.83,624.25 600.57,627.78 600.5,632 C600.43,636.22 600.5,643 600.5,648 C600.5,653 600.5,657.17 600.5,662 C600.5,666.83 600.5,672.33 600.5,677 C600.5,681.67 600.47,687 600.5,690 C600.53,693 600.6,693.33 600.7,695 C600.8,696.67 600.95,698.33 601.1,700 C601.25,701.67 601.45,703.33 601.6,705 C601.75,706.67 601.85,708.33 602,710 C602.15,711.67 602.32,713.33 602.5,715 C602.68,716.67 602.82,718.33 603.1,720 C603.38,721.67 603.77,723.33 604.2,725 C604.63,726.67 605.2,728.33 605.7,730 C606.2,731.67 606.72,733.33 607.2,735 C607.68,736.67 608.23,738.33 608.6,740 C608.97,741.67 609.17,743.33 609.4,745 C609.63,746.67 609.75,748.33 610,750 C610.25,751.67 610.58,753.33 610.9,755 C611.22,756.67 611.53,758.33 611.9,760 C612.27,761.67 612.63,763.33 613.1,765 C613.57,766.67 614.28,768.33 614.7,770 C615.12,771.67 615.42,773.33 615.6,775 C615.78,776.67 615.92,778.33 615.8,780 C615.68,781.67 615.4,783.33 614.9,785 C614.4,786.67 613.6,788.33 612.8,790 C612,791.67 611.05,793.33 610.1,795 C609.15,796.67 608.03,798.33 607.1,800 C606.17,801.67 605.15,803.67 604.5,805 C603.85,806.33 603.58,807.12 603.2,808 C602.82,808.88 602.37,809.92 602.2,810.3 L597,810.3 C596.83,809.92 596.38,808.88 596,808 C595.62,807.12 595.35,806.33 594.7,805 C594.05,803.67 593.03,801.67 592.1,800 C591.17,798.33 590.05,796.67 589.1,795 C588.15,793.33 587.2,791.67 586.4,790 C585.6,788.33 584.8,786.67 584.3,785 C583.8,783.33 583.52,781.67 583.4,780 C583.28,778.33 583.42,776.67 583.6,775 C583.78,773.33 584.08,771.67 584.5,770 C584.92,768.33 585.63,766.67 586.1,765 C586.57,763.33 586.93,761.67 587.3,760 C587.67,758.33 587.98,756.67 588.3,755 C588.62,753.33 588.95,751.67 589.2,750 C589.45,748.33 589.57,746.67 589.8,745 C590.03,743.33 590.23,741.67 590.6,740 C590.97,738.33 591.52,736.67 592,735 C592.48,733.33 593,731.67 593.5,730 C594,728.33 594.57,726.67 595,725 C595.43,723.33 595.82,721.67 596.1,720 C596.38,718.33 596.52,716.67 596.7,715 C596.88,713.33 597.05,711.67 597.2,710 C597.35,708.33 597.45,706.67 597.6,705 C597.75,703.33 597.95,701.67 598.1,700 C598.25,698.33 598.4,696.67 598.5,695 C598.6,693.33 598.67,693 598.7,690 C598.73,687 598.7,681.67 598.7,677 C598.7,672.33 598.7,666.83 598.7,662 C598.7,657.17 598.7,653 598.7,648 C598.7,643 598.77,636.22 598.7,632 C598.63,627.78 598.37,624.25 598.3,622.7 Z" fill="#e6ab02" fill-opacity="0.25" stroke="#e6ab02" stroke-width="2.6" stroke-linejoin="miter" stroke-miterlimit="3"/>
<path d="M596.4,744.3 L602.8,744.3 L602.8,758.7 L601.6,770.4 L602.8,782.1 L602.8,784.1 L596.4,784.1 L596.4,782.1 L597.6,770.4 L596.4,758.7 Z" fill="#352e1a" stroke="#201b0e" stroke-width="1" stroke-linejoin="miter"/>
<line x1="599.6" y1="747.8" x2="599.6" y2="764.4" stroke="#e6ab02" stroke-opacity="0.85" stroke-width="0.6"/>
<line x1="599.6" y1="776.4" x2="599.6" y2="780.6" stroke="#e6ab02" stroke-opacity="0.85" stroke-width="0.6"/>
<path d="M598.3,622.7 L600.9,622.7 C600.83,624.25 600.57,627.78 600.5,632 C600.43,636.22 600.5,643 600.5,648 C600.5,653 600.5,657.17 600.5,662 C600.5,666.83 600.5,672.33 600.5,677 C600.5,681.67 600.47,687 600.5,690 C600.53,693 600.6,693.33 600.7,695 C600.8,696.67 600.95,698.33 601.1,700 C601.25,701.67 601.45,703.33 601.6,705 C601.75,706.67 601.85,708.33 602,710 C602.15,711.67 602.32,713.33 602.5,715 C602.68,716.67 602.82,718.33 603.1,720 C603.38,721.67 603.77,723.33 604.2,725 C604.63,726.67 605.2,728.33 605.7,730 C606.2,731.67 606.72,733.33 607.2,735 C607.68,736.67 608.23,738.33 608.6,740 C608.97,741.67 609.17,743.33 609.4,745 C609.63,746.67 609.75,748.33 610,750 C610.25,751.67 610.58,753.33 610.9,755 C611.22,756.67 611.53,758.33 611.9,760 C612.27,761.67 612.63,763.33 613.1,765 C613.57,766.67 614.28,768.33 614.7,770 C615.12,771.67 615.42,773.33 615.6,775 C615.78,776.67 615.92,778.33 615.8,780 C615.68,781.67 615.4,783.33 614.9,785 C614.4,786.67 613.6,788.33 612.8,790 C612,791.67 611.05,793.33 610.1,795 C609.15,796.67 608.03,798.33 607.1,800 C606.17,801.67 605.15,803.67 604.5,805 C603.85,806.33 603.58,807.12 603.2,808 C602.82,808.88 602.37,809.92 602.2,810.3 L597,810.3 C596.83,809.92 596.38,808.88 596,808 C595.62,807.12 595.35,806.33 594.7,805 C594.05,803.67 593.03,801.67 592.1,800 C591.17,798.33 590.05,796.67 589.1,795 C588.15,793.33 587.2,791.67 586.4,790 C585.6,788.33 584.8,786.67 584.3,785 C583.8,783.33 583.52,781.67 583.4,780 C583.28,778.33 583.42,776.67 583.6,775 C583.78,773.33 584.08,771.67 584.5,770 C584.92,768.33 585.63,766.67 586.1,765 C586.57,763.33 586.93,761.67 587.3,760 C587.67,758.33 587.98,756.67 588.3,755 C588.62,753.33 588.95,751.67 589.2,750 C589.45,748.33 589.57,746.67 589.8,745 C590.03,743.33 590.23,741.67 590.6,740 C590.97,738.33 591.52,736.67 592,735 C592.48,733.33 593,731.67 593.5,730 C594,728.33 594.57,726.67 595,725 C595.43,723.33 595.82,721.67 596.1,720 C596.38,718.33 596.52,716.67 596.7,715 C596.88,713.33 597.05,711.67 597.2,710 C597.35,708.33 597.45,706.67 597.6,705 C597.75,703.33 597.95,701.67 598.1,700 C598.25,698.33 598.4,696.67 598.5,695 C598.6,693.33 598.67,693 598.7,690 C598.73,687 598.7,681.67 598.7,677 C598.7,672.33 598.7,666.83 598.7,662 C598.7,657.17 598.7,653 598.7,648 C598.7,643 598.77,636.22 598.7,632 C598.63,627.78 598.37,624.25 598.3,622.7 Z" fill="none" stroke="#e6ab02" stroke-width="2.6" stroke-linejoin="miter" stroke-miterlimit="3"/>
<line x1="599.6" y1="693.4" x2="599.6" y2="744.3" stroke="#000" stroke-width="2.8" stroke-linecap="round"/>
<line x1="599.6" y1="784.1" x2="599.6" y2="810.3" stroke="#000" stroke-width="2.8" stroke-linecap="round"/>
<circle cx="599.6" cy="770.4" r="1.3" fill="#000"/>
<path d="M636.3,410.1 L643.7,410.1 C643.75,410.92 643.93,413.35 644,415 C644.07,416.65 644.07,417.5 644.1,420 C644.13,422.5 644.15,426.67 644.2,430 C644.25,433.33 644.33,437.5 644.4,440 C644.47,442.5 644.55,443.33 644.6,445 C644.65,446.67 644.65,448.33 644.7,450 C644.75,451.67 644.83,453.33 644.9,455 C644.97,456.67 645.03,458.33 645.1,460 C645.17,461.67 645.23,463.33 645.3,465 C645.37,466.67 645.4,468.33 645.5,470 C645.6,471.67 645.77,473.33 645.9,475 C646.03,476.67 646.17,478.33 646.3,480 C646.43,481.67 646.55,483.33 646.7,485 C646.85,486.67 647.03,488.33 647.2,490 C647.37,491.67 647.52,493.33 647.7,495 C647.88,496.67 648.1,498.33 648.3,500 C648.5,501.67 648.72,503.33 648.9,505 C649.08,506.67 649.22,508.33 649.4,510 C649.58,511.67 649.78,513.33 650,515 C650.22,516.67 650.5,518.33 650.7,520 C650.9,521.67 651.02,523.33 651.2,525 C651.38,526.67 651.6,528.33 651.8,530 C652,531.67 652.22,533.33 652.4,535 C652.58,536.67 652.72,538.33 652.9,540 C653.08,541.67 653.3,543.33 653.5,545 C653.7,546.67 653.9,548.33 654.1,550 C654.3,551.67 654.5,553.33 654.7,555 C654.9,556.67 655.12,558.33 655.3,560 C655.48,561.67 655.63,563.33 655.8,565 C655.97,566.67 656.17,568.33 656.3,570 C656.43,571.67 656.53,573.33 656.6,575 C656.67,576.67 656.7,578.33 656.7,580 C656.7,581.67 656.65,583.33 656.6,585 C656.55,586.67 656.48,588.33 656.4,590 C656.32,591.67 656.22,593.33 656.1,595 C655.98,596.67 655.83,598.33 655.7,600 C655.57,601.67 655.47,603.33 655.3,605 C655.13,606.67 654.92,608.33 654.7,610 C654.48,611.67 654.23,613.33 654,615 C653.77,616.67 653.52,618.33 653.3,620 C653.08,621.67 652.92,623.33 652.7,625 C652.48,626.67 652.22,628.33 652,630 C651.78,631.67 651.6,633.33 651.4,635 C651.2,636.67 650.93,638.33 650.8,640 C650.67,641.67 650.67,643.33 650.6,645 C650.53,646.67 650.48,648.33 650.4,650 C650.32,651.67 650.22,653.33 650.1,655 C649.98,656.67 649.83,658.33 649.7,660 C649.57,661.67 649.45,663.33 649.3,665 C649.15,666.67 649,667.5 648.8,670 C648.6,672.5 648.35,676.67 648.1,680 C647.85,683.33 647.55,686.67 647.3,690 C647.05,693.33 646.83,696.67 646.6,700 C646.37,703.33 646.1,706.67 645.9,710 C645.7,713.33 645.52,717.5 645.4,720 C645.28,722.5 645.28,723.27 645.2,725 C645.12,726.73 644.95,729.5 644.9,730.4 L635.1,730.4 C635.05,729.5 634.88,726.73 634.8,725 C634.72,723.27 634.72,722.5 634.6,720 C634.48,717.5 634.3,713.33 634.1,710 C633.9,706.67 633.63,703.33 633.4,700 C633.17,696.67 632.95,693.33 632.7,690 C632.45,686.67 632.15,683.33 631.9,680 C631.65,676.67 631.4,672.5 631.2,670 C631,667.5 630.85,666.67 630.7,665 C630.55,663.33 630.43,661.67 630.3,660 C630.17,658.33 630.02,656.67 629.9,655 C629.78,653.33 629.68,651.67 629.6,650 C629.52,648.33 629.47,646.67 629.4,645 C629.33,643.33 629.33,641.67 629.2,640 C629.07,638.33 628.8,636.67 628.6,635 C628.4,633.33 628.22,631.67 628,630 C627.78,628.33 627.52,626.67 627.3,625 C627.08,623.33 626.92,621.67 626.7,620 C626.48,618.33 626.23,616.67 626,615 C625.77,613.33 625.52,611.67 625.3,610 C625.08,608.33 624.87,606.67 624.7,605 C624.53,603.33 624.43,601.67 624.3,600 C624.17,598.33 624.02,596.67 623.9,595 C623.78,593.33 623.68,591.67 623.6,590 C623.52,588.33 623.45,586.67 623.4,585 C623.35,583.33 623.3,581.67 623.3,580 C623.3,578.33 623.33,576.67 623.4,575 C623.47,573.33 623.57,571.67 623.7,570 C623.83,568.33 624.03,566.67 624.2,565 C624.37,563.33 624.52,561.67 624.7,560 C624.88,558.33 625.1,556.67 625.3,555 C625.5,553.33 625.7,551.67 625.9,550 C626.1,548.33 626.3,546.67 626.5,545 C626.7,543.33 626.92,541.67 627.1,540 C627.28,538.33 627.42,536.67 627.6,535 C627.78,533.33 628,531.67 628.2,530 C628.4,528.33 628.62,526.67 628.8,525 C628.98,523.33 629.1,521.67 629.3,520 C629.5,518.33 629.78,516.67 630,515 C630.22,513.33 630.42,511.67 630.6,510 C630.78,508.33 630.92,506.67 631.1,505 C631.28,503.33 631.5,501.67 631.7,500 C631.9,498.33 632.12,496.67 632.3,495 C632.48,493.33 632.63,491.67 632.8,490 C632.97,488.33 633.15,486.67 633.3,485 C633.45,483.33 633.57,481.67 633.7,480 C633.83,478.33 633.97,476.67 634.1,475 C634.23,473.33 634.4,471.67 634.5,470 C634.6,468.33 634.63,466.67 634.7,465 C634.77,463.33 634.83,461.67 634.9,460 C634.97,458.33 635.03,456.67 635.1,455 C635.17,453.33 635.25,451.67 635.3,450 C635.35,448.33 635.35,446.67 635.4,445 C635.45,443.33 635.53,442.5 635.6,440 C635.67,437.5 635.75,433.33 635.8,430 C635.85,426.67 635.87,422.5 635.9,420 C635.93,417.5 635.93,416.65 636,415 C636.07,413.35 636.25,410.92 636.3,410.1 Z" fill="#a6761d" fill-opacity="0.25" stroke="#a6761d" stroke-width="2.6" stroke-linejoin="miter" stroke-miterlimit="3"/>
<path d="M636.8,533.3 L643.2,533.3 L643.2,549 L642,585 L643.2,621 L643.2,642.4 L636.8,642.4 L636.8,621 L638,585 L636.8,549 Z" fill="#2d281d" stroke="#1b1710" stroke-width="1" stroke-linejoin="miter"/>
<line x1="640" y1="536.8" x2="640" y2="579" stroke="#a6761d" stroke-opacity="0.85" stroke-width="0.6"/>
<line x1="640" y1="591" x2="640" y2="638.9" stroke="#a6761d" stroke-opacity="0.85" stroke-width="0.6"/>
<path d="M636.3,410.1 L643.7,410.1 C643.75,410.92 643.93,413.35 644,415 C644.07,416.65 644.07,417.5 644.1,420 C644.13,422.5 644.15,426.67 644.2,430 C644.25,433.33 644.33,437.5 644.4,440 C644.47,442.5 644.55,443.33 644.6,445 C644.65,446.67 644.65,448.33 644.7,450 C644.75,451.67 644.83,453.33 644.9,455 C644.97,456.67 645.03,458.33 645.1,460 C645.17,461.67 645.23,463.33 645.3,465 C645.37,466.67 645.4,468.33 645.5,470 C645.6,471.67 645.77,473.33 645.9,475 C646.03,476.67 646.17,478.33 646.3,480 C646.43,481.67 646.55,483.33 646.7,485 C646.85,486.67 647.03,488.33 647.2,490 C647.37,491.67 647.52,493.33 647.7,495 C647.88,496.67 648.1,498.33 648.3,500 C648.5,501.67 648.72,503.33 648.9,505 C649.08,506.67 649.22,508.33 649.4,510 C649.58,511.67 649.78,513.33 650,515 C650.22,516.67 650.5,518.33 650.7,520 C650.9,521.67 651.02,523.33 651.2,525 C651.38,526.67 651.6,528.33 651.8,530 C652,531.67 652.22,533.33 652.4,535 C652.58,536.67 652.72,538.33 652.9,540 C653.08,541.67 653.3,543.33 653.5,545 C653.7,546.67 653.9,548.33 654.1,550 C654.3,551.67 654.5,553.33 654.7,555 C654.9,556.67 655.12,558.33 655.3,560 C655.48,561.67 655.63,563.33 655.8,565 C655.97,566.67 656.17,568.33 656.3,570 C656.43,571.67 656.53,573.33 656.6,575 C656.67,576.67 656.7,578.33 656.7,580 C656.7,581.67 656.65,583.33 656.6,585 C656.55,586.67 656.48,588.33 656.4,590 C656.32,591.67 656.22,593.33 656.1,595 C655.98,596.67 655.83,598.33 655.7,600 C655.57,601.67 655.47,603.33 655.3,605 C655.13,606.67 654.92,608.33 654.7,610 C654.48,611.67 654.23,613.33 654,615 C653.77,616.67 653.52,618.33 653.3,620 C653.08,621.67 652.92,623.33 652.7,625 C652.48,626.67 652.22,628.33 652,630 C651.78,631.67 651.6,633.33 651.4,635 C651.2,636.67 650.93,638.33 650.8,640 C650.67,641.67 650.67,643.33 650.6,645 C650.53,646.67 650.48,648.33 650.4,650 C650.32,651.67 650.22,653.33 650.1,655 C649.98,656.67 649.83,658.33 649.7,660 C649.57,661.67 649.45,663.33 649.3,665 C649.15,666.67 649,667.5 648.8,670 C648.6,672.5 648.35,676.67 648.1,680 C647.85,683.33 647.55,686.67 647.3,690 C647.05,693.33 646.83,696.67 646.6,700 C646.37,703.33 646.1,706.67 645.9,710 C645.7,713.33 645.52,717.5 645.4,720 C645.28,722.5 645.28,723.27 645.2,725 C645.12,726.73 644.95,729.5 644.9,730.4 L635.1,730.4 C635.05,729.5 634.88,726.73 634.8,725 C634.72,723.27 634.72,722.5 634.6,720 C634.48,717.5 634.3,713.33 634.1,710 C633.9,706.67 633.63,703.33 633.4,700 C633.17,696.67 632.95,693.33 632.7,690 C632.45,686.67 632.15,683.33 631.9,680 C631.65,676.67 631.4,672.5 631.2,670 C631,667.5 630.85,666.67 630.7,665 C630.55,663.33 630.43,661.67 630.3,660 C630.17,658.33 630.02,656.67 629.9,655 C629.78,653.33 629.68,651.67 629.6,650 C629.52,648.33 629.47,646.67 629.4,645 C629.33,643.33 629.33,641.67 629.2,640 C629.07,638.33 628.8,636.67 628.6,635 C628.4,633.33 628.22,631.67 628,630 C627.78,628.33 627.52,626.67 627.3,625 C627.08,623.33 626.92,621.67 626.7,620 C626.48,618.33 626.23,616.67 626,615 C625.77,613.33 625.52,611.67 625.3,610 C625.08,608.33 624.87,606.67 624.7,605 C624.53,603.33 624.43,601.67 624.3,600 C624.17,598.33 624.02,596.67 623.9,595 C623.78,593.33 623.68,591.67 623.6,590 C623.52,588.33 623.45,586.67 623.4,585 C623.35,583.33 623.3,581.67 623.3,580 C623.3,578.33 623.33,576.67 623.4,575 C623.47,573.33 623.57,571.67 623.7,570 C623.83,568.33 624.03,566.67 624.2,565 C624.37,563.33 624.52,561.67 624.7,560 C624.88,558.33 625.1,556.67 625.3,555 C625.5,553.33 625.7,551.67 625.9,550 C626.1,548.33 626.3,546.67 626.5,545 C626.7,543.33 626.92,541.67 627.1,540 C627.28,538.33 627.42,536.67 627.6,535 C627.78,533.33 628,531.67 628.2,530 C628.4,528.33 628.62,526.67 628.8,525 C628.98,523.33 629.1,521.67 629.3,520 C629.5,518.33 629.78,516.67 630,515 C630.22,513.33 630.42,511.67 630.6,510 C630.78,508.33 630.92,506.67 631.1,505 C631.28,503.33 631.5,501.67 631.7,500 C631.9,498.33 632.12,496.67 632.3,495 C632.48,493.33 632.63,491.67 632.8,490 C632.97,488.33 633.15,486.67 633.3,485 C633.45,483.33 633.57,481.67 633.7,480 C633.83,478.33 633.97,476.67 634.1,475 C634.23,473.33 634.4,471.67 634.5,470 C634.6,468.33 634.63,466.67 634.7,465 C634.77,463.33 634.83,461.67 634.9,460 C634.97,458.33 635.03,456.67 635.1,455 C635.17,453.33 635.25,451.67 635.3,450 C635.35,448.33 635.35,446.67 635.4,445 C635.45,443.33 635.53,442.5 635.6,440 C635.67,437.5 635.75,433.33 635.8,430 C635.85,426.67 635.87,422.5 635.9,420 C635.93,417.5 635.93,416.65 636,415 C636.07,413.35 636.25,410.92 636.3,410.1 Z" fill="none" stroke="#a6761d" stroke-width="2.6" stroke-linejoin="miter" stroke-miterlimit="3"/>
<line x1="640" y1="410.1" x2="640" y2="533.3" stroke="#000" stroke-width="2.8" stroke-linecap="round"/>
<line x1="640" y1="642.4" x2="640" y2="730.4" stroke="#000" stroke-width="2.8" stroke-linecap="round"/>
<circle cx="640" cy="585" r="1.3" fill="#000"/>
<text class="xl" transform="translate(78.8,832.3) rotate(-90)" x="0" y="0" text-anchor="end" textLength="55.4" lengthAdjust="spacingAndGlyphs">Level L4</text>
<text class="xl" transform="translate(119.3,832.3) rotate(-90)" x="0" y="0" text-anchor="end" textLength="55.5" lengthAdjust="spacingAndGlyphs">Level L5</text>
<text class="xl" transform="translate(159.8,832.3) rotate(-90)" x="0" y="0" text-anchor="end" textLength="54.9" lengthAdjust="spacingAndGlyphs">Level L6</text>
<text class="xl" transform="translate(200.3,832.3) rotate(-90)" x="0" y="0" text-anchor="end" textLength="55.6" lengthAdjust="spacingAndGlyphs">Level L7</text>
<text class="xl" transform="translate(240.8,832.3) rotate(-90)" x="0" y="0" text-anchor="end" textLength="55.2" lengthAdjust="spacingAndGlyphs">Level L8</text>
<text class="xl" transform="translate(281.3,832.3) rotate(-90)" x="0" y="0" text-anchor="end" textLength="55.2" lengthAdjust="spacingAndGlyphs">Level L9</text>
<text class="xl" transform="translate(321.8,832.3) rotate(-90)" x="0" y="0" text-anchor="end" textLength="63.5" lengthAdjust="spacingAndGlyphs">Level L10</text>
<text class="xl" transform="translate(362.3,832.3) rotate(-90)" x="0" y="0" text-anchor="end" textLength="62.5" lengthAdjust="spacingAndGlyphs">Level L11</text>
<text class="xl" transform="translate(402.8,832.3) rotate(-90)" x="0" y="0" text-anchor="end" textLength="83.6" lengthAdjust="spacingAndGlyphs">HeavyW Jav</text>
<text class="xl" transform="translate(443.3,832.3) rotate(-90)" x="0" y="0" text-anchor="end" textLength="84.1" lengthAdjust="spacingAndGlyphs">Long-bld jav</text>
<text class="xl" transform="translate(483.8,832.3) rotate(-90)" x="0" y="0" text-anchor="end" textLength="83.7" lengthAdjust="spacingAndGlyphs">Versatile jav</text>
<text class="xl" transform="translate(524.3,832.3) rotate(-90)" x="0" y="0" text-anchor="end" textLength="73.2" lengthAdjust="spacingAndGlyphs">LightW jav</text>
<text class="xl" transform="translate(564.8,832.3) rotate(-90)" x="0" y="0" text-anchor="end" textLength="66.8" lengthAdjust="spacingAndGlyphs">NAm dart</text>
<text class="xl" transform="translate(605.3,832.3) rotate(-90)" x="0" y="0" text-anchor="end" textLength="78.5" lengthAdjust="spacingAndGlyphs">NAm arrow</text>
<text class="xl" transform="translate(645.8,832.3) rotate(-90)" x="0" y="0" text-anchor="end" textLength="72.3" lengthAdjust="spacingAndGlyphs">Expr spear</text>
</svg>
</div></body></html>
